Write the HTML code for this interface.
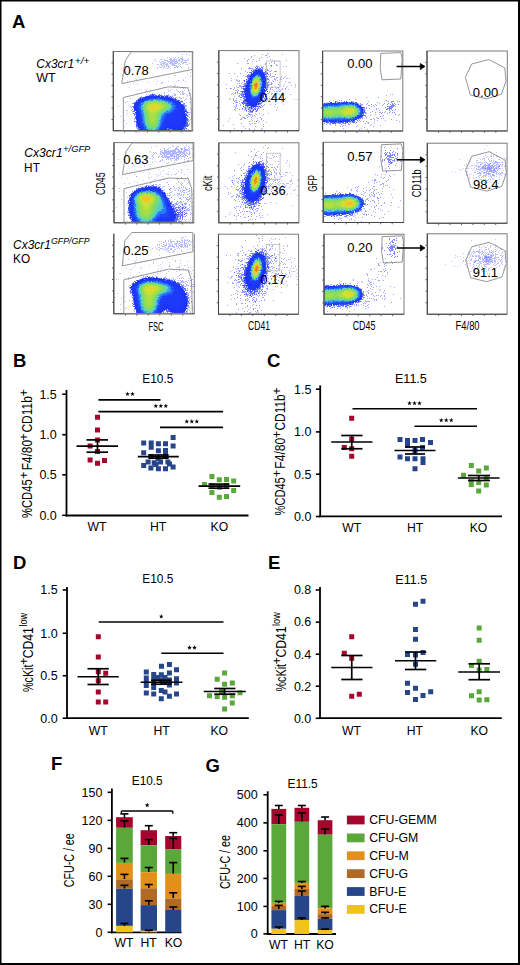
<!DOCTYPE html>
<html><head><meta charset="utf-8"><style>
html,body{margin:0;padding:0;background:#fff;}
body{width:520px;height:965px;overflow:hidden;position:relative;}
svg{position:absolute;left:0;top:0;font-family:"Liberation Sans",sans-serif;}
text{stroke:none;}
text[font-weight="bold"]{stroke:none;}
</style></head><body>
<svg width="520" height="965" viewBox="0 0 520 965">
<text x="11.90" y="27.90" font-size="18.5" font-weight="bold">A</text>
<text x="13.00" y="367.20" font-size="18.5" font-weight="bold">B</text>
<text x="267.10" y="367.20" font-size="18.5" font-weight="bold">C</text>
<text x="13.00" y="568.50" font-size="18.5" font-weight="bold">D</text>
<text x="268.00" y="568.50" font-size="18.5" font-weight="bold">E</text>
<text x="50.90" y="770.00" font-size="18.5" font-weight="bold">F</text>
<text x="205.40" y="772.30" font-size="18.5" font-weight="bold">G</text>
<line x1="66.50" y1="389.90" x2="66.50" y2="516.40" stroke="#000" stroke-width="1.8"/>
<line x1="65.60" y1="515.50" x2="248.50" y2="515.50" stroke="#000" stroke-width="1.8"/>
<line x1="62.20" y1="394.20" x2="66.50" y2="394.20" stroke="#000" stroke-width="1.6"/>
<text x="56.80" y="398.50" font-size="12.5" text-anchor="end">1.5</text>
<line x1="62.20" y1="434.70" x2="66.50" y2="434.70" stroke="#000" stroke-width="1.6"/>
<text x="56.80" y="439.00" font-size="12.5" text-anchor="end">1.0</text>
<line x1="62.20" y1="474.80" x2="66.50" y2="474.80" stroke="#000" stroke-width="1.6"/>
<text x="56.80" y="479.10" font-size="12.5" text-anchor="end">0.5</text>
<line x1="62.20" y1="515.30" x2="66.50" y2="515.30" stroke="#000" stroke-width="1.6"/>
<text x="56.80" y="519.60" font-size="12.5" text-anchor="end">0.0</text>
<text x="157.80" y="382.70" font-size="12" text-anchor="middle" textLength="31.00" lengthAdjust="spacingAndGlyphs">E10.5</text>
<text x="97.00" y="531.00" font-size="12.2" text-anchor="middle">WT</text>
<text x="158.00" y="531.00" font-size="12.2" text-anchor="middle">HT</text>
<text x="219.40" y="531.00" font-size="12.2" text-anchor="middle">KO</text>
<g transform="translate(32.40,1000.0) rotate(-90)"><text x="482.00" y="0" font-size="15.2" textLength="38.70" lengthAdjust="spacingAndGlyphs">%CD45</text><text x="524.80" y="-4.7" font-size="12" text-anchor="middle">+</text><text x="529.70" y="0" font-size="15.2" textLength="30.40" lengthAdjust="spacingAndGlyphs">F4/80</text><text x="562.90" y="-4.7" font-size="12" text-anchor="middle">+</text><text x="567.40" y="0" font-size="15.2" textLength="36.50" lengthAdjust="spacingAndGlyphs">CD11b</text><text x="607.20" y="-4.7" font-size="12" text-anchor="middle">+</text></g>
<line x1="98.40" y1="399.90" x2="160.50" y2="399.90" stroke="#000" stroke-width="1.6"/>
<path d="M127.50 391.60L128.09 393.24L129.83 393.29L128.45 394.36L128.94 396.03L127.50 395.05L126.06 396.03L126.55 394.36L125.17 393.29L126.91 393.24ZM132.50 391.60L133.09 393.24L134.83 393.29L133.45 394.36L133.94 396.03L132.50 395.05L131.06 396.03L131.55 394.36L130.17 393.29L131.91 393.24Z" fill="#000"/>
<line x1="98.40" y1="411.60" x2="223.10" y2="411.60" stroke="#000" stroke-width="1.6"/>
<path d="M155.80 403.60L156.39 405.24L158.13 405.29L156.75 406.36L157.24 408.03L155.80 407.05L154.36 408.03L154.85 406.36L153.47 405.29L155.21 405.24ZM160.80 403.60L161.39 405.24L163.13 405.29L161.75 406.36L162.24 408.03L160.80 407.05L159.36 408.03L159.85 406.36L158.47 405.29L160.21 405.24ZM165.80 403.60L166.39 405.24L168.13 405.29L166.75 406.36L167.24 408.03L165.80 407.05L164.36 408.03L164.85 406.36L163.47 405.29L165.21 405.24Z" fill="#000"/>
<line x1="160.00" y1="427.40" x2="223.10" y2="427.40" stroke="#000" stroke-width="1.6"/>
<path d="M186.80 419.10L187.39 420.74L189.13 420.79L187.75 421.86L188.24 423.53L186.80 422.55L185.36 423.53L185.85 421.86L184.47 420.79L186.21 420.74ZM191.80 419.10L192.39 420.74L194.13 420.79L192.75 421.86L193.24 423.53L191.80 422.55L190.36 423.53L190.85 421.86L189.47 420.79L191.21 420.74ZM196.80 419.10L197.39 420.74L199.13 420.79L197.75 421.86L198.24 423.53L196.80 422.55L195.36 423.53L195.85 421.86L194.47 420.79L196.21 420.74Z" fill="#000"/>
<path d="M95.0 414.8h5.0v5.0h-5.0zM95.0 427.4h5.0v5.0h-5.0zM95.0 437.4h5.0v5.0h-5.0zM87.6 443.4h5.0v5.0h-5.0zM95.0 449.0h5.0v5.0h-5.0zM87.6 457.4h5.0v5.0h-5.0zM95.0 460.7h5.0v5.0h-5.0zM102.0 457.9h5.0v5.0h-5.0z" fill="#a5062d"/>
<path d="M170.6 435.0h5.0v5.0h-5.0zM141.2 440.6h5.0v5.0h-5.0zM148.7 440.6h5.0v5.0h-5.0zM148.7 444.8h5.0v5.0h-5.0zM155.9 441.2h5.0v5.0h-5.0zM163.0 441.2h5.0v5.0h-5.0zM170.6 443.4h5.0v5.0h-5.0zM141.2 450.3h5.0v5.0h-5.0zM155.9 448.2h5.0v5.0h-5.0zM163.0 448.1h5.0v5.0h-5.0zM163.0 452.9h5.0v5.0h-5.0zM148.4 454.1h5.0v5.0h-5.0zM155.7 456.2h5.0v5.0h-5.0zM145.6 459.4h5.0v5.0h-5.0zM151.7 460.2h5.0v5.0h-5.0zM158.1 459.4h5.0v5.0h-5.0zM165.4 459.4h5.0v5.0h-5.0zM141.2 463.0h5.0v5.0h-5.0zM148.4 465.5h5.0v5.0h-5.0zM155.9 466.3h5.0v5.0h-5.0zM163.0 466.3h5.0v5.0h-5.0zM170.6 464.6h5.0v5.0h-5.0zM167.0 461.4h5.0v5.0h-5.0zM153.5 462.0h5.0v5.0h-5.0z" fill="#27468a"/>
<path d="M209.4 474.0h5.0v5.0h-5.0zM216.8 477.2h5.0v5.0h-5.0zM224.0 476.9h5.0v5.0h-5.0zM231.2 478.5h5.0v5.0h-5.0zM202.0 482.0h5.0v5.0h-5.0zM209.4 483.0h5.0v5.0h-5.0zM216.8 484.7h5.0v5.0h-5.0zM224.0 483.0h5.0v5.0h-5.0zM231.2 488.0h5.0v5.0h-5.0zM209.4 490.1h5.0v5.0h-5.0zM216.8 494.7h5.0v5.0h-5.0zM224.0 494.1h5.0v5.0h-5.0z" fill="#5aa83a"/>
<line x1="76.50" y1="446.10" x2="118.00" y2="446.10" stroke="#000" stroke-width="1.7"/>
<line x1="86.50" y1="439.90" x2="108.00" y2="439.90" stroke="#000" stroke-width="1.7"/>
<line x1="86.50" y1="452.20" x2="108.00" y2="452.20" stroke="#000" stroke-width="1.7"/>
<line x1="97.50" y1="439.90" x2="97.50" y2="452.20" stroke="#000" stroke-width="1.7"/>
<line x1="137.80" y1="456.60" x2="178.80" y2="456.60" stroke="#000" stroke-width="1.7"/>
<line x1="148.50" y1="455.00" x2="168.70" y2="455.00" stroke="#000" stroke-width="1.7"/>
<line x1="148.50" y1="458.20" x2="168.70" y2="458.20" stroke="#000" stroke-width="1.7"/>
<line x1="158.40" y1="455.00" x2="158.40" y2="458.20" stroke="#000" stroke-width="1.7"/>
<line x1="198.50" y1="486.20" x2="240.20" y2="486.20" stroke="#000" stroke-width="1.7"/>
<line x1="208.50" y1="484.10" x2="229.40" y2="484.10" stroke="#000" stroke-width="1.7"/>
<line x1="208.50" y1="488.20" x2="229.40" y2="488.20" stroke="#000" stroke-width="1.7"/>
<line x1="219.30" y1="484.10" x2="219.30" y2="488.20" stroke="#000" stroke-width="1.7"/>
<line x1="320.20" y1="385.40" x2="320.20" y2="517.30" stroke="#000" stroke-width="1.8"/>
<line x1="319.30" y1="516.40" x2="502.00" y2="516.40" stroke="#000" stroke-width="1.8"/>
<line x1="315.90" y1="389.20" x2="320.20" y2="389.20" stroke="#000" stroke-width="1.6"/>
<text x="311.40" y="393.50" font-size="12.5" text-anchor="end">1.5</text>
<line x1="315.90" y1="431.90" x2="320.20" y2="431.90" stroke="#000" stroke-width="1.6"/>
<text x="311.40" y="436.20" font-size="12.5" text-anchor="end">1.0</text>
<line x1="315.90" y1="474.20" x2="320.20" y2="474.20" stroke="#000" stroke-width="1.6"/>
<text x="311.40" y="478.50" font-size="12.5" text-anchor="end">0.5</text>
<line x1="315.90" y1="516.50" x2="320.20" y2="516.50" stroke="#000" stroke-width="1.6"/>
<text x="311.40" y="520.80" font-size="12.5" text-anchor="end">0.0</text>
<text x="410.90" y="382.50" font-size="12" text-anchor="middle" textLength="31.80" lengthAdjust="spacingAndGlyphs">E11.5</text>
<text x="351.70" y="532.00" font-size="12.2" text-anchor="middle">WT</text>
<text x="415.20" y="532.00" font-size="12.2" text-anchor="middle">HT</text>
<text x="478.50" y="532.00" font-size="12.2" text-anchor="middle">KO</text>
<g transform="translate(285.40,1000.0) rotate(-90)"><text x="484.50" y="0" font-size="15.2" textLength="38.30" lengthAdjust="spacingAndGlyphs">%CD45</text><text x="526.60" y="-4.7" font-size="12" text-anchor="middle">+</text><text x="531.30" y="0" font-size="15.2" textLength="31.00" lengthAdjust="spacingAndGlyphs">F4/80</text><text x="565.50" y="-4.7" font-size="12" text-anchor="middle">+</text><text x="569.50" y="0" font-size="15.2" textLength="36.10" lengthAdjust="spacingAndGlyphs">CD11b</text><text x="609.10" y="-4.7" font-size="12" text-anchor="middle">+</text></g>
<line x1="352.50" y1="408.75" x2="477.00" y2="408.75" stroke="#000" stroke-width="1.6"/>
<path d="M409.50 400.80L410.09 402.44L411.83 402.49L410.45 403.56L410.94 405.23L409.50 404.25L408.06 405.23L408.55 403.56L407.17 402.49L408.91 402.44ZM414.50 400.80L415.09 402.44L416.83 402.49L415.45 403.56L415.94 405.23L414.50 404.25L413.06 405.23L413.55 403.56L412.17 402.49L413.91 402.44ZM419.50 400.80L420.09 402.44L421.83 402.49L420.45 403.56L420.94 405.23L419.50 404.25L418.06 405.23L418.55 403.56L417.17 402.49L418.91 402.44Z" fill="#000"/>
<line x1="414.50" y1="426.25" x2="477.00" y2="426.25" stroke="#000" stroke-width="1.6"/>
<path d="M441.25 417.80L441.84 419.44L443.58 419.49L442.20 420.56L442.69 422.23L441.25 421.25L439.81 422.23L440.30 420.56L438.92 419.49L440.66 419.44ZM446.25 417.80L446.84 419.44L448.58 419.49L447.20 420.56L447.69 422.23L446.25 421.25L444.81 422.23L445.30 420.56L443.92 419.49L445.66 419.44ZM451.25 417.80L451.84 419.44L453.58 419.49L452.20 420.56L452.69 422.23L451.25 421.25L449.81 422.23L450.30 420.56L448.92 419.49L450.66 419.44Z" fill="#000"/>
<path d="M349.2 415.8h5.0v5.0h-5.0zM349.2 436.8h5.0v5.0h-5.0zM341.8 445.0h5.0v5.0h-5.0zM349.2 446.2h5.0v5.0h-5.0zM349.2 453.8h5.0v5.0h-5.0z" fill="#a5062d"/>
<path d="M397.5 437.0h5.0v5.0h-5.0zM405.0 438.0h5.0v5.0h-5.0zM405.0 442.5h5.0v5.0h-5.0zM412.5 438.0h5.0v5.0h-5.0zM420.0 437.0h5.0v5.0h-5.0zM428.0 440.0h5.0v5.0h-5.0zM420.0 445.0h5.0v5.0h-5.0zM412.5 448.0h5.0v5.0h-5.0zM397.5 454.5h5.0v5.0h-5.0zM405.0 456.2h5.0v5.0h-5.0zM412.5 456.2h5.0v5.0h-5.0zM420.5 456.2h5.0v5.0h-5.0zM420.5 460.0h5.0v5.0h-5.0zM412.5 466.2h5.0v5.0h-5.0z" fill="#27468a"/>
<path d="M468.8 463.1h5.0v5.0h-5.0zM483.8 465.5h5.0v5.0h-5.0zM476.2 468.5h5.0v5.0h-5.0zM461.0 472.7h5.0v5.0h-5.0zM468.8 479.0h5.0v5.0h-5.0zM476.2 480.0h5.0v5.0h-5.0zM483.8 475.6h5.0v5.0h-5.0zM483.8 482.5h5.0v5.0h-5.0zM468.8 482.0h5.0v5.0h-5.0zM476.2 488.5h5.0v5.0h-5.0z" fill="#5aa83a"/>
<line x1="331.25" y1="442.00" x2="372.50" y2="442.00" stroke="#000" stroke-width="1.7"/>
<line x1="341.25" y1="435.50" x2="362.50" y2="435.50" stroke="#000" stroke-width="1.7"/>
<line x1="341.25" y1="448.75" x2="362.50" y2="448.75" stroke="#000" stroke-width="1.7"/>
<line x1="351.75" y1="435.50" x2="351.75" y2="448.75" stroke="#000" stroke-width="1.7"/>
<line x1="394.50" y1="450.50" x2="435.50" y2="450.50" stroke="#000" stroke-width="1.7"/>
<line x1="405.00" y1="447.00" x2="425.00" y2="447.00" stroke="#000" stroke-width="1.7"/>
<line x1="405.00" y1="454.00" x2="425.00" y2="454.00" stroke="#000" stroke-width="1.7"/>
<line x1="415.00" y1="447.00" x2="415.00" y2="454.00" stroke="#000" stroke-width="1.7"/>
<line x1="458.00" y1="478.00" x2="499.50" y2="478.00" stroke="#000" stroke-width="1.7"/>
<line x1="468.00" y1="475.50" x2="490.00" y2="475.50" stroke="#000" stroke-width="1.7"/>
<line x1="468.00" y1="480.50" x2="490.00" y2="480.50" stroke="#000" stroke-width="1.7"/>
<line x1="478.75" y1="475.50" x2="478.75" y2="480.50" stroke="#000" stroke-width="1.7"/>
<line x1="67.00" y1="587.00" x2="67.00" y2="719.10" stroke="#000" stroke-width="1.8"/>
<line x1="66.10" y1="718.20" x2="248.80" y2="718.20" stroke="#000" stroke-width="1.8"/>
<line x1="62.70" y1="590.00" x2="67.00" y2="590.00" stroke="#000" stroke-width="1.6"/>
<text x="57.60" y="594.30" font-size="12.5" text-anchor="end">1.5</text>
<line x1="62.70" y1="633.25" x2="67.00" y2="633.25" stroke="#000" stroke-width="1.6"/>
<text x="57.60" y="637.55" font-size="12.5" text-anchor="end">1.0</text>
<line x1="62.70" y1="675.75" x2="67.00" y2="675.75" stroke="#000" stroke-width="1.6"/>
<text x="57.60" y="680.05" font-size="12.5" text-anchor="end">0.5</text>
<line x1="62.70" y1="718.20" x2="67.00" y2="718.20" stroke="#000" stroke-width="1.6"/>
<text x="57.60" y="722.50" font-size="12.5" text-anchor="end">0.0</text>
<text x="157.80" y="583.00" font-size="12" text-anchor="middle" textLength="31.00" lengthAdjust="spacingAndGlyphs">E10.5</text>
<text x="98.20" y="734.60" font-size="12.2" text-anchor="middle">WT</text>
<text x="161.60" y="734.60" font-size="12.2" text-anchor="middle">HT</text>
<text x="219.30" y="734.60" font-size="12.2" text-anchor="middle">KO</text>
<g transform="translate(33.10,1000.0) rotate(-90)"><text x="307.90" y="0" font-size="15.2" textLength="27.60" lengthAdjust="spacingAndGlyphs">%cKit</text><text x="338.70" y="-4.7" font-size="12" text-anchor="middle">+</text><text x="341.80" y="0" font-size="15.2" textLength="31.10" lengthAdjust="spacingAndGlyphs">CD41</text><text x="373.50" y="-6.0" font-size="11.2" textLength="13.60" lengthAdjust="spacingAndGlyphs">low</text></g>
<line x1="98.75" y1="622.00" x2="223.50" y2="622.00" stroke="#000" stroke-width="1.6"/>
<path d="M161.25 614.05L161.84 615.69L163.58 615.74L162.20 616.81L162.69 618.48L161.25 617.50L159.81 618.48L160.30 616.81L158.92 615.74L160.66 615.69Z" fill="#000"/>
<line x1="161.25" y1="653.30" x2="223.50" y2="653.30" stroke="#000" stroke-width="1.6"/>
<path d="M189.50 645.20L190.09 646.84L191.83 646.89L190.45 647.96L190.94 649.63L189.50 648.65L188.06 649.63L188.55 647.96L187.17 646.89L188.91 646.84ZM194.50 645.20L195.09 646.84L196.83 646.89L195.45 647.96L195.94 649.63L194.50 648.65L193.06 649.63L193.55 647.96L192.17 646.89L193.91 646.84Z" fill="#000"/>
<path d="M95.8 634.2h5.0v5.0h-5.0zM95.8 654.5h5.0v5.0h-5.0zM95.8 669.2h5.0v5.0h-5.0zM103.2 670.8h5.0v5.0h-5.0zM95.8 678.2h5.0v5.0h-5.0zM95.8 689.5h5.0v5.0h-5.0zM95.8 699.5h5.0v5.0h-5.0zM103.2 699.5h5.0v5.0h-5.0z" fill="#a5062d"/>
<path d="M159.0 663.8h5.0v5.0h-5.0zM166.9 661.9h5.0v5.0h-5.0zM174.0 667.2h5.0v5.0h-5.0zM143.8 669.4h5.0v5.0h-5.0zM151.2 671.9h5.0v5.0h-5.0zM158.8 672.2h5.0v5.0h-5.0zM166.9 670.6h5.0v5.0h-5.0zM143.8 675.6h5.0v5.0h-5.0zM143.8 680.0h5.0v5.0h-5.0zM143.8 683.1h5.0v5.0h-5.0zM151.2 676.2h5.0v5.0h-5.0zM151.2 680.6h5.0v5.0h-5.0zM151.2 685.0h5.0v5.0h-5.0zM155.0 675.0h5.0v5.0h-5.0zM158.8 677.5h5.0v5.0h-5.0zM162.5 675.0h5.0v5.0h-5.0zM162.5 680.0h5.0v5.0h-5.0zM166.9 677.5h5.0v5.0h-5.0zM166.9 682.5h5.0v5.0h-5.0zM174.0 676.2h5.0v5.0h-5.0zM174.0 680.6h5.0v5.0h-5.0zM143.8 690.6h5.0v5.0h-5.0zM151.2 691.5h5.0v5.0h-5.0zM158.8 688.1h5.0v5.0h-5.0zM162.5 689.4h5.0v5.0h-5.0zM166.9 693.8h5.0v5.0h-5.0zM174.0 691.5h5.0v5.0h-5.0zM158.8 696.2h5.0v5.0h-5.0z" fill="#27468a"/>
<path d="M222.1 670.6h5.0v5.0h-5.0zM214.7 676.7h5.0v5.0h-5.0zM222.1 681.8h5.0v5.0h-5.0zM229.8 680.6h5.0v5.0h-5.0zM219.0 689.0h5.0v5.0h-5.0zM207.0 693.2h5.0v5.0h-5.0zM214.7 694.1h5.0v5.0h-5.0zM222.1 694.7h5.0v5.0h-5.0zM229.8 693.2h5.0v5.0h-5.0zM237.5 690.3h5.0v5.0h-5.0zM229.8 700.6h5.0v5.0h-5.0zM222.1 706.4h5.0v5.0h-5.0z" fill="#5aa83a"/>
<line x1="77.50" y1="676.75" x2="118.75" y2="676.75" stroke="#000" stroke-width="1.7"/>
<line x1="87.50" y1="668.75" x2="108.75" y2="668.75" stroke="#000" stroke-width="1.7"/>
<line x1="87.50" y1="684.50" x2="108.75" y2="684.50" stroke="#000" stroke-width="1.7"/>
<line x1="98.25" y1="668.75" x2="98.25" y2="684.50" stroke="#000" stroke-width="1.7"/>
<line x1="140.60" y1="682.25" x2="182.50" y2="682.25" stroke="#000" stroke-width="1.7"/>
<line x1="151.00" y1="680.30" x2="171.50" y2="680.30" stroke="#000" stroke-width="1.7"/>
<line x1="151.00" y1="684.20" x2="171.50" y2="684.20" stroke="#000" stroke-width="1.7"/>
<line x1="161.25" y1="680.30" x2="161.25" y2="684.20" stroke="#000" stroke-width="1.7"/>
<line x1="203.80" y1="691.50" x2="245.80" y2="691.50" stroke="#000" stroke-width="1.7"/>
<line x1="214.20" y1="688.50" x2="235.40" y2="688.50" stroke="#000" stroke-width="1.7"/>
<line x1="214.20" y1="694.20" x2="235.40" y2="694.20" stroke="#000" stroke-width="1.7"/>
<line x1="224.60" y1="688.50" x2="224.60" y2="694.20" stroke="#000" stroke-width="1.7"/>
<line x1="320.00" y1="587.00" x2="320.00" y2="719.10" stroke="#000" stroke-width="1.8"/>
<line x1="319.10" y1="718.20" x2="501.80" y2="718.20" stroke="#000" stroke-width="1.8"/>
<line x1="315.70" y1="590.00" x2="320.00" y2="590.00" stroke="#000" stroke-width="1.6"/>
<text x="311.30" y="594.30" font-size="12.5" text-anchor="end">0.8</text>
<line x1="315.70" y1="622.10" x2="320.00" y2="622.10" stroke="#000" stroke-width="1.6"/>
<text x="311.30" y="626.40" font-size="12.5" text-anchor="end">0.6</text>
<line x1="315.70" y1="654.20" x2="320.00" y2="654.20" stroke="#000" stroke-width="1.6"/>
<text x="311.30" y="658.50" font-size="12.5" text-anchor="end">0.4</text>
<line x1="315.70" y1="686.20" x2="320.00" y2="686.20" stroke="#000" stroke-width="1.6"/>
<text x="311.30" y="690.50" font-size="12.5" text-anchor="end">0.2</text>
<line x1="315.70" y1="718.30" x2="320.00" y2="718.30" stroke="#000" stroke-width="1.6"/>
<text x="311.30" y="722.60" font-size="12.5" text-anchor="end">0.0</text>
<text x="411.20" y="583.50" font-size="12" text-anchor="middle" textLength="31.80" lengthAdjust="spacingAndGlyphs">E11.5</text>
<text x="351.40" y="734.80" font-size="12.2" text-anchor="middle">WT</text>
<text x="414.90" y="734.80" font-size="12.2" text-anchor="middle">HT</text>
<text x="479.20" y="734.80" font-size="12.2" text-anchor="middle">KO</text>
<g transform="translate(285.70,1000.0) rotate(-90)"><text x="308.50" y="0" font-size="15.2" textLength="27.60" lengthAdjust="spacingAndGlyphs">%cKit</text><text x="339.30" y="-4.7" font-size="12" text-anchor="middle">+</text><text x="342.40" y="0" font-size="15.2" textLength="31.10" lengthAdjust="spacingAndGlyphs">CD41</text><text x="374.10" y="-6.0" font-size="11.2" textLength="13.60" lengthAdjust="spacingAndGlyphs">low</text></g>
<path d="M349.2 634.2h5.0v5.0h-5.0zM341.8 650.8h5.0v5.0h-5.0zM349.2 655.8h5.0v5.0h-5.0zM349.2 693.8h5.0v5.0h-5.0zM356.8 691.8h5.0v5.0h-5.0z" fill="#a5062d"/>
<path d="M413.0 601.8h5.0v5.0h-5.0zM420.5 598.8h5.0v5.0h-5.0zM413.0 627.0h5.0v5.0h-5.0zM413.0 636.8h5.0v5.0h-5.0zM405.0 652.0h5.0v5.0h-5.0zM413.0 652.5h5.0v5.0h-5.0zM420.5 650.0h5.0v5.0h-5.0zM413.0 661.8h5.0v5.0h-5.0zM405.0 680.8h5.0v5.0h-5.0zM413.0 685.8h5.0v5.0h-5.0zM405.0 690.0h5.0v5.0h-5.0zM428.2 689.2h5.0v5.0h-5.0zM420.5 693.0h5.0v5.0h-5.0zM413.0 697.0h5.0v5.0h-5.0z" fill="#27468a"/>
<path d="M476.7 625.5h5.0v5.0h-5.0zM476.7 637.8h5.0v5.0h-5.0zM476.7 658.7h5.0v5.0h-5.0zM469.0 662.9h5.0v5.0h-5.0zM476.7 667.5h5.0v5.0h-5.0zM484.4 667.0h5.0v5.0h-5.0zM476.7 689.3h5.0v5.0h-5.0zM469.0 693.2h5.0v5.0h-5.0zM476.7 697.5h5.0v5.0h-5.0zM484.4 697.2h5.0v5.0h-5.0z" fill="#5aa83a"/>
<line x1="331.25" y1="667.50" x2="372.50" y2="667.50" stroke="#000" stroke-width="1.7"/>
<line x1="341.25" y1="655.50" x2="362.50" y2="655.50" stroke="#000" stroke-width="1.7"/>
<line x1="341.25" y1="679.50" x2="362.50" y2="679.50" stroke="#000" stroke-width="1.7"/>
<line x1="351.75" y1="655.50" x2="351.75" y2="679.50" stroke="#000" stroke-width="1.7"/>
<line x1="395.00" y1="660.75" x2="436.25" y2="660.75" stroke="#000" stroke-width="1.7"/>
<line x1="405.00" y1="652.00" x2="426.25" y2="652.00" stroke="#000" stroke-width="1.7"/>
<line x1="405.00" y1="669.50" x2="426.25" y2="669.50" stroke="#000" stroke-width="1.7"/>
<line x1="415.50" y1="652.00" x2="415.50" y2="669.50" stroke="#000" stroke-width="1.7"/>
<line x1="458.20" y1="672.00" x2="500.00" y2="672.00" stroke="#000" stroke-width="1.7"/>
<line x1="468.50" y1="663.80" x2="490.00" y2="663.80" stroke="#000" stroke-width="1.7"/>
<line x1="468.50" y1="679.70" x2="490.00" y2="679.70" stroke="#000" stroke-width="1.7"/>
<line x1="479.20" y1="663.80" x2="479.20" y2="679.70" stroke="#000" stroke-width="1.7"/>
<line x1="111.90" y1="788.50" x2="111.90" y2="933.20" stroke="#000" stroke-width="1.8"/>
<line x1="111.00" y1="932.30" x2="181.50" y2="932.30" stroke="#000" stroke-width="1.8"/>
<line x1="107.60" y1="792.30" x2="111.90" y2="792.30" stroke="#000" stroke-width="1.6"/>
<text x="102.40" y="796.60" font-size="12.5" text-anchor="end">150</text>
<line x1="107.60" y1="820.40" x2="111.90" y2="820.40" stroke="#000" stroke-width="1.6"/>
<text x="102.40" y="824.70" font-size="12.5" text-anchor="end">120</text>
<line x1="107.60" y1="848.40" x2="111.90" y2="848.40" stroke="#000" stroke-width="1.6"/>
<text x="102.40" y="852.70" font-size="12.5" text-anchor="end">90</text>
<line x1="107.60" y1="876.30" x2="111.90" y2="876.30" stroke="#000" stroke-width="1.6"/>
<text x="102.40" y="880.60" font-size="12.5" text-anchor="end">60</text>
<line x1="107.60" y1="904.30" x2="111.90" y2="904.30" stroke="#000" stroke-width="1.6"/>
<text x="102.40" y="908.60" font-size="12.5" text-anchor="end">30</text>
<line x1="107.60" y1="932.30" x2="111.90" y2="932.30" stroke="#000" stroke-width="1.6"/>
<text x="102.40" y="936.60" font-size="12.5" text-anchor="end">0</text>
<text x="147.20" y="785.40" font-size="12" text-anchor="middle" textLength="30.90" lengthAdjust="spacingAndGlyphs">E10.5</text>
<text x="124.00" y="947.20" font-size="12.2" text-anchor="middle">WT</text>
<text x="148.50" y="947.20" font-size="12.2" text-anchor="middle">HT</text>
<text x="173.50" y="947.20" font-size="12.2" text-anchor="middle">KO</text>
<g transform="translate(74.00,1000.0) rotate(-90)"><text x="112.80" y="0" font-size="15.2" textLength="53.90" lengthAdjust="spacingAndGlyphs">CFU-C / ee</text></g>
<rect x="116.10" y="817.20" width="16.70" height="10.60" fill="#a5062d"/>
<rect x="116.10" y="827.80" width="16.70" height="35.10" fill="#5aa83a"/>
<rect x="116.10" y="862.90" width="16.70" height="16.40" fill="#e2901a"/>
<rect x="116.10" y="879.30" width="16.70" height="9.50" fill="#b06a26"/>
<rect x="116.10" y="888.80" width="16.70" height="37.10" fill="#27468a"/>
<rect x="116.10" y="925.90" width="16.70" height="6.40" fill="#f0c21c"/>
<line x1="120.45" y1="813.90" x2="128.45" y2="813.90" stroke="#000" stroke-width="1.6"/>
<line x1="124.45" y1="813.90" x2="124.45" y2="818.00" stroke="#000" stroke-width="1.6"/>
<line x1="120.45" y1="820.90" x2="128.45" y2="820.90" stroke="#000" stroke-width="1.6"/>
<line x1="124.45" y1="820.90" x2="124.45" y2="827.50" stroke="#000" stroke-width="1.6"/>
<line x1="120.45" y1="858.40" x2="128.45" y2="858.40" stroke="#000" stroke-width="1.6"/>
<line x1="124.45" y1="858.40" x2="124.45" y2="862.50" stroke="#000" stroke-width="1.6"/>
<line x1="120.45" y1="874.40" x2="128.45" y2="874.40" stroke="#000" stroke-width="1.6"/>
<line x1="124.45" y1="874.40" x2="124.45" y2="879.00" stroke="#000" stroke-width="1.6"/>
<line x1="120.45" y1="885.30" x2="128.45" y2="885.30" stroke="#000" stroke-width="1.6"/>
<line x1="124.45" y1="885.30" x2="124.45" y2="888.50" stroke="#000" stroke-width="1.6"/>
<line x1="120.45" y1="923.40" x2="128.45" y2="923.40" stroke="#000" stroke-width="1.6"/>
<line x1="124.45" y1="923.40" x2="124.45" y2="926.00" stroke="#000" stroke-width="1.6"/>
<rect x="140.60" y="830.20" width="16.40" height="15.20" fill="#a5062d"/>
<rect x="140.60" y="845.40" width="16.40" height="26.80" fill="#5aa83a"/>
<rect x="140.60" y="872.20" width="16.40" height="16.10" fill="#e2901a"/>
<rect x="140.60" y="888.30" width="16.40" height="16.80" fill="#b06a26"/>
<rect x="140.60" y="905.10" width="16.40" height="25.70" fill="#27468a"/>
<rect x="140.60" y="930.80" width="16.40" height="1.50" fill="#f0c21c"/>
<line x1="144.80" y1="825.70" x2="152.80" y2="825.70" stroke="#000" stroke-width="1.6"/>
<line x1="148.80" y1="825.70" x2="148.80" y2="830.50" stroke="#000" stroke-width="1.6"/>
<line x1="144.80" y1="839.60" x2="152.80" y2="839.60" stroke="#000" stroke-width="1.6"/>
<line x1="148.80" y1="839.60" x2="148.80" y2="845.00" stroke="#000" stroke-width="1.6"/>
<line x1="144.80" y1="867.50" x2="152.80" y2="867.50" stroke="#000" stroke-width="1.6"/>
<line x1="148.80" y1="867.50" x2="148.80" y2="872.00" stroke="#000" stroke-width="1.6"/>
<line x1="144.80" y1="884.50" x2="152.80" y2="884.50" stroke="#000" stroke-width="1.6"/>
<line x1="148.80" y1="884.50" x2="148.80" y2="888.00" stroke="#000" stroke-width="1.6"/>
<line x1="144.80" y1="900.80" x2="152.80" y2="900.80" stroke="#000" stroke-width="1.6"/>
<line x1="148.80" y1="900.80" x2="148.80" y2="905.00" stroke="#000" stroke-width="1.6"/>
<line x1="144.80" y1="930.30" x2="152.80" y2="930.30" stroke="#000" stroke-width="1.6"/>
<line x1="148.80" y1="930.30" x2="148.80" y2="931.50" stroke="#000" stroke-width="1.6"/>
<rect x="165.20" y="836.00" width="16.10" height="13.50" fill="#a5062d"/>
<rect x="165.20" y="849.50" width="16.10" height="24.40" fill="#5aa83a"/>
<rect x="165.20" y="873.90" width="16.10" height="24.50" fill="#e2901a"/>
<rect x="165.20" y="898.40" width="16.10" height="11.60" fill="#b06a26"/>
<rect x="165.20" y="910.00" width="16.10" height="22.30" fill="#27468a"/>
<line x1="169.25" y1="832.70" x2="177.25" y2="832.70" stroke="#000" stroke-width="1.6"/>
<line x1="173.25" y1="832.70" x2="173.25" y2="836.50" stroke="#000" stroke-width="1.6"/>
<line x1="169.25" y1="838.40" x2="177.25" y2="838.40" stroke="#000" stroke-width="1.6"/>
<line x1="173.25" y1="838.40" x2="173.25" y2="849.00" stroke="#000" stroke-width="1.6"/>
<line x1="169.25" y1="862.60" x2="177.25" y2="862.60" stroke="#000" stroke-width="1.6"/>
<line x1="173.25" y1="862.60" x2="173.25" y2="873.50" stroke="#000" stroke-width="1.6"/>
<line x1="169.25" y1="892.80" x2="177.25" y2="892.80" stroke="#000" stroke-width="1.6"/>
<line x1="173.25" y1="892.80" x2="173.25" y2="898.00" stroke="#000" stroke-width="1.6"/>
<line x1="169.25" y1="907.00" x2="177.25" y2="907.00" stroke="#000" stroke-width="1.6"/>
<line x1="173.25" y1="907.00" x2="173.25" y2="910.00" stroke="#000" stroke-width="1.6"/>
<line x1="121.30" y1="811.00" x2="172.80" y2="811.00" stroke="#000" stroke-width="1.3"/>
<line x1="121.30" y1="811.00" x2="121.30" y2="813.80" stroke="#000" stroke-width="1.3"/>
<line x1="172.80" y1="811.00" x2="172.80" y2="813.80" stroke="#000" stroke-width="1.3"/>
<path d="M147.20 802.70L147.79 804.34L149.53 804.39L148.15 805.46L148.64 807.13L147.20 806.15L145.76 807.13L146.25 805.46L144.87 804.39L146.61 804.34Z" fill="#000"/>
<line x1="267.70" y1="791.30" x2="267.70" y2="934.90" stroke="#000" stroke-width="1.8"/>
<line x1="266.80" y1="934.00" x2="336.00" y2="934.00" stroke="#000" stroke-width="1.8"/>
<line x1="263.40" y1="794.80" x2="267.70" y2="794.80" stroke="#000" stroke-width="1.6"/>
<text x="257.60" y="799.10" font-size="12.5" text-anchor="end">500</text>
<line x1="263.40" y1="822.90" x2="267.70" y2="822.90" stroke="#000" stroke-width="1.6"/>
<text x="257.60" y="827.20" font-size="12.5" text-anchor="end">400</text>
<line x1="263.40" y1="850.80" x2="267.70" y2="850.80" stroke="#000" stroke-width="1.6"/>
<text x="257.60" y="855.10" font-size="12.5" text-anchor="end">300</text>
<line x1="263.40" y1="878.40" x2="267.70" y2="878.40" stroke="#000" stroke-width="1.6"/>
<text x="257.60" y="882.70" font-size="12.5" text-anchor="end">200</text>
<line x1="263.40" y1="906.40" x2="267.70" y2="906.40" stroke="#000" stroke-width="1.6"/>
<text x="257.60" y="910.70" font-size="12.5" text-anchor="end">100</text>
<line x1="263.40" y1="933.90" x2="267.70" y2="933.90" stroke="#000" stroke-width="1.6"/>
<text x="257.60" y="938.20" font-size="12.5" text-anchor="end">0</text>
<text x="302.60" y="787.80" font-size="12" text-anchor="middle" textLength="30.20" lengthAdjust="spacingAndGlyphs">E11.5</text>
<text x="278.60" y="949.00" font-size="12.2" text-anchor="middle">WT</text>
<text x="302.00" y="949.00" font-size="12.2" text-anchor="middle">HT</text>
<text x="325.00" y="949.00" font-size="12.2" text-anchor="middle">KO</text>
<g transform="translate(229.70,1000.0) rotate(-90)"><text x="110.90" y="0" font-size="15.2" textLength="54.00" lengthAdjust="spacingAndGlyphs">CFU-C / ee</text></g>
<rect x="271.40" y="808.90" width="14.80" height="15.30" fill="#a5062d"/>
<rect x="271.40" y="824.20" width="14.80" height="78.60" fill="#5aa83a"/>
<rect x="271.40" y="902.80" width="14.80" height="2.60" fill="#e2901a"/>
<rect x="271.40" y="905.40" width="14.80" height="4.70" fill="#b06a26"/>
<rect x="271.40" y="910.10" width="14.80" height="18.70" fill="#27468a"/>
<rect x="271.40" y="928.80" width="14.80" height="5.20" fill="#f0c21c"/>
<line x1="274.80" y1="805.50" x2="282.80" y2="805.50" stroke="#000" stroke-width="1.6"/>
<line x1="278.80" y1="805.50" x2="278.80" y2="809.00" stroke="#000" stroke-width="1.6"/>
<line x1="274.80" y1="815.00" x2="282.80" y2="815.00" stroke="#000" stroke-width="1.6"/>
<line x1="278.80" y1="815.00" x2="278.80" y2="824.00" stroke="#000" stroke-width="1.6"/>
<line x1="274.80" y1="901.40" x2="282.80" y2="901.40" stroke="#000" stroke-width="1.6"/>
<line x1="278.80" y1="901.40" x2="278.80" y2="903.00" stroke="#000" stroke-width="1.6"/>
<line x1="274.80" y1="905.40" x2="282.80" y2="905.40" stroke="#000" stroke-width="1.6"/>
<line x1="278.80" y1="905.40" x2="278.80" y2="909.00" stroke="#000" stroke-width="1.6"/>
<line x1="274.80" y1="927.00" x2="282.80" y2="927.00" stroke="#000" stroke-width="1.6"/>
<line x1="278.80" y1="927.00" x2="278.80" y2="929.00" stroke="#000" stroke-width="1.6"/>
<rect x="294.50" y="807.80" width="14.70" height="14.00" fill="#a5062d"/>
<rect x="294.50" y="821.80" width="14.70" height="61.10" fill="#5aa83a"/>
<rect x="294.50" y="882.90" width="14.70" height="6.10" fill="#e2901a"/>
<rect x="294.50" y="889.00" width="14.70" height="6.90" fill="#b06a26"/>
<rect x="294.50" y="895.90" width="14.70" height="24.10" fill="#27468a"/>
<rect x="294.50" y="920.00" width="14.70" height="14.00" fill="#f0c21c"/>
<line x1="297.85" y1="805.50" x2="305.85" y2="805.50" stroke="#000" stroke-width="1.6"/>
<line x1="301.85" y1="805.50" x2="301.85" y2="808.00" stroke="#000" stroke-width="1.6"/>
<line x1="297.85" y1="813.00" x2="305.85" y2="813.00" stroke="#000" stroke-width="1.6"/>
<line x1="301.85" y1="813.00" x2="301.85" y2="821.50" stroke="#000" stroke-width="1.6"/>
<line x1="297.85" y1="881.50" x2="305.85" y2="881.50" stroke="#000" stroke-width="1.6"/>
<line x1="301.85" y1="881.50" x2="301.85" y2="883.00" stroke="#000" stroke-width="1.6"/>
<line x1="297.85" y1="886.40" x2="305.85" y2="886.40" stroke="#000" stroke-width="1.6"/>
<line x1="301.85" y1="886.40" x2="301.85" y2="889.00" stroke="#000" stroke-width="1.6"/>
<line x1="297.85" y1="891.00" x2="305.85" y2="891.00" stroke="#000" stroke-width="1.6"/>
<line x1="301.85" y1="891.00" x2="301.85" y2="896.00" stroke="#000" stroke-width="1.6"/>
<line x1="297.85" y1="917.90" x2="305.85" y2="917.90" stroke="#000" stroke-width="1.6"/>
<line x1="301.85" y1="917.90" x2="301.85" y2="920.00" stroke="#000" stroke-width="1.6"/>
<rect x="317.70" y="820.20" width="14.70" height="14.50" fill="#a5062d"/>
<rect x="317.70" y="834.70" width="14.70" height="73.70" fill="#5aa83a"/>
<rect x="317.70" y="908.40" width="14.70" height="5.70" fill="#e2901a"/>
<rect x="317.70" y="914.10" width="14.70" height="4.60" fill="#b06a26"/>
<rect x="317.70" y="918.70" width="14.70" height="11.30" fill="#27468a"/>
<rect x="317.70" y="930.00" width="14.70" height="4.00" fill="#f0c21c"/>
<line x1="321.05" y1="817.00" x2="329.05" y2="817.00" stroke="#000" stroke-width="1.6"/>
<line x1="325.05" y1="817.00" x2="325.05" y2="820.50" stroke="#000" stroke-width="1.6"/>
<line x1="321.05" y1="829.00" x2="329.05" y2="829.00" stroke="#000" stroke-width="1.6"/>
<line x1="325.05" y1="829.00" x2="325.05" y2="834.50" stroke="#000" stroke-width="1.6"/>
<line x1="321.05" y1="906.30" x2="329.05" y2="906.30" stroke="#000" stroke-width="1.6"/>
<line x1="325.05" y1="906.30" x2="325.05" y2="908.50" stroke="#000" stroke-width="1.6"/>
<line x1="321.05" y1="912.30" x2="329.05" y2="912.30" stroke="#000" stroke-width="1.6"/>
<line x1="325.05" y1="912.30" x2="325.05" y2="914.00" stroke="#000" stroke-width="1.6"/>
<line x1="321.05" y1="917.90" x2="329.05" y2="917.90" stroke="#000" stroke-width="1.6"/>
<line x1="325.05" y1="917.90" x2="325.05" y2="918.70" stroke="#000" stroke-width="1.6"/>
<line x1="321.05" y1="929.10" x2="329.05" y2="929.10" stroke="#000" stroke-width="1.6"/>
<line x1="325.05" y1="929.10" x2="325.05" y2="930.00" stroke="#000" stroke-width="1.6"/>
<rect x="346.90" y="815.60" width="17.70" height="8.80" fill="#a5062d"/>
<text x="369.20" y="824.00" font-size="12.3">CFU-GEMM</text>
<rect x="346.90" y="833.48" width="17.70" height="8.80" fill="#5aa83a"/>
<text x="369.20" y="841.88" font-size="12.3">CFU-GM</text>
<rect x="346.90" y="851.36" width="17.70" height="8.80" fill="#e2901a"/>
<text x="369.20" y="859.76" font-size="12.3">CFU-M</text>
<rect x="346.90" y="869.24" width="17.70" height="8.80" fill="#b06a26"/>
<text x="369.20" y="877.64" font-size="12.3">CFU-G</text>
<rect x="346.90" y="887.12" width="17.70" height="8.80" fill="#27468a"/>
<text x="369.20" y="895.52" font-size="12.3">BFU-E</text>
<rect x="346.90" y="905.00" width="17.70" height="8.80" fill="#f0c21c"/>
<text x="369.20" y="913.40" font-size="12.3">CFU-E</text>
<text x="36.30" y="67.50" font-size="12.8" font-style="italic" textLength="37.80" lengthAdjust="spacingAndGlyphs">Cx3cr1</text>
<text x="74.80" y="64.00" font-size="9.3" font-style="italic" textLength="14.70" lengthAdjust="spacingAndGlyphs">+/+</text>
<text x="36.20" y="81.60" font-size="12.3" textLength="19.40" lengthAdjust="spacingAndGlyphs">WT</text>
<text x="24.20" y="156.60" font-size="12.8" font-style="italic" textLength="38.50" lengthAdjust="spacingAndGlyphs">Cx3cr1</text>
<text x="63.10" y="152.30" font-size="9.3" font-style="italic" textLength="27.20" lengthAdjust="spacingAndGlyphs">+/GFP</text>
<text x="24.10" y="171.50" font-size="12.3" textLength="15.80" lengthAdjust="spacingAndGlyphs">HT</text>
<text x="13.10" y="248.80" font-size="12.8" font-style="italic" textLength="37.70" lengthAdjust="spacingAndGlyphs">Cx3cr1</text>
<text x="51.00" y="243.80" font-size="9.3" font-style="italic" textLength="38.60" lengthAdjust="spacingAndGlyphs">GFP/GFP</text>
<text x="13.00" y="263.20" font-size="12.3" textLength="17.10" lengthAdjust="spacingAndGlyphs">KO</text>
<text transform="translate(105.10,183.65) rotate(-90)" font-size="12.5" text-anchor="middle" textLength="22.7" lengthAdjust="spacingAndGlyphs">CD45</text>
<text transform="translate(211.90,183.35) rotate(-90)" font-size="12.5" text-anchor="middle" textLength="15.5" lengthAdjust="spacingAndGlyphs">cKit</text>
<text transform="translate(316.70,183.35) rotate(-90)" font-size="12.5" text-anchor="middle" textLength="16.7" lengthAdjust="spacingAndGlyphs">GFP</text>
<text transform="translate(420.70,183.35) rotate(-90)" font-size="12.5" text-anchor="middle" textLength="27.9" lengthAdjust="spacingAndGlyphs">CD11b</text>
<text x="155.95" y="330.50" font-size="12" text-anchor="middle" textLength="15.10" lengthAdjust="spacingAndGlyphs">FSC</text>
<text x="259.05" y="329.60" font-size="12" text-anchor="middle" textLength="21.90" lengthAdjust="spacingAndGlyphs">CD41</text>
<text x="364.05" y="329.80" font-size="12" text-anchor="middle" textLength="22.70" lengthAdjust="spacingAndGlyphs">CD45</text>
<text x="467.60" y="329.80" font-size="12" text-anchor="middle" textLength="24.00" lengthAdjust="spacingAndGlyphs">F4/80</text>
<defs><filter id="spk" x="-0.1" y="-0.1" width="1.2" height="1.2" color-interpolation-filters="sRGB">
<feGaussianBlur in="SourceAlpha" stdDeviation="0.6" result="b"/>
<feTurbulence type="fractalNoise" baseFrequency="0.9" numOctaves="2" seed="5" result="n"/>
<feColorMatrix in="n" type="matrix" values="0 0 0 0 0 0 0 0 0 0 0 0 0 0 0 1 0 0 0 0" result="na"/>
<feComposite in="na" in2="b" operator="arithmetic" k1="0" k2="1" k3="1.0" k4="-1.0" result="s"/>
<feComponentTransfer in="s" result="m"><feFuncA type="linear" slope="6" intercept="0"/></feComponentTransfer>
<feFlood flood-color="#2a3cf8" flood-opacity="0.8"/>
<feComposite in2="m" operator="in"/>
</filter>
<filter id="disp" x="-0.05" y="-0.05" width="1.1" height="1.1" color-interpolation-filters="sRGB">
<feTurbulence type="fractalNoise" baseFrequency="0.7" numOctaves="1" seed="11" result="t"/>
<feDisplacementMap in="SourceGraphic" in2="t" scale="4" xChannelSelector="R" yChannelSelector="G"/>
</filter></defs>
<clipPath id="c1"><rect x="113.30" y="51.50" width="79.40" height="79.20"/></clipPath>
<g clip-path="url(#c1)">
<path d="M178 52.5h1m3 2h1m3 0h1m2 1h1m-9 1h1m-13 1h1m3 0h1m1 0h1m2 0h1m3 0h1m-13 1h1m0 0h1m2 0h1m5 0h1m0 0h1m0 0h1m5 0h1m-34 1h1m4 0h1m0 0h1m2 0h1m4 0h1m0 0h1m0 0h1m1 0h1m0 0h1m0 0h1m0 0h1m1 0h1m0 0h1m1 0h1m0 0h1m0 0h1m3 0h1m-24 1h1m0 0h1m0 0h1m0 0h1m2 0h1m0 0h1m0 0h1m0 0h1m0 0h1m1 0h1m1 0h1m0 0h1m0 0h1m1 0h1m1 0h1m0 0h1m0 0h1m1 0h1m-33 1h1m2 0h1m2 0h1m4 0h1m0 0h1m0 0h1m0 0h1m0 0h1m0 0h1m0 0h1m0 0h1m0 0h1m0 0h1m0 0h1m1 0h1m1 0h1m0 0h1m2 0h1m-25 1h1m1 0h1m0 0h1m0 0h1m2 0h1m1 0h1m0 0h1m0 0h1m1 0h1m0 0h1m0 0h1m0 0h1m3 0h1m1 0h1m0 0h1m0 0h1m0 0h1m-35 1h1m7 0h1m1 0h1m0 0h1m0 0h1m1 0h1m0 0h1m1 0h1m0 0h1m0 0h1m0 0h1m0 0h1m0 0h1m0 0h1m0 0h1m1 0h1m0 0h1m2 0h1m0 0h1m5 0h1m-33 1h1m0 0h1m1 0h1m0 0h1m1 0h1m1 0h1m0 0h1m0 0h1m3 0h1m0 0h1m0 0h1m0 0h1m3 0h1m1 0h1m5 0h1m0 0h1m4 0h1m-32 1h1m2 0h1m1 0h1m0 0h1m0 0h1m3 0h1m0 0h1m0 0h1m0 0h1m0 0h1m-18 1h1m2 0h1m1 0h1m1 0h1m1 0h1m1 0h1m5 0h1m0 0h1m0 0h1m1 0h1m-24 1h1m2 0h1m2 0h1m0 0h1m3 0h1m0 0h1m4 0h1m0 0h1m1 0h1m3 0h1m6 0h1m-32 1h1m7 0h1m1 0h1m2 0h1m17 0h1" stroke="#2838ff" stroke-opacity="0.32" stroke-width="1"/>
<path d="M157 81.5h1m3 1h1m0 0h1m-30 1h1m27 0h1m-25 1h1m18 0h1m16 2h1m-45 1h1m45 0h1m6 0h1m-44 2h1m-3 1h1m8 0h1m3 0h1m-6 1h1m36 0h1m-19 1h1m-28 1h1m23 0h1m-8 1h1m10 0h1m20 0h1m-29 1h1m0 0h1m7 0h1m-27 1h1m7 0h1m5 0h1m3 0h1m11 0h1m-27 1h1m6 0h1m12 0h1m3 0h1m13 0h1m-54 1h1m7 0h1m1 0h1m18 0h1m9 0h1m-32 1h1m21 0h1m-9 1h1m14 0h1m-41 1h1m46 0h1m6 0h1m-57 1h1m13 0h1m12 0h1m0 0h1m4 0h1m3 0h1m2 0h1m7 0h1m9 0h1m2 0h1m-35 1h1m20 0h1m4 0h1m-38 1h1m1 0h1m10 0h1m3 0h1m0 0h1m6 0h1m2 0h1m2 0h1m8 0h1m-54 1h1m14 0h1m8 0h1m2 0h1m22 0h1m4 0h1m-66 1h1m11 0h1m54 0h1m-56 1h1m7 0h1m9 0h1m16 0h1m8 0h1m0 0h1m7 0h1m-41 1h1m12 0h1m1 0h1m0 0h1m4 0h1m6 0h1m4 0h1m-39 1h1m1 0h1m13 0h1m8 0h1m16 0h1m11 0h1m-67 1h1m0 0h1m3 0h1m15 0h1m3 0h1m0 0h1m1 0h1m4 0h1m8 0h1m7 0h1m3 0h1m-49 1h1m12 0h1m5 0h1m0 0h1m22 0h1m9 0h1m-63 1h1m18 0h1m3 0h1m3 0h1m6 0h1m3 0h1m1 0h1m2 0h1m5 0h1m17 0h1m-64 1h1m29 0h1m1 0h1m4 0h1m2 0h1m2 0h1m4 0h1m-26 1h1m1 0h1m16 0h1m12 0h1m3 0h1m-61 1h1m32 0h1m2 0h1m14 0h1m-64 1h1m5 0h1m16 0h1m19 0h1m8 0h1m-28 1h1m3 0h1m4 0h1m6 0h1m9 0h1m2 0h1m-11 1h1m6 0h1m-17 1h1m3 0h1m2 0h1m3 0h1m7 0h1m-45 1h1m28 0h1m11 0h1m5 0h1m0 0h1m2 0h1m11 0h1m-65 1h1m11 0h1m0 0h1m7 0h1m11 0h1m5 0h1m2 0h1m9 0h1m-29 1h1m0 0h1m3 0h1m2 0h1m0 0h1m12 0h1m2 0h1m-47 1h1m44 0h1m8 0h1m-43 1h1m20 0h1m24 0h1m3 0h1m-43 1h1m5 0h1m-29 1h1m27 0h1m-6 1h1m4 0h1m31 0h1m-41 1h1m12 0h1m12 0h1m2 0h1m1 0h1m-36 1h1m25 0h1m4 1h1" stroke="#2838ff" stroke-opacity="0.3" stroke-width="1"/>
<path d="M190 72.5h1m-17 3h1m15 1h1m-6 1h1m-8 3h1m4 0h1m1 1h1m-12 3h1m0 1h1m-2 1h1m-12 1h1m17 0h1m6 0h1m-6 1h1m1 0h1m4 1h1m-21 1h1m6 0h1m6 0h1m-17 1h1m9 0h1m1 0h1m2 0h1m-5 1h1m2 0h1m-19 1h1m9 0h1m7 0h1m0 0h1m0 0h1m5 0h1m-23 1h1m5 0h1m0 0h1m4 0h1m1 0h1m0 0h1m-12 1h1m1 0h1m0 0h1m11 0h1m1 0h1m-21 1h1m5 1h1m0 0h1m2 0h1m12 0h1m-28 1h1m8 0h1m2 0h1m2 0h1m0 0h1m4 0h1m3 0h1m-6 1h1m4 0h1m-25 1h1m8 0h1m3 0h1m1 0h1m2 0h1m-12 1h1m1 0h1m1 0h1m0 0h1m0 0h1m0 0h1m-4 1h1m0 0h1m10 0h1m0 0h1m-22 1h1m2 0h1m1 0h1m8 0h1m0 0h1m-16 1h1m1 0h1m2 0h1m6 0h1m2 0h1m-16 1h1m8 0h1m4 0h1m0 0h1m1 0h1m-19 1h1m0 0h1m3 0h1m0 0h1m6 0h1m4 0h1m-8 1h1m4 0h1m-17 1h1m1 0h1m5 0h1m1 0h1m0 0h1m-17 1h1m14 0h1m3 0h1m7 0h1m0 0h1m-16 1h1m1 0h1m0 0h1m1 0h1m0 0h1m2 0h1m-21 1h1m4 0h1m15 0h1m0 0h1m-8 1h1m1 0h1m0 0h1m3 0h1m0 0h1m0 0h1m-13 1h1m2 0h1m5 0h1m0 0h1m-14 1h1m4 0h1m0 0h1m3 0h1m3 0h1m0 0h1m-18 1h1m3 0h1m1 0h1m0 0h1m11 0h1m-13 1h1m0 0h1m3 0h1m-13 1h1m0 0h1m2 0h1m4 0h1m2 0h1m4 0h1m-23 1h1m13 0h1m5 0h1m-16 1h1m5 0h1m1 0h1m1 0h1m7 0h1m-25 1h1m4 0h1m6 0h1m3 0h1m0 0h1m5 0h1m-27 1h1m8 0h1m1 0h1m3 0h1m1 0h1m3 0h1m-9 1h1m4 0h1m3 0h1m5 0h1m-30 1h1m7 0h1m12 0h1m-11 1h1m1 0h1m4 0h1m8 0h1m2 0h1m-20 1h1m1 0h1m-4 1h1m8 0h1m-10 2h1m8 0h1m-7 1h1m10 0h1m1 0h1m-16 1h1m5 0h1" stroke="#2838ff" stroke-opacity="0.35" stroke-width="1"/>
<path d="M167 57.5h1m-14 3h1m7 1h1m-1 4h1m-2 2h1m15 0h1m-47 2h1m-3 2h1m-4 1h1m14 1h1m45 1h1m-66 1h1m52 0h1m14 0h1m-64 1h1m30 1h1m9 0h1m-34 1h1m0 1h1m18 0h1m27 0h1m-57 1h1m50 0h1m-37 1h1m6 0h1m3 0h1m14 0h1m7 0h1m-50 1h1m19 0h1m-18 2h1m39 1h1m6 1h1m-32 3h1m21 0h1m3 0h1m3 0h1m-62 1h1m25 0h1m27 1h1m-18 2h1m-7 1h1m8 0h1m31 2h1m-8 1h1m-25 10h1" stroke="#2838ff" stroke-opacity="0.25" stroke-width="1"/>
<g filter="url(#spk)"><path d="M188.3 130.6L152.3 131.3L142.3 131.1L135.5 130.5L133.0 123.5L132.0 114.5L130.5 108.5L130.4 105.5L131.0 103.5L133.5 100.5L138.3 97.2L145.3 94.2L151.3 92.7L157.3 92.7L167.3 94.0L173.3 95.7L181.3 99.1L185.3 101.5L187.3 103.5L189.0 106.5L189.9 109.5L191.2 116.5L191.3 121.5L190.8 125.5L189.9 128.5L189.1 130.5Z" fill-opacity="0.2" fill-rule="evenodd"/><path d="M187.3 130.6L152.3 131.3L142.3 131.1L136.3 130.5L133.8 123.5L132.7 114.5L131.0 107.5L131.1 105.5L131.8 103.5L134.3 100.5L139.3 97.3L147.3 94.1L152.3 93.2L157.3 93.3L168.3 94.8L173.3 96.3L180.3 99.2L184.1 101.5L186.3 103.5L188.1 106.5L189.3 110.5L190.5 117.5L190.4 122.5L189.0 128.5L188.1 130.5Z" fill-opacity="0.2" fill-rule="evenodd"/><path d="M186.3 130.6L152.3 131.3L143.3 131.1L137.1 130.5L135.8 127.5L134.6 123.5L133.3 113.5L131.9 108.5L131.8 105.5L132.5 103.5L135.2 100.5L139.3 97.8L146.3 94.9L151.3 93.9L157.3 93.9L167.3 95.2L173.3 96.8L179.3 99.4L183.3 101.8L186.0 104.5L187.5 107.5L188.5 111.5L189.6 117.5L189.6 122.5L188.3 127.7L186.9 130.5Z" fill-opacity="0.2" fill-rule="evenodd"/><path d="M185.3 130.5L168.3 130.6L152.3 131.3L144.3 131.1L138.0 130.5L135.6 124.5L134.3 114.5L132.7 108.5L132.6 105.5L133.3 103.5L136.1 100.5L140.3 97.9L147.3 95.2L152.3 94.4L159.3 94.7L168.3 96.0L174.3 97.8L179.3 100.1L182.9 102.5L185.5 105.5L186.7 108.5L188.1 114.5L188.7 119.5L188.4 123.5L187.3 127.5Z" fill-opacity="0.2" fill-rule="evenodd"/><path d="M183.3 130.5L171.5 130.5L169.3 129.9L166.9 130.5L161.3 131.0L152.3 131.2L138.9 130.5L137.1 126.5L136.2 123.5L135.1 114.5L133.5 108.5L133.4 105.5L134.1 103.5L137.0 100.5L141.3 98.0L147.3 95.8L152.3 94.9L158.3 95.1L167.3 96.3L173.3 98.0L178.3 100.3L181.7 102.5L184.3 105.5L185.5 108.5L187.3 116.5L187.6 120.5L187.1 124.5L185.4 128.5Z" fill-opacity="0.2" fill-rule="evenodd"/></g>
<g filter="url(#disp)">
<path d="M180.3 130.5L175.5 130.5L169.3 128.4L167.3 128.7L165.1 130.5L160.3 131.0L148.3 131.1L139.8 130.5L137.9 126.5L137.0 123.5L135.9 114.5L134.1 107.5L134.2 105.5L135.0 103.5L138.0 100.5L142.3 98.1L148.3 96.1L153.3 95.4L160.3 95.8L168.3 97.1L174.3 99.0L178.3 101.0L181.5 103.5L183.6 106.5L186.3 118.5L186.2 122.5L184.9 126.5L182.4 129.5Z" fill="#1626f5" fill-rule="evenodd"/>
<path d="M180.3 130.5L175.5 130.5L169.3 128.4L167.3 128.7L165.1 130.5L162.3 130.7L150.3 131.0L139.8 130.5L137.9 126.5L137.0 123.5L135.9 114.5L134.3 108.5L134.2 105.5L135.0 103.5L138.0 100.5L142.3 98.1L147.3 96.3L152.3 95.5L159.3 95.7L168.3 97.1L173.3 98.6L178.3 101.0L181.5 103.5L183.6 106.5L186.3 118.5L186.2 122.5L184.9 126.5L182.4 129.5Z" fill="#1b35f8" fill-rule="evenodd"/>
<path d="M162.3 130.5L152.3 130.9L141.9 130.5L139.9 126.5L139.0 123.5L137.9 114.5L136.0 107.5L136.4 104.5L138.9 101.5L143.3 98.9L148.3 97.3L152.3 96.6L157.3 96.7L166.3 97.9L171.3 99.2L176.2 101.5L179.6 104.5L180.9 107.5L181.3 113.5L182.5 119.5L182.3 121.9L181.3 124.2L179.3 125.9L177.3 126.4L175.3 126.1L170.3 124.3L168.3 124.2L166.3 125.4L162.7 130.5Z" fill="#1d38f9" fill-rule="evenodd"/>
<path d="M160.3 130.5L152.3 130.8L143.9 130.5L142.2 127.5L140.7 123.5L139.4 113.5L137.7 107.5L138.2 104.5L139.7 102.5L141.3 101.2L145.3 99.2L149.3 98.0L153.3 97.6L158.3 97.7L165.3 98.7L170.3 100.0L174.3 101.9L177.2 104.5L178.1 106.5L178.2 108.5L175.2 116.5L174.3 117.7L173.3 118.1L169.3 118.1L167.3 119.0L165.3 121.8L161.4 129.5L160.8 130.5Z" fill="#1e3bfa" fill-rule="evenodd"/>
<path d="M158.3 130.5L145.8 130.5L143.4 126.5L142.1 122.5L141.3 114.5L139.4 108.5L139.2 106.5L140.5 103.5L142.8 101.5L145.3 100.2L149.3 98.9L153.3 98.4L158.3 98.6L163.3 99.3L168.3 100.4L171.3 101.6L174.1 103.5L175.6 105.5L175.9 106.5L175.7 108.5L174.3 110.7L171.3 112.9L166.3 115.0L164.8 116.5L161.3 126.5L158.9 130.5Z" fill="#2463fa" fill-rule="evenodd"/>
<path d="M156.3 130.5L148.0 130.5L145.0 126.5L143.4 121.5L142.8 114.5L140.9 108.5L140.9 105.5L142.1 103.5L144.3 101.8L147.3 100.4L150.3 99.6L157.3 99.3L166.3 100.8L169.3 101.9L172.0 103.5L172.9 104.5L173.7 106.5L173.3 108.3L172.3 109.6L170.3 111.0L165.3 113.2L163.3 114.9L162.5 116.5L161.1 122.5L159.7 126.5L157.8 129.5L156.9 130.5Z" fill="#389dea" fill-rule="evenodd"/>
<path d="M152.3 130.5L150.3 130.0L148.3 128.5L146.7 126.5L145.4 123.5L144.7 120.5L144.1 113.5L142.1 107.5L142.3 105.5L142.8 104.5L144.9 102.5L147.3 101.3L150.3 100.4L154.3 99.9L158.3 100.1L163.3 101.0L167.3 102.2L169.7 103.5L171.4 105.5L171.3 107.6L169.4 109.5L164.3 112.1L162.3 113.5L161.0 115.5L159.6 122.5L158.1 126.5L155.3 129.6Z" fill="#60d8b7" fill-rule="evenodd"/>
<path d="M154.3 128.0L152.3 128.5L150.3 127.8L148.8 126.5L147.3 124.2L146.2 120.5L145.6 113.5L143.5 107.5L143.8 105.5L145.3 103.5L147.3 102.2L150.3 101.2L153.3 100.7L157.3 100.8L161.3 101.4L167.3 103.5L169.2 105.5L169.4 106.5L169.0 107.5L167.3 109.0L162.3 111.8L160.4 113.5L159.3 115.5L158.4 121.5L157.4 124.5L156.1 126.5Z" fill="#77da71" fill-rule="evenodd"/>
<path d="M153.3 125.9L151.3 125.8L150.3 125.2L148.5 122.5L147.8 119.5L147.2 113.5L144.9 107.5L145.2 105.5L146.3 104.1L148.3 102.8L153.3 101.5L159.3 101.8L164.7 103.5L166.2 104.5L166.9 105.5L167.0 106.5L165.3 108.5L160.6 111.5L158.5 113.5L157.6 115.5L156.3 122.7L155.3 124.5Z" fill="#92dc57" fill-rule="evenodd"/>
<path d="M152.3 122.6L151.3 122.1L150.3 120.4L149.7 114.5L146.4 107.5L146.7 105.5L147.5 104.5L149.3 103.3L151.8 102.5L154.3 102.2L159.3 102.7L163.7 104.5L164.5 105.5L164.6 106.5L164.0 107.5L158.5 111.5L156.4 113.5L155.4 115.5L154.3 121.1L153.3 122.3Z" fill="#addf43" fill-rule="evenodd"/>
<path d="M153.3 112.6L151.3 112.1L149.3 110.2L148.3 108.5L148.0 106.5L149.5 104.5L152.3 103.4L156.3 103.2L160.3 104.2L162.0 105.5L162.1 106.5L160.5 108.5L155.3 111.8Z" fill="#c9e138" fill-rule="evenodd"/>
<path d="M155.3 109.8L153.3 110.1L151.3 109.4L150.0 107.5L150.0 106.5L150.6 105.5L152.5 104.5L155.3 104.2L157.3 104.5L159.1 105.5L159.5 106.5L159.0 107.5Z" fill="#dfd830" fill-rule="evenodd"/>
</g>
</g>
<rect x="113.30" y="51.50" width="79.40" height="79.20" fill="none" stroke="#7a7a7a" stroke-width="1"/><path d="M113.30 51.50V130.70H192.70" fill="none" stroke="#444" stroke-width="1.1"/><path d="M111.5 62.8h1.8M111.5 74.1h1.8M111.5 85.4h1.8M111.5 96.8h1.8M111.5 108.1h1.8M111.5 119.4h1.8M124.6 130.7v1.8M136.0 130.7v1.8M147.3 130.7v1.8M158.7 130.7v1.8M170.0 130.7v1.8M181.4 130.7v1.8" stroke="#555" stroke-width="0.9" fill="none"/>
<path d="M131.3 51.8L125.3 60.5L121.8 83.5L192.3 69.5L192.3 51.8Z" fill="none" stroke="#8a8a8a" stroke-width="0.9"/>
<path d="M123.3 97.5L167.9 86.9L187.7 87.7L191.0 97.6L191.9 131.1L123.3 131.1Z" fill="none" stroke="#8a8a8a" stroke-width="0.9"/>
<text x="123.40" y="75.30" font-size="13.6" textLength="25.4" lengthAdjust="spacingAndGlyphs" style="stroke:none">0.78</text>
<clipPath id="c2"><rect x="114.00" y="142.60" width="79.80" height="80.20"/></clipPath>
<g clip-path="url(#c2)">
<path d="M162 142.5h1m9 3h1m13 0h1m-31 1h1m16 0h1m3 0h1m0 0h1m9 0h1m-19 1h1m5 0h1m7 0h1m0 0h1m3 0h1m-26 1h1m3 0h1m6 0h1m0 0h1m0 0h1m2 0h1m0 0h1m0 0h1m1 0h1m3 0h1m2 0h1m0 0h1m-33 1h1m3 0h1m2 0h1m6 0h1m0 0h1m0 0h1m0 0h1m0 0h1m2 0h1m0 0h1m1 0h1m0 0h1m0 0h1m0 0h1m1 0h1m3 0h1m-32 1h1m1 0h1m0 0h1m0 0h1m1 0h1m1 0h1m0 0h1m0 0h1m0 0h1m0 0h1m0 0h1m2 0h1m0 0h1m1 0h1m2 0h1m0 0h1m0 0h1m0 0h1m0 0h1m-39 1h1m9 0h1m0 0h1m2 0h1m0 0h1m0 0h1m0 0h1m0 0h1m0 0h1m0 0h1m0 0h1m0 0h1m0 0h1m0 0h1m0 0h1m1 0h1m0 0h1m0 0h1m0 0h1m0 0h1m1 0h1m0 0h1m0 0h1m3 0h1m-37 1h1m1 0h1m5 0h1m0 0h1m0 0h1m0 0h1m0 0h1m0 0h1m0 0h1m0 0h1m0 0h1m0 0h1m1 0h1m0 0h1m0 0h1m0 0h1m0 0h1m0 0h1m0 0h1m0 0h1m0 0h1m0 0h1m0 0h1m0 0h1m0 0h1m1 0h1m2 0h1m3 0h1m-40 1h1m1 0h1m3 0h1m1 0h1m0 0h1m0 0h1m0 0h1m0 0h1m0 0h1m0 0h1m0 0h1m0 0h1m0 0h1m0 0h1m0 0h1m0 0h1m0 0h1m0 0h1m2 0h1m0 0h1m1 0h1m0 0h1m0 0h1m1 0h1m0 0h1m1 0h1m0 0h1m2 0h1m-41 1h1m6 0h1m0 0h1m1 0h1m0 0h1m1 0h1m0 0h1m0 0h1m1 0h1m0 0h1m0 0h1m0 0h1m0 0h1m1 0h1m0 0h1m0 0h1m0 0h1m1 0h1m0 0h1m1 0h1m0 0h1m2 0h1m0 0h1m-38 1h1m9 0h1m1 0h1m0 0h1m0 0h1m3 0h1m0 0h1m0 0h1m1 0h1m1 0h1m0 0h1m0 0h1m1 0h1m2 0h1m1 0h1m0 0h1m5 0h1m0 0h1m-42 1h1m6 0h1m1 0h1m0 0h1m1 0h1m0 0h1m0 0h1m0 0h1m0 0h1m0 0h1m0 0h1m0 0h1m0 0h1m0 0h1m0 0h1m0 0h1m0 0h1m1 0h1m0 0h1m0 0h1m0 0h1m0 0h1m0 0h1m0 0h1m2 0h1m-35 1h1m4 0h1m4 0h1m1 0h1m0 0h1m0 0h1m0 0h1m0 0h1m4 0h1m1 0h1m0 0h1m0 0h1m5 0h1m5 0h1m-24 1h1m0 0h1m1 0h1m0 0h1m0 0h1m0 0h1m0 0h1m1 0h1m0 0h1m0 0h1m2 0h1m4 0h1m1 0h1m-27 1h1m3 0h1m1 0h1m1 0h1m4 0h1m0 0h1m1 0h1m5 0h1m-25 1h1m1 0h1m8 0h1m2 0h1m1 0h1m10 0h1m0 0h1m-34 1h1m4 0h1m23 0h1m-33 1h1m15 0h1" stroke="#2838ff" stroke-opacity="0.36" stroke-width="1"/>
<path d="M144 166.5h1m18 4h1m-38 2h1m29 2h1m-21 2h1m25 0h1m-15 1h1m27 1h1m-23 1h1m5 1h1m23 0h1m-7 1h1m-28 1h1m14 0h1m0 0h1m-44 1h1m4 0h1m20 0h1m36 0h1m-46 1h1m16 0h1m-23 1h1m20 0h1m-44 1h1m30 0h1m3 0h1m8 0h1m3 0h1m0 0h1m4 0h1m-39 1h1m10 0h1m13 0h1m2 0h1m2 0h1m16 0h1m5 0h1m-67 1h1m31 0h1m5 0h1m3 0h1m8 0h1m0 0h1m4 0h1m12 0h1m-38 1h1m16 0h1m-36 1h1m11 0h1m4 0h1m2 0h1m6 0h1m2 0h1m18 0h1m-65 1h1m23 0h1m17 0h1m10 0h1m9 0h1m-57 1h1m28 0h1m7 0h1m7 0h1m11 0h1m2 0h1m-54 1h1m13 0h1m0 0h1m16 0h1m1 0h1m10 0h1m5 0h1m-51 1h1m10 0h1m35 0h1m6 0h1m-58 1h1m2 0h1m26 0h1m6 0h1m4 0h1m6 0h1m9 0h1m-60 1h1m19 0h1m9 0h1m16 0h1m-52 1h1m38 0h1m4 0h1m11 0h1m-47 1h1m2 0h1m4 0h1m7 0h1m-40 1h1m6 0h1m12 0h1m9 0h1m4 0h1m13 0h1m5 0h1m-23 1h1m7 0h1m-3 1h1m15 0h1m10 0h1m0 0h1m-14 1h1m16 0h1m-33 1h1m9 0h1m12 0h1m9 0h1m-50 1h1m5 0h1m7 0h1m8 0h1m15 0h1m0 0h1m-52 1h1m7 0h1m6 0h1m24 0h1m5 0h1m-44 1h1m1 0h1m5 0h1m45 0h1m-68 1h1m18 0h1m8 0h1m3 0h1m18 0h1m7 0h1m2 0h1m-27 1h1m30 0h1m-47 1h1m4 0h1m24 0h1m0 0h1m1 0h1m0 0h1m1 0h1m6 0h1m-53 1h1m27 0h1m2 0h1m1 0h1m1 0h1m0 0h1m20 0h1m-42 1h1m6 0h1m7 0h1m4 0h1m1 0h1m-40 1h1m21 0h1m2 0h1m3 0h1m8 0h1m4 0h1m2 0h1m-50 1h1m11 0h1m6 0h1m6 0h1m7 0h1m2 0h1m29 0h1m-48 1h1m9 0h1m11 0h1m12 0h1m4 0h1m-41 1h1m18 0h1m-17 1h1m10 0h1m13 0h1m1 0h1m1 0h1m7 0h1m-35 1h1m7 0h1m1 0h1m1 0h1m6 0h1m6 0h1m-24 1h1m7 0h1m8 0h1m-28 1h1m13 0h1m11 0h1m5 0h1m-8 1h1m-13 1h1m12 0h1m-30 1h1m11 0h1" stroke="#2838ff" stroke-opacity="0.3" stroke-width="1"/>
<path d="M187 169.5h1m-10 2h1m2 1h1m-6 1h1m-9 1h1m2 0h1m-14 1h1m22 2h1m5 0h1m-11 1h1m0 0h1m6 0h1m-9 1h1m0 3h1m2 0h1m6 0h1m-9 1h1m1 0h1m-15 1h1m12 0h1m-1 1h1m-22 1h1m12 0h1m9 0h1m-6 1h1m2 0h1m1 0h1m-14 1h1m3 0h1m4 0h1m5 0h1m0 0h1m2 0h1m-21 1h1m8 0h1m3 0h1m3 0h1m0 0h1m-25 1h1m6 0h1m4 0h1m2 0h1m1 0h1m2 0h1m0 0h1m0 0h1m3 0h1m-10 1h1m1 0h1m5 0h1m0 0h1m3 0h1m-24 1h1m10 0h1m2 0h1m-29 1h1m8 0h1m3 0h1m7 0h1m1 0h1m9 0h1m-33 1h1m16 0h1m3 0h1m0 0h1m3 0h1m3 0h1m4 0h1m-24 1h1m0 0h1m6 0h1m3 0h1m1 0h1m5 1h1m-23 1h1m3 0h1m8 0h1m4 0h1m1 0h1m2 0h1m-22 1h1m9 0h1m0 0h1m5 0h1m2 0h1m0 0h1m2 0h1m-26 1h1m5 0h1m6 0h1m4 0h1m0 0h1m0 0h1m0 0h1m-2 1h1m-34 1h1m15 0h1m0 0h1m4 0h1m2 0h1m2 0h1m3 0h1m2 0h1m-33 1h1m17 0h1m1 0h1m0 0h1m1 0h1m10 0h1m-33 1h1m5 0h1m1 0h1m5 0h1m0 0h1m0 0h1m1 0h1m1 0h1m1 0h1m1 0h1m0 0h1m0 0h1m-19 1h1m7 0h1m0 0h1m4 0h1m1 0h1m0 0h1m3 0h1m-22 1h1m5 0h1m0 0h1m3 0h1m2 0h1m6 0h1m-20 1h1m1 0h1m7 0h1m3 0h1m0 0h1m5 0h1m1 0h1m-29 1h1m13 0h1m1 0h1m3 0h1m0 0h1m2 0h1m-17 1h1m8 0h1m2 0h1m1 0h1m0 0h1m-22 1h1m6 0h1m4 0h1m6 0h1m0 0h1m1 0h1m1 0h1m-20 1h1m2 0h1m1 0h1m2 0h1m0 0h1m4 0h1m0 0h1m0 0h1m0 0h1m-20 1h1m0 0h1m2 0h1m1 0h1m3 0h1m2 0h1m-10 1h1m5 0h1m0 0h1m0 0h1m3 0h1m3 0h1m-23 1h1m1 0h1m5 0h1m1 0h1m-9 1h1m4 0h1m1 0h1m3 0h1m2 0h1m5 0h1m-15 1h1m2 0h1m-1 1h1m3 0h1m1 0h1m-12 1h1m3 0h1m11 0h1m-24 1h1m12 0h1m-7 1h1m3 0h1m1 0h1m7 0h1m1 0h1m-25 1h1m3 0h1m3 0h1m4 0h1m5 0h1m-18 1h1m6 0h1m4 0h1m0 0h1m-20 1h1m17 0h1m6 0h1" stroke="#2838ff" stroke-opacity="0.38" stroke-width="1"/>
<path d="M151 147.5h1m8 5h1m8 2h1m-32 1h1m31 0h1m14 0h1m-23 1h1m-2 1h1m-13 1h1m-33 1h1m33 0h1m6 2h1m4 1h1m9 0h1m-9 1h1m0 0h1m-35 1h1m16 0h1m-18 1h1m10 0h1m17 0h1m22 0h1m-52 1h1m43 0h1m-18 1h1m-33 1h1m19 0h1m19 0h1m3 0h1m-40 1h1m23 0h1m17 0h1m4 0h1m-41 1h1m6 0h1m32 0h1m-14 1h1m-26 1h1m16 0h1m29 0h1m-72 1h1m29 0h1m16 0h1m-33 1h1m25 0h1m6 0h1m6 0h1m0 0h1m8 0h1m-49 2h1m20 0h1m-37 1h1m29 0h1m-25 1h1m21 0h1m5 0h1m7 0h1m3 0h1m-25 2h1m-10 1h1m34 0h1m-33 1h1m38 1h1m-17 1h1m-13 1h1m3 1h1m-27 1h1m28 1h1m-11 2h1m-13 5h1m6 15h1" stroke="#2838ff" stroke-opacity="0.25" stroke-width="1"/>
<g filter="url(#spk)"><path d="M184.0 222.6L172.0 223.1L146.0 223.4L135.0 223.2L128.9 222.6L126.8 216.6L126.1 211.6L126.4 200.6L127.6 195.6L129.4 192.6L132.0 190.0L136.0 187.1L140.0 185.2L152.0 182.4L154.0 182.4L157.0 183.3L160.0 185.2L163.5 188.6L171.0 198.8L173.0 201.0L174.0 201.6L176.0 202.1L180.0 201.6L183.0 202.1L185.0 203.2L187.0 205.6L188.0 207.6L188.7 210.6L188.6 215.6L187.0 219.7L185.0 222.2Z" fill-opacity="0.2" fill-rule="evenodd"/><path d="M182.0 222.6L146.0 223.4L136.0 223.2L129.6 222.6L127.4 216.6L126.6 210.6L127.1 199.6L127.8 196.6L128.7 194.6L130.1 192.6L133.0 189.8L136.0 187.8L140.0 185.9L152.0 183.3L155.0 183.5L158.0 184.7L161.0 186.8L164.0 189.9L171.0 199.9L173.0 202.2L174.0 203.0L176.0 203.6L180.0 203.2L182.0 203.4L184.0 204.4L186.0 206.5L187.5 210.6L187.3 215.6L185.4 219.6Z" fill-opacity="0.2" fill-rule="evenodd"/><path d="M179.0 222.6L146.0 223.3L136.0 223.1L130.4 222.6L128.1 216.6L127.3 210.6L127.7 199.6L128.4 196.6L129.3 194.6L131.0 192.4L134.0 189.7L137.0 187.9L141.0 186.3L152.0 184.2L155.0 184.4L158.0 185.5L161.0 187.6L164.0 190.7L166.3 193.6L171.0 201.1L174.0 204.5L176.0 205.4L180.0 205.2L182.0 205.5L183.8 206.6L185.0 208.1L186.0 210.6L186.2 212.6L185.3 216.6L183.2 219.6L179.6 222.6Z" fill-opacity="0.2" fill-rule="evenodd"/><path d="M177.0 222.6L146.0 223.3L137.0 223.1L131.2 222.6L128.9 216.6L128.0 210.6L128.3 199.6L129.0 196.6L130.0 194.6L131.5 192.6L134.0 190.4L138.0 188.1L141.0 186.9L145.0 186.0L153.0 185.1L156.0 185.5L159.0 186.9L162.0 189.3L164.9 192.6L171.0 202.5L174.0 206.2L177.0 207.8L181.0 208.0L182.0 208.4L183.2 209.6L184.1 212.6L183.4 215.6L182.0 217.6Z" fill-opacity="0.2" fill-rule="evenodd"/><path d="M175.0 222.6L146.0 223.3L132.1 222.6L129.6 216.6L128.7 210.6L129.0 199.6L129.6 196.6L130.6 194.6L132.2 192.6L135.0 190.4L139.0 188.3L142.0 187.3L153.0 186.0L156.0 186.4L159.0 187.8L162.0 190.2L164.2 192.6L173.0 206.9L175.0 209.3L178.6 212.6L179.1 213.6L178.8 215.6L176.5 220.6L175.4 222.6Z" fill-opacity="0.2" fill-rule="evenodd"/></g>
<g filter="url(#disp)">
<path d="M173.0 222.6L162.0 222.5L146.0 223.2L133.0 222.6L130.7 217.6L129.5 211.6L129.6 199.6L130.2 196.6L131.3 194.6L133.0 192.6L136.0 190.4L139.0 188.9L143.0 187.8L149.0 187.0L154.0 186.9L157.0 187.6L160.0 189.3L163.0 192.0L165.7 195.6L174.8 212.6L175.5 214.6L175.5 217.6L174.6 220.6L173.4 222.6Z" fill="#1626f5" fill-rule="evenodd"/>
<path d="M173.0 222.6L162.0 222.5L146.0 223.1L133.0 222.6L130.7 217.6L129.5 211.6L129.6 199.6L130.2 196.6L131.3 194.6L133.0 192.6L136.0 190.4L139.0 188.9L143.0 187.8L149.0 187.0L154.0 186.9L157.0 187.6L160.0 189.3L163.0 192.0L165.7 195.6L174.8 212.6L175.5 214.6L175.5 217.6L174.6 220.6L173.4 222.6Z" fill="#1c36f9" fill-rule="evenodd"/>
<path d="M157.0 222.6L139.0 222.8L135.3 222.6L134.6 221.6L132.6 217.6L131.5 213.6L131.1 199.6L131.4 197.6L132.2 195.6L133.7 193.6L136.0 191.8L139.0 190.2L143.0 189.1L148.0 188.6L154.0 188.8L157.0 189.5L159.0 190.5L161.6 192.6L164.0 195.5L166.3 199.6L170.7 209.6L171.8 213.6L171.7 217.6L170.7 219.6L169.1 220.6L167.0 220.6L163.0 219.8L161.0 219.9Z" fill="#1d39f9" fill-rule="evenodd"/>
<path d="M154.0 222.6L137.6 222.6L134.8 218.6L133.6 215.6L132.8 211.6L132.5 198.6L133.0 196.6L134.3 194.6L138.0 191.8L141.0 190.6L145.0 189.9L150.0 189.8L155.0 190.4L158.0 191.6L160.0 192.9L162.0 194.9L163.8 197.6L166.9 204.6L168.6 209.6L169.1 212.6L168.7 215.6L168.0 216.7L167.0 217.2L162.0 217.0L160.0 217.5L158.0 219.0L154.5 222.6Z" fill="#2049fa" fill-rule="evenodd"/>
<path d="M151.0 222.6L140.4 222.6L137.4 219.6L135.3 215.6L134.3 210.6L133.6 199.6L133.9 197.6L134.9 195.6L136.0 194.3L138.0 192.8L141.0 191.5L145.0 190.8L150.0 190.8L155.0 191.7L158.0 193.0L160.0 194.6L162.0 197.2L165.4 205.6L166.3 209.6L165.9 212.6L164.7 213.6L161.0 214.2L159.0 215.1L153.0 221.6L151.6 222.6Z" fill="#277cfa" fill-rule="evenodd"/>
<path d="M149.0 221.9L147.0 222.4L145.0 222.4L143.0 221.9L141.0 220.8L138.0 217.6L136.1 212.6L135.6 204.6L134.8 199.6L135.0 197.6L136.1 195.6L138.0 193.9L140.0 192.8L143.0 191.9L147.0 191.5L151.0 191.8L154.2 192.6L157.0 193.8L159.2 195.6L160.6 197.6L161.8 200.6L162.7 204.6L163.0 207.6L162.0 209.6L158.0 212.3L153.0 219.1L151.0 220.8Z" fill="#53cccf" fill-rule="evenodd"/>
<path d="M149.0 219.8L147.0 220.4L145.0 220.4L142.0 219.2L139.4 216.6L137.7 212.6L137.2 205.6L135.9 199.6L136.2 197.6L137.0 196.0L138.4 194.6L140.1 193.6L143.0 192.6L148.0 192.3L154.0 193.6L156.0 194.6L158.0 196.3L159.6 199.6L159.7 201.6L159.3 203.6L154.6 213.6L152.0 217.5Z" fill="#70d987" fill-rule="evenodd"/>
<path d="M148.0 217.9L146.0 218.3L144.0 217.9L142.0 216.7L140.4 214.6L139.3 211.6L138.8 205.6L137.1 199.6L137.3 197.6L138.6 195.6L141.0 194.1L144.0 193.2L149.0 193.2L153.0 194.2L156.0 196.2L157.4 198.6L157.4 200.6L154.7 205.6L152.4 213.6L150.1 216.6Z" fill="#8bdc5d" fill-rule="evenodd"/>
<path d="M146.0 215.7L143.3 214.6L141.8 212.6L141.2 210.6L140.6 205.6L138.4 200.6L138.2 198.6L139.0 196.6L141.0 195.0L144.0 193.9L147.0 193.7L151.0 194.5L153.4 195.6L155.3 197.6L155.5 199.6L154.7 201.6L152.1 205.6L151.1 210.6L150.0 213.2L148.0 215.1Z" fill="#a8de45" fill-rule="evenodd"/>
<path d="M147.0 210.7L146.0 211.1L145.0 210.6L143.7 206.6L140.3 201.6L139.5 199.6L139.7 197.6L140.3 196.6L142.0 195.4L145.0 194.5L148.0 194.6L151.0 195.4L152.8 196.6L153.8 198.6L153.0 201.1L148.6 206.6Z" fill="#c6e139" fill-rule="evenodd"/>
<path d="M147.0 203.6L146.0 203.7L144.0 203.2L141.3 200.6L140.8 198.6L141.1 197.6L142.0 196.5L144.0 195.6L147.0 195.3L150.0 196.1L151.7 197.6L152.1 198.6L151.4 200.6L149.0 202.8Z" fill="#ded930" fill-rule="evenodd"/>
<path d="M147.0 201.6L145.0 201.5L143.3 200.6L142.6 199.6L142.4 198.6L142.8 197.6L144.4 196.6L146.0 196.3L148.1 196.6L149.7 197.6L150.1 198.6L149.9 199.6L149.0 200.7Z" fill="#f0c42b" fill-rule="evenodd"/>
</g>
</g>
<rect x="114.00" y="142.60" width="79.80" height="80.20" fill="none" stroke="#7a7a7a" stroke-width="1"/><path d="M114.00 142.60V222.80H193.80" fill="none" stroke="#444" stroke-width="1.1"/><path d="M112.2 154.1h1.8M112.2 165.5h1.8M112.2 177.0h1.8M112.2 188.4h1.8M112.2 199.9h1.8M112.2 211.3h1.8M125.4 222.8v1.8M136.8 222.8v1.8M148.2 222.8v1.8M159.6 222.8v1.8M171.0 222.8v1.8M182.4 222.8v1.8" stroke="#555" stroke-width="0.9" fill="none"/>
<path d="M132.0 142.9L126.0 151.6L122.5 174.6L193.0 160.6L193.0 142.9Z" fill="none" stroke="#8a8a8a" stroke-width="0.9"/>
<path d="M124.0 188.6L168.6 178.0L188.4 178.8L191.7 188.7L192.6 222.2L124.0 222.2Z" fill="none" stroke="#8a8a8a" stroke-width="0.9"/>
<text x="123.20" y="164.30" font-size="13.6" textLength="25.4" lengthAdjust="spacingAndGlyphs" style="stroke:none">0.63</text>
<clipPath id="c3"><rect x="113.80" y="233.80" width="80.50" height="80.00"/></clipPath>
<g clip-path="url(#c3)">
<path d="M185 236.5h1m-4 1h1m0 0h1m-3 1h1m-12 1h1m10 0h1m2 0h1m2 0h1m4 0h1m-28 1h1m2 0h1m1 0h1m6 0h1m3 0h1m0 0h1m1 0h1m0 0h1m0 0h1m0 0h1m1 0h1m2 0h1m-34 1h1m1 0h1m3 0h1m2 0h1m1 0h1m0 0h1m0 0h1m0 0h1m0 0h1m1 0h1m0 0h1m0 0h1m0 0h1m2 0h1m1 0h1m3 0h1m0 0h1m0 0h1m-28 1h1m0 0h1m5 0h1m0 0h1m5 0h1m2 0h1m0 0h1m0 0h1m1 0h1m1 0h1m4 0h1m0 0h1m-32 1h1m4 0h1m1 0h1m2 0h1m2 0h1m0 0h1m0 0h1m0 0h1m1 0h1m4 0h1m0 0h1m0 0h1m1 0h1m-32 1h1m1 0h1m3 0h1m2 0h1m2 0h1m0 0h1m1 0h1m2 0h1m0 0h1m1 0h1m1 0h1m0 0h1m0 0h1m1 0h1m0 0h1m1 0h1m1 0h1m0 0h1m-34 1h1m1 0h1m1 0h1m2 0h1m0 0h1m0 0h1m2 0h1m0 0h1m1 0h1m3 0h1m2 0h1m0 0h1m0 0h1m0 0h1m1 0h1m0 0h1m1 0h1m1 0h1m3 0h1m-46 1h1m13 0h1m0 0h1m0 0h1m3 0h1m0 0h1m0 0h1m0 0h1m0 0h1m0 0h1m0 0h1m1 0h1m0 0h1m0 0h1m1 0h1m0 0h1m0 0h1m1 0h1m0 0h1m0 0h1m0 0h1m-40 1h1m6 0h1m2 0h1m0 0h1m5 0h1m2 0h1m4 0h1m0 0h1m3 0h1m2 0h1m1 0h1m1 0h1m1 0h1m5 0h1m-42 1h1m3 0h1m3 0h1m0 0h1m0 0h1m2 0h1m1 0h1m0 0h1m1 0h1m0 0h1m5 0h1m1 0h1m10 0h1m-41 1h1m6 0h1m1 0h1m3 0h1m0 0h1m1 0h1m0 0h1m2 0h1m0 0h1m2 0h1m0 0h1m11 0h1m-29 1h1m5 0h1m2 0h1m4 0h1m-7 1h1m0 0h1m4 0h1m0 0h1m2 0h1m3 0h1m-13 1h1m2 0h1" stroke="#2838ff" stroke-opacity="0.32" stroke-width="1"/>
<path d="M136 257.5h1m-9 2h1m5 1h1m6 1h1m20 1h1m-10 1h1m-32 1h1m35 1h1m10 1h1m9 0h1m-40 1h1m37 0h1m9 0h1m-48 1h1m19 0h1m-4 1h1m13 0h1m19 1h1m-36 1h1m2 0h1m15 0h1m13 0h1m-52 1h1m-20 1h1m36 0h1m-28 2h1m24 0h1m23 0h1m-47 1h1m11 0h1m1 0h1m4 0h1m24 0h1m-54 1h1m3 0h1m36 0h1m-2 1h1m7 0h1m-57 1h1m1 0h1m9 0h1m13 0h1m5 0h1m24 0h1m1 0h1m-35 1h1m-7 1h1m10 0h1m16 0h1m7 0h1m3 0h1m6 0h1m0 0h1m-39 1h1m17 0h1m8 0h1m9 0h1m-32 1h1m9 0h1m11 0h1m11 0h1m-40 1h1m3 0h1m1 0h1m15 0h1m10 0h1m12 0h1m-63 1h1m33 0h1m22 0h1m2 0h1m-63 1h1m9 0h1m9 0h1m7 0h1m8 0h1m2 0h1m-40 1h1m7 0h1m5 0h1m20 0h1m4 0h1m12 0h1m-43 1h1m5 0h1m1 0h1m1 0h1m11 0h1m4 0h1m16 0h1m-53 1h1m4 0h1m11 0h1m3 0h1m15 0h1m0 0h1m-40 1h1m28 0h1m15 0h1m-48 1h1m17 0h1m13 0h1m15 0h1m-25 1h1m2 0h1m6 0h1m1 0h1m5 0h1m4 0h1m6 0h1m10 0h1m-78 1h1m24 0h1m9 0h1m8 0h1m1 0h1m3 0h1m2 0h1m3 0h1m-40 1h1m2 0h1m8 0h1m1 0h1m0 0h1m35 0h1m-54 1h1m8 0h1m5 0h1m1 0h1m4 0h1m3 0h1m1 0h1m-13 1h1m4 0h1m4 0h1m0 0h1m6 0h1m1 0h1m11 0h1m-67 1h1m8 0h1m12 0h1m0 0h1m1 0h1m16 0h1m3 0h1m0 0h1m2 0h1m2 0h1m-48 1h1m37 0h1m16 0h1m8 0h1m1 0h1m3 0h1m-26 1h1m-38 1h1m18 0h1m1 0h1m1 0h1m3 0h1m28 0h1m8 0h1m-70 1h1m26 0h1m0 0h1m12 0h1m9 0h1m7 0h1m6 0h1m-41 1h1m1 0h1m18 0h1m3 0h1m0 0h1m-35 1h1m10 0h1m13 0h1m2 0h1m1 0h1m9 0h1m-64 1h1m36 0h1m12 0h1m7 0h1m8 0h1m-32 1h1m19 0h1m3 0h1m-45 1h1m18 0h1m3 0h1m19 0h1m-54 1h1m11 0h1m10 0h1m24 0h1m4 0h1m-55 1h1m24 0h1m40 0h1m-72 1h1m16 0h1m37 0h1m2 0h1m-22 1h1m-12 1h1m43 0h1m-21 1h1m-40 1h1m37 0h1" stroke="#2838ff" stroke-opacity="0.3" stroke-width="1"/>
<path d="M181 250.5h1m-7 10h1m4 0h1m-6 1h1m-7 1h1m14 3h1m2 0h1m-19 1h1m13 2h1m-5 2h1m-12 1h1m19 0h1m2 2h1m-12 1h1m0 0h1m-17 2h1m27 0h1m-12 1h1m-4 1h1m1 0h1m1 0h1m5 0h1m1 1h1m0 0h1m-22 1h1m6 0h1m1 0h1m1 0h1m5 0h1m1 0h1m-22 1h1m11 0h1m3 0h1m0 0h1m4 0h1m-25 1h1m4 0h1m8 0h1m1 0h1m0 0h1m2 0h1m-23 1h1m6 0h1m7 0h1m8 0h1m-16 1h1m1 0h1m0 0h1m5 0h1m2 0h1m6 0h1m-26 1h1m9 0h1m7 0h1m1 0h1m-10 1h1m5 0h1m4 0h1m0 0h1m0 0h1m0 0h1m-29 1h1m8 0h1m1 0h1m0 0h1m0 0h1m0 0h1m-5 1h1m3 0h1m5 0h1m1 0h1m-20 1h1m1 0h1m3 0h1m0 0h1m1 0h1m3 0h1m5 0h1m-27 1h1m8 0h1m1 0h1m3 0h1m0 0h1m0 0h1m4 0h1m1 0h1m0 0h1m0 0h1m2 0h1m-21 1h1m9 0h1m2 0h1m8 0h1m-18 1h1m8 0h1m2 0h1m1 0h1m3 0h1m-29 1h1m5 0h1m4 0h1m-7 1h1m0 0h1m1 0h1m2 0h1m7 0h1m1 0h1m1 0h1m-36 1h1m17 0h1m0 0h1m1 0h1m3 0h1m0 0h1m1 0h1m0 0h1m0 0h1m0 0h1m0 0h1m-16 1h1m7 0h1m11 0h1m-29 1h1m13 0h1m2 0h1m9 0h1m-20 1h1m1 0h1m0 0h1m3 0h1m0 0h1m5 0h1m-21 1h1m7 0h1m0 0h1m4 0h1m1 0h1m2 0h1m1 0h1m0 0h1m0 0h1m1 0h1m-10 1h1m4 0h1m1 0h1m-14 1h1m5 0h1m4 0h1m0 0h1m1 0h1m2 0h1m-20 1h1m3 0h1m0 0h1m1 0h1m6 0h1m0 0h1m3 0h1m-14 1h1m2 0h1m-10 1h1m0 0h1m0 0h1m2 0h1m2 0h1m4 0h1m-16 1h1m2 0h1m4 0h1m5 0h1m7 0h1m-24 1h1m0 0h1m3 0h1m0 0h1m4 0h1m0 0h1m1 0h1m-5 1h1m9 0h1m3 0h1m-22 1h1m2 0h1m5 0h1m2 0h1m7 0h1m-19 1h1m0 0h1m2 0h1m13 0h1m-6 1h1m1 0h1m-7 1h1m3 0h1m-18 1h1m11 0h1m4 0h1m2 0h1m-16 1h1m3 0h1m10 0h1" stroke="#2838ff" stroke-opacity="0.35" stroke-width="1"/>
<path d="M175 239.5h1m8 3h1m-50 5h1m57 3h1m-75 3h1m16 0h1m3 0h1m4 1h1m30 0h1m-18 1h1m1 2h1m4 1h1m-31 1h1m35 0h1m-28 1h1m-11 1h1m17 0h1m34 0h1m-66 1h1m11 0h1m17 0h1m26 1h1m-21 1h1m-40 1h1m13 0h1m13 0h1m19 0h1m11 0h1m-49 2h1m42 0h1m2 0h1m10 0h1m-65 1h1m3 1h1m0 0h1m57 1h1m-60 2h1m-12 1h1m46 0h1m-26 1h1m11 0h1m19 3h1m-13 1h1m7 0h1m-29 2h1m30 1h1m-1 2h1m-35 1h1m0 0h1m16 0h1" stroke="#2838ff" stroke-opacity="0.25" stroke-width="1"/>
<g filter="url(#spk)"><path d="M188.8 313.8L181.8 314.3L165.8 314.0L148.8 314.6L138.8 314.4L133.5 313.8L131.4 307.8L130.0 296.8L127.7 289.8L127.6 287.8L128.2 285.8L130.7 282.8L135.8 279.3L142.8 276.1L147.8 275.0L151.8 275.0L168.8 276.9L173.8 278.2L178.8 280.2L182.8 282.3L185.9 284.8L188.2 287.8L190.2 292.8L191.5 298.8L191.6 303.8L190.7 309.8L189.6 312.8Z" fill-opacity="0.2" fill-rule="evenodd"/><path d="M187.8 313.8L178.8 314.2L164.8 313.9L148.8 314.6L139.8 314.4L134.2 313.8L132.1 307.8L130.6 296.8L128.4 289.8L128.3 287.8L129.0 285.8L131.5 282.8L136.8 279.3L142.8 276.7L147.8 275.6L151.8 275.6L168.8 277.5L172.8 278.5L178.8 280.9L182.8 283.2L185.7 285.8L187.8 288.8L189.7 293.8L190.8 299.8L190.8 304.8L189.5 310.8Z" fill-opacity="0.2" fill-rule="evenodd"/><path d="M186.8 313.8L177.8 314.2L165.8 313.8L148.8 314.6L140.8 314.4L135.0 313.8L132.5 306.8L131.3 296.8L129.1 289.8L129.0 287.8L129.7 285.8L132.3 282.8L137.8 279.3L142.8 277.2L147.8 276.1L152.8 276.2L168.8 278.2L172.8 279.2L177.8 281.2L182.3 283.8L185.5 286.8L187.3 289.8L189.1 294.8L190.1 299.8L190.0 304.8L189.0 309.8Z" fill-opacity="0.2" fill-rule="evenodd"/><path d="M184.8 313.9L169.7 313.8L167.8 312.9L165.8 312.4L164.8 312.6L162.9 313.8L155.8 314.4L143.8 314.5L135.8 313.8L133.2 306.8L132.0 296.8L129.8 289.8L129.8 287.8L130.5 285.8L133.2 282.8L138.8 279.4L143.8 277.5L148.8 276.6L153.8 276.9L167.8 278.6L172.8 279.9L177.8 282.0L182.2 284.8L185.0 287.8L187.1 291.8L188.7 296.8L189.3 301.8L188.9 306.8L187.0 311.8L185.7 313.8Z" fill-opacity="0.2" fill-rule="evenodd"/><path d="M183.8 313.8L172.2 313.8L167.8 311.4L165.8 310.9L163.8 311.5L161.6 313.8L158.8 314.1L146.8 314.5L136.5 313.8L134.2 307.8L133.4 303.8L132.7 296.8L130.6 289.8L130.5 287.8L131.3 285.8L133.8 283.0L137.8 280.5L142.8 278.3L147.8 277.3L152.8 277.3L167.8 279.2L171.8 280.2L176.8 282.3L180.8 284.8L183.8 287.8L186.0 291.8L187.9 297.8L188.4 302.8L187.9 306.8L186.3 310.8Z" fill-opacity="0.2" fill-rule="evenodd"/></g>
<g filter="url(#disp)">
<path d="M180.8 313.8L175.6 313.8L167.8 309.8L165.8 309.2L163.8 309.9L160.6 313.8L148.8 314.4L137.4 313.8L134.7 306.8L133.5 296.8L131.3 289.8L131.3 287.8L132.1 285.8L134.8 283.0L138.8 280.5L143.8 278.6L148.8 277.8L153.8 277.9L167.8 279.9L172.8 281.3L176.8 283.1L180.6 285.8L183.1 288.8L185.8 294.4L187.2 299.8L187.1 304.8L186.0 308.8L183.8 312.1L181.8 313.5Z" fill="#1626f5" fill-rule="evenodd"/>
<path d="M180.8 313.8L175.6 313.8L167.8 309.8L165.8 309.2L163.8 309.9L160.6 313.8L148.8 314.3L137.4 313.8L134.7 306.8L133.5 296.8L131.3 289.8L131.3 287.8L132.1 285.8L134.8 283.0L138.8 280.5L143.8 278.6L148.8 277.8L153.8 277.9L167.8 279.9L172.8 281.3L176.8 283.1L180.6 285.8L183.1 288.8L185.8 294.4L187.2 299.8L187.1 304.8L186.0 308.8L183.8 312.1L181.8 313.5Z" fill="#1b35f8" fill-rule="evenodd"/>
<path d="M157.8 313.9L148.8 314.2L139.3 313.8L137.8 310.8L136.4 306.8L135.2 296.8L133.0 288.8L134.0 285.8L137.2 282.8L141.8 280.5L145.8 279.3L150.8 278.9L155.8 279.3L166.8 281.0L171.8 282.5L176.0 284.8L178.3 286.8L179.8 288.8L183.4 296.8L184.3 300.8L183.8 305.7L181.8 308.8L178.8 310.2L175.8 310.0L172.8 308.6L166.8 304.6L164.8 304.4L162.8 306.2L158.5 313.8Z" fill="#1d38f9" fill-rule="evenodd"/>
<path d="M155.8 313.9L148.8 314.1L141.2 313.8L139.4 310.8L137.7 305.8L136.7 296.8L134.6 288.8L135.1 286.8L136.6 284.8L140.8 282.0L144.8 280.5L149.8 279.9L154.8 280.1L163.8 281.6L168.8 282.8L171.8 284.1L174.4 285.8L176.7 288.8L177.9 294.8L179.8 300.8L179.5 302.8L178.9 303.8L177.8 304.5L175.8 304.6L172.8 302.9L168.1 298.8L165.8 298.3L163.8 298.8L162.3 300.8L157.9 311.8L156.6 313.8Z" fill="#1e3bfa" fill-rule="evenodd"/>
<path d="M153.8 313.9L143.1 313.8L141.0 310.8L139.4 306.8L138.6 302.8L138.0 295.8L136.2 289.8L136.3 287.8L137.3 285.8L138.8 284.4L141.8 282.6L144.8 281.5L148.8 280.8L152.8 280.8L164.7 282.8L168.0 283.8L170.8 285.2L172.7 286.8L173.9 288.8L173.9 290.8L173.6 291.8L171.8 293.8L169.8 294.6L163.8 295.8L161.9 296.8L161.0 297.8L157.3 309.8L154.8 313.7Z" fill="#2463fa" fill-rule="evenodd"/>
<path d="M151.8 313.8L145.6 313.8L143.4 311.8L141.8 309.3L140.3 304.8L139.4 295.8L137.6 289.8L138.1 286.8L139.9 284.8L142.8 283.1L145.8 282.1L149.8 281.5L154.8 281.8L160.5 282.8L165.8 284.3L168.8 285.7L170.8 287.8L171.0 289.8L170.5 290.8L168.8 292.2L161.9 294.8L159.8 296.4L158.6 298.8L157.6 304.8L156.2 308.8L153.8 312.6L152.4 313.8Z" fill="#389dea" fill-rule="evenodd"/>
<path d="M149.8 313.0L147.8 312.9L145.8 311.9L143.8 309.8L142.2 306.8L141.3 302.8L140.7 295.8L138.9 289.8L139.5 286.8L141.5 284.8L143.8 283.6L146.8 282.7L149.8 282.3L153.8 282.4L157.8 283.1L162.8 284.4L166.1 285.8L168.1 287.8L168.3 288.8L168.0 289.8L165.8 291.5L160.8 293.8L158.4 295.8L157.3 297.8L156.2 304.8L154.8 308.6L152.8 311.4Z" fill="#60d8b7" fill-rule="evenodd"/>
<path d="M149.8 311.0L147.8 310.9L146.0 309.8L144.8 308.5L143.4 305.8L142.7 302.8L142.1 295.8L140.2 289.8L140.8 287.1L141.9 285.8L143.8 284.5L146.8 283.5L149.8 283.0L156.8 283.7L163.3 285.8L164.7 286.8L165.4 287.8L165.5 288.8L163.7 290.8L158.8 293.7L156.7 295.8L155.8 297.8L155.0 303.8L154.0 306.8L151.9 309.8Z" fill="#77da71" fill-rule="evenodd"/>
<path d="M150.8 308.1L149.8 308.6L147.8 308.5L146.7 307.8L145.2 305.8L144.2 302.8L143.6 295.8L141.7 290.8L141.5 288.8L142.4 286.8L145.3 284.8L148.8 283.9L152.8 283.8L156.8 284.5L160.5 285.8L162.0 286.8L162.8 287.8L162.8 288.8L162.2 289.8L156.8 293.8L155.0 295.8L154.2 297.8L153.1 304.8L152.1 306.8Z" fill="#92dc57" fill-rule="evenodd"/>
<path d="M149.8 305.4L148.8 305.6L147.8 305.2L146.7 303.8L146.1 301.8L145.5 295.8L142.9 289.8L143.3 287.8L145.4 285.8L148.8 284.7L153.8 284.7L157.7 285.8L159.4 286.8L160.3 287.8L160.3 288.8L159.8 289.8L154.9 293.8L153.0 295.8L152.2 297.8L151.5 302.8L150.8 304.5Z" fill="#addf43" fill-rule="evenodd"/>
<path d="M150.8 295.0L148.8 295.4L145.8 292.7L144.5 289.8L144.9 287.8L146.8 286.3L149.8 285.5L153.8 285.7L156.8 286.8L157.8 287.8L158.0 288.8L157.5 289.8Z" fill="#c9e138" fill-rule="evenodd"/>
<path d="M151.8 292.2L149.8 292.6L147.6 291.8L146.3 289.8L146.4 288.8L147.0 287.8L148.8 286.8L150.8 286.5L153.2 286.8L155.1 287.8L155.5 288.8L155.1 289.8Z" fill="#dfd830" fill-rule="evenodd"/>
</g>
</g>
<rect x="113.80" y="233.80" width="80.50" height="80.00" fill="none" stroke="#7a7a7a" stroke-dasharray="0 80.50 240.50" stroke-width="1"/><path d="M113.80 233.80V313.80H194.30" fill="none" stroke="#444" stroke-width="1.1"/><path d="M112.0 245.2h1.8M112.0 256.7h1.8M112.0 268.1h1.8M112.0 279.5h1.8M112.0 290.9h1.8M112.0 302.4h1.8M125.3 313.8v1.8M136.8 313.8v1.8M148.3 313.8v1.8M159.8 313.8v1.8M171.3 313.8v1.8M182.8 313.8v1.8" stroke="#555" stroke-width="0.9" fill="none"/>
<path d="M131.8 232.5L124.8 240.8L122.3 265.8L192.8 251.8L192.8 232.5Z" fill="none" stroke="#8a8a8a" stroke-width="0.9"/>
<path d="M123.8 279.8L168.4 269.2L188.2 270.0L191.5 279.9L192.4 313.4L123.8 313.4Z" fill="none" stroke="#8a8a8a" stroke-width="0.9"/>
<text x="123.20" y="255.30" font-size="13.6" textLength="25.4" lengthAdjust="spacingAndGlyphs" style="stroke:none">0.25</text>
<clipPath id="c4"><rect x="218.80" y="50.60" width="80.20" height="80.10"/></clipPath>
<g clip-path="url(#c4)">
<path d="M262 54.5h1m-9 1h1m10 0h1m-15 1h1m17 0h1m-9 1h1m5 0h1m-24 1h1m14 0h1m-12 1h1m4 0h1m16 0h1m-24 1h1m11 0h1m-13 1h1m4 0h1m-6 2h1m8 2h1m14 0h1m-16 1h1m0 0h1m5 0h1m7 0h1m-23 1h1m9 0h1m-12 1h1m1 0h1m4 1h1m5 0h1m-9 1h1m6 1h1m14 0h1m-29 1h1m1 0h1m3 0h1m6 0h1m2 0h1m-35 1h1m10 0h1m10 0h1m15 0h1m-15 1h1m8 0h1m1 0h1m0 0h1m2 0h1m6 0h1m-33 1h1m13 0h1m8 0h1m-2 1h1m19 0h1m-37 1h1m0 0h1m0 0h1m0 0h1m0 0h1m13 1h1m-22 1h1m6 0h1m4 0h1m7 0h1m7 0h1m0 0h1m-45 1h1m5 0h1m1 0h1m3 0h1m3 0h1m2 0h1m5 0h1m4 0h1m0 0h1m-24 1h1m4 0h1m2 0h1m7 0h1m7 0h1m-18 1h1m4 0h1m3 0h1m7 0h1m-19 1h1m0 0h1m4 0h1m1 0h1m0 0h1m0 0h1m10 0h1m-18 1h1m1 0h1m2 0h1m2 0h1m0 0h1m4 0h1m5 0h1m-21 1h1m3 0h1m0 0h1m-16 1h1m7 0h1m5 0h1m1 0h1m0 0h1m5 0h1m3 0h1m-29 1h1m20 0h1m2 0h1m9 0h1m-43 1h1m11 0h1m6 0h1m10 0h1m1 0h1m2 0h1m4 0h1m-34 1h1m5 0h1m4 0h1m3 0h1m4 0h1m9 0h1m2 0h1m-18 1h1m1 0h1m0 0h1m0 0h1m0 0h1m3 0h1m-21 1h1m4 0h1m2 0h1m0 0h1m2 0h1m0 0h1m0 0h1m3 0h1m6 0h1m1 0h1m-35 1h1m11 0h1m0 0h1m0 0h1m0 0h1m3 0h1m4 0h1m-25 1h1m15 0h1m5 0h1m1 0h1m0 0h1m-16 1h1m7 0h1m0 0h1m7 0h1m1 0h1m-26 1h1m6 0h1m1 0h1m7 0h1m2 0h1m1 0h1m-24 1h1m0 0h1m2 0h1m4 0h1m0 0h1m4 0h1m2 0h1m3 0h1m-21 1h1m6 0h1m3 0h1m4 0h1m24 0h1m-53 1h1m6 0h1m10 0h1m0 0h1m5 0h1m1 0h1m1 0h1m3 0h1m4 0h1m-38 1h1m9 0h1m5 0h1m0 0h1m2 0h1m2 0h1m0 0h1m0 0h1m10 0h1m0 0h1m2 0h1m-38 1h1m1 0h1m28 0h1m0 0h1m-32 1h1m4 0h1m6 0h1m19 0h1m-30 1h1m3 0h1m0 0h1m2 0h1m3 0h1m1 0h1m10 0h1m-30 1h1m20 0h1m2 0h1m0 0h1m2 0h1m-19 1h1m4 0h1m7 0h1m-21 1h1m3 0h1m6 0h1m3 0h1m11 0h1m-30 1h1m8 0h1m11 0h1m-11 1h1m3 0h1m1 0h1m-15 1h1m4 0h1m6 0h1m4 0h1m0 0h1m-14 1h1m2 0h1m2 0h1m5 0h1m8 0h1m-20 1h1m7 1h1m-4 1h1m1 0h1m7 1h1m-21 1h1m8 0h1m0 0h1m1 0h1m-12 1h1m6 0h1m0 1h1m-7 1h1m4 0h1m-19 1h1m14 0h1m0 0h1m15 0h1m-22 1h1m0 0h1m10 1h1m4 0h1m-30 1h1m21 0h1m5 0h1m9 1h1m-26 1h1m7 0h1m2 0h1m-20 1h1m-11 1h1m19 1h1m19 0h1m-30 2h1m10 0h1m3 0h1" stroke="#2838ff" stroke-opacity="0.45" stroke-width="1"/>
<path d="M266 55.5h1m-16 2h1m-15 6h1m10 0h1m16 0h1m8 0h1m-10 1h1m-25 4h1m7 0h1m1 0h1m0 0h1m7 0h1m1 0h1m4 1h1m-12 1h1m4 0h1m5 0h1m-23 1h1m13 0h1m0 0h1m0 0h1m3 0h1m-13 1h1m1 0h1m9 0h1m1 0h1m-34 1h1m22 0h1m0 0h1m8 0h1m-20 1h1m-2 1h1m1 0h1m4 0h1m5 0h1m-15 1h1m0 0h1m4 0h1m2 0h1m1 0h1m16 0h1m-27 1h1m0 0h1m4 0h1m8 0h1m0 0h1m-17 1h1m2 0h1m4 0h1m1 0h1m-10 1h1m2 0h1m4 0h1m-14 1h1m3 0h1m1 0h1m4 0h1m2 0h1m3 0h1m-10 1h1m2 0h1m1 0h1m0 0h1m2 0h1m1 0h1m0 0h1m-19 1h1m5 0h1m0 0h1m0 0h1m0 0h1m0 0h1m1 0h1m2 0h1m4 0h1m-24 1h1m3 0h1m2 0h1m13 0h1m-15 1h1m3 0h1m3 0h1m3 0h1m3 0h1m2 0h1m-25 1h1m5 0h1m1 0h1m2 0h1m0 0h1m0 0h1m3 0h1m-20 1h1m6 0h1m1 0h1m2 0h1m5 0h1m1 0h1m2 0h1m-27 1h1m4 0h1m6 0h1m1 0h1m1 0h1m0 0h1m2 0h1m-18 1h1m0 0h1m3 0h1m0 0h1m0 0h1m1 0h1m1 0h1m3 0h1m0 0h1m-10 1h1m14 0h1m-29 1h1m9 0h1m0 0h1m0 0h1m9 0h1m0 0h1m-21 1h1m12 0h1m1 0h1m1 0h1m5 0h1m-28 1h1m8 0h1m0 0h1m3 0h1m1 0h1m0 0h1m0 0h1m1 0h1m1 0h1m-21 1h1m9 0h1m1 0h1m0 0h1m0 0h1m5 0h1m-20 1h1m0 0h1m7 0h1m0 0h1m1 0h1m0 0h1m1 0h1m4 0h1m0 0h1m-17 1h1m4 0h1m7 0h1m1 0h1m2 0h1m-16 1h1m0 0h1m1 0h1m0 0h1m0 0h1m2 0h1m2 0h1m0 0h1m2 0h1m-23 1h1m4 0h1m3 0h1m0 0h1m0 0h1m1 0h1m-9 1h1m12 0h1m-11 1h1m1 0h1m0 0h1m4 0h1m3 0h1m-14 1h1m2 0h1m-9 1h1m0 0h1m7 0h1m0 0h1m3 0h1m-22 1h1m7 0h1m8 0h1m3 0h1m-12 1h1m1 0h1m2 0h1m7 0h1m-24 1h1m6 0h1m2 0h1m5 0h1m0 0h1m0 0h1m9 0h1m-17 1h1m1 0h1m3 0h1m1 0h1m-21 1h1m15 0h1m1 0h1m-20 1h1m8 0h1m-3 1h1m-9 1h1m4 0h1m5 0h1m7 0h1m3 0h1m-23 1h1m20 0h1m0 0h1m-12 5h1m5 0h1m1 0h1m-12 2h1m0 0h1m-4 1h1m15 0h1m3 1h1m-1 10h1" stroke="#2838ff" stroke-opacity="0.5" stroke-width="1"/>
<path d="M262 70.5h1m-3 1h1m-1 1h1m0 0h1m4 0h1m-5 1h1m0 0h1m1 0h1m0 0h1m-8 1h1m1 0h1m0 0h1m2 0h1m-3 1h1m6 0h1m-11 1h1m3 0h1m1 0h1m0 0h1m-9 1h1m1 0h1m0 0h1m0 0h1m-6 1h1m1 0h1m0 0h1m0 0h1m0 0h1m2 0h1m-4 1h1m0 0h1m1 0h1m0 0h1m0 0h1m-10 1h1m1 0h1m2 0h1m0 0h1m-7 1h1m0 0h1m1 0h1m1 0h1m1 0h1m6 0h1m-13 1h1m1 0h1m1 0h1m0 0h1m-9 1h1m5 0h1m2 0h1m-11 1h1m0 0h1m1 0h1m4 0h1m-6 1h1m4 0h1m0 1h1m-5 1h1m2 0h1" stroke="#2838ff" stroke-opacity="0.5" stroke-width="1"/>
<path d="M267 53.5h1m0 1h1m13 0h1m-11 6h1m1 0h1m11 0h1m-31 1h1m18 0h1m2 0h1m-8 1h1m2 0h1m-6 1h1m6 1h1m-7 1h1m0 0h1m4 0h1m0 0h1m-12 1h1m16 0h1m2 0h1m-27 4h1m5 0h1m1 0h1m2 0h1m-3 1h1m0 0h1m3 0h1m0 0h1m0 0h1m-11 2h1m3 0h1m-1 1h1m4 0h1m-10 1h1m2 1h1m2 0h1m0 0h1m7 0h1m-18 1h1m6 0h1m4 0h1m0 0h1m3 0h1m2 0h1m-22 1h1m2 0h1m0 0h1m8 0h1m6 0h1m5 0h1m-31 1h1m8 0h1m11 0h1m-12 1h1m5 0h1m1 0h1m-10 1h1m-1 1h1m2 0h1m7 0h1m-22 1h1m7 0h1m4 0h1m-4 1h1m2 0h1m6 0h1m-11 1h1m10 0h1m-24 1h1m14 1h1m6 0h1m-17 1h1m3 0h1m9 0h1m8 0h1m-6 2h1m-7 1h1m-21 1h1m6 0h1m6 1h1m3 0h1m-12 5h1m7 0h1m15 0h1m-11 6h1m0 6h1" stroke="#2838ff" stroke-opacity="0.4" stroke-width="1"/>
<path d="M263 77.5h1m-11 1h1m20 0h1m5 0h1m5 0h1m0 0h1m-7 1h1m-16 1h1m5 0h1m-7 1h1m18 0h1m2 1h1m0 0h1m0 0h1m-20 1h1m0 0h1m-15 1h1m8 0h1m10 0h1m5 0h1m10 0h1m-5 1h1m3 0h1m-33 1h1m11 0h1m7 0h1m3 0h1m-23 1h1m11 0h1m0 0h1m7 0h1m8 0h1m-18 1h1m3 0h1m2 0h1m-16 1h1m1 0h1m6 0h1m1 0h1m0 0h1m2 0h1m2 0h1m-11 1h1m-3 1h1m0 0h1m1 0h1m0 0h1m-31 1h1m18 0h1m12 0h1m-23 1h1m10 0h1m5 0h1m3 0h1m-28 1h1m10 0h1m5 0h1m3 0h1m3 0h1m1 0h1m8 0h1m-9 1h1m-21 1h1m0 0h1m10 0h1m-3 1h1m0 0h1m0 0h1m5 0h1m-27 1h1m14 1h1m13 0h1m10 0h1m2 0h1m-17 1h1m-12 1h1m-1 3h1m12 0h1m-10 2h1m2 1h1" stroke="#2838ff" stroke-opacity="0.35" stroke-width="1"/>
<path d="M247 86.5h1m-1 6h1m5 0h1m-3 1h1m2 1h1m-7 1h1m-1 1h1m3 0h1m-7 1h1m0 1h1m12 1h1m-12 1h1m2 1h1m3 0h1m-15 2h1m5 0h1m4 0h1m-8 1h1m5 0h1m0 0h1m-5 1h1m1 0h1m1 0h1m-3 1h1m7 0h1m-11 1h1m3 0h1m4 0h1m-8 2h1m3 0h1m1 0h1m-6 1h1m4 0h1m-12 1h1m2 0h1m1 0h1m-2 1h1m4 1h1m12 0h1m-20 1h1m0 0h1m5 0h1m6 0h1m-14 1h1m11 0h1m-11 1h1m2 0h1m-5 1h1m8 0h1m-10 2h1m11 1h1m-15 1h1m4 0h1m1 0h1m2 0h1m-2 1h1m-5 1h1m0 0h1m-6 1h1m12 0h1m-9 2h1m6 2h1m-14 1h1m4 0h1m4 1h1" stroke="#2838ff" stroke-opacity="0.4" stroke-width="1"/>
<path d="M237 76.5h1m-7 2h1m4 1h1m11 0h1m-13 1h1m9 0h1m2 0h1m0 0h1m-13 1h1m10 0h1m-8 1h1m3 0h1m4 0h1m-15 1h1m1 0h1m1 0h1m8 0h1m1 0h1m-27 1h1m17 0h1m10 0h1m-17 1h1m0 0h1m4 0h1m4 0h1m-15 1h1m3 0h1m0 0h1m1 0h1m-10 1h1m2 0h1m5 0h1m6 0h1m1 0h1m5 0h1m-33 1h1m3 0h1m0 0h1m2 0h1m6 0h1m5 0h1m2 0h1m3 0h1m-22 1h1m11 0h1m0 0h1m-12 1h1m0 0h1m9 0h1m1 0h1m4 0h1m-17 1h1m2 0h1m0 0h1m1 0h1m7 0h1m0 0h1m-16 1h1m5 0h1m1 0h1m0 0h1m1 0h1m0 0h1m-18 1h1m1 0h1m2 0h1m10 0h1m2 0h1m0 0h1m0 0h1m-23 1h1m1 0h1m9 0h1m5 0h1m8 0h1m-20 1h1m1 0h1m0 0h1m6 0h1m9 0h1m-26 1h1m8 0h1m3 0h1m-8 1h1m0 0h1m7 0h1m3 0h1m-21 1h1m9 0h1m0 0h1m2 0h1m-15 1h1m10 0h1m4 0h1m-14 1h1m7 0h1m1 0h1m0 0h1m-12 1h1m6 0h1m9 0h1m-19 1h1m6 0h1m5 0h1m7 0h1m-18 1h1m10 0h1m-11 1h1m4 0h1m7 1h1m-19 3h1m10 0h1" stroke="#2838ff" stroke-opacity="0.4" stroke-width="1"/>
<g filter="url(#spk)"><path d="M252.8 116.8L248.8 116.5L245.8 115.0L243.3 112.6L241.3 109.6L240.1 106.6L239.0 101.6L238.8 96.6L239.4 90.6L241.2 83.6L243.2 78.6L245.2 74.6L248.8 69.6L251.8 66.5L255.8 63.8L258.8 62.9L261.8 63.0L264.8 64.3L266.8 66.1L268.6 68.6L270.2 72.6L271.0 76.6L271.3 80.6L270.5 89.6L269.4 94.6L267.5 100.6L263.6 108.6L261.4 111.6L258.8 114.1L255.8 115.9Z" fill-opacity="0.2" fill-rule="evenodd"/><path d="M253.8 114.9L250.8 115.1L247.8 114.3L244.8 112.1L242.8 109.5L241.1 105.6L240.1 101.6L239.8 96.6L240.2 91.6L241.3 86.6L243.3 80.6L245.2 76.6L248.4 71.6L251.8 67.9L254.8 65.7L257.8 64.5L260.8 64.4L262.8 64.9L265.3 66.6L267.0 68.6L268.6 71.6L269.6 74.6L270.2 78.6L270.0 86.6L268.1 95.6L266.4 100.6L264.1 105.6L261.8 109.1L259.5 111.6L256.8 113.6Z" fill-opacity="0.2" fill-rule="evenodd"/><path d="M254.8 112.7L251.8 113.3L248.8 112.7L245.8 110.8L244.0 108.6L242.5 105.6L241.4 101.6L240.9 97.6L241.1 92.6L242.1 87.6L243.6 82.6L245.3 78.6L248.3 73.6L250.8 70.5L253.8 67.8L256.8 66.1L259.8 65.7L261.8 66.2L263.8 67.3L265.8 69.3L267.2 71.6L268.3 74.6L269.1 78.6L269.1 85.6L267.4 94.6L264.3 102.6L262.0 106.6L259.8 109.3L257.8 111.1Z" fill-opacity="0.2" fill-rule="evenodd"/><path d="M254.8 110.8L251.8 111.3L249.8 111.0L247.8 110.0L245.3 107.6L243.7 104.6L242.5 100.6L242.1 96.6L242.3 92.6L243.2 87.6L244.4 83.6L246.5 78.6L248.9 74.6L251.8 71.0L254.8 68.4L257.8 67.2L259.8 67.1L261.8 67.8L263.8 69.3L266.6 73.6L268.0 79.6L267.9 86.6L266.3 94.6L262.9 102.6L261.0 105.6L258.8 108.2Z" fill-opacity="0.2" fill-rule="evenodd"/><path d="M254.8 108.6L251.8 109.1L249.8 108.7L247.8 107.5L246.1 105.6L244.0 100.6L243.5 96.6L243.5 92.6L245.2 84.6L247.3 79.6L249.5 75.6L253.8 70.5L255.8 69.1L258.8 68.4L260.8 68.9L262.8 70.3L265.5 74.6L266.9 80.6L266.8 86.6L265.4 93.6L262.5 100.6L258.8 105.9L256.8 107.6Z" fill-opacity="0.2" fill-rule="evenodd"/></g>
<g filter="url(#disp)">
<path d="M253.8 106.6L251.8 106.7L249.8 106.1L248.0 104.6L246.6 102.6L245.1 97.6L245.1 90.6L247.2 82.6L249.5 77.6L251.3 74.6L254.8 70.9L256.8 69.9L258.8 69.6L260.8 70.3L262.3 71.6L264.5 75.6L265.6 80.6L265.4 87.6L263.7 94.6L260.9 100.6L257.8 104.4L255.8 105.8Z" fill="#1626f5" fill-rule="evenodd"/>
<path d="M253.8 106.6L251.8 106.7L249.8 106.1L248.0 104.6L246.6 102.6L245.1 97.6L245.1 90.6L247.2 82.6L250.7 75.6L252.8 72.8L254.8 70.9L256.8 69.9L258.8 69.6L260.8 70.3L262.3 71.6L264.5 75.6L265.6 80.6L265.4 87.6L263.7 94.6L260.9 100.6L257.8 104.4L255.8 105.8Z" fill="#1b34f8" fill-rule="evenodd"/>
<path d="M255.8 101.8L253.8 102.5L251.8 102.2L250.8 101.6L249.0 99.6L248.2 97.6L247.6 94.6L247.6 89.6L249.0 82.6L251.7 76.6L254.8 72.9L256.8 71.8L258.8 71.7L259.8 72.1L261.4 73.6L262.9 76.6L263.7 80.6L263.6 86.6L262.5 91.6L260.4 96.6L258.4 99.6Z" fill="#1c38f9" fill-rule="evenodd"/>
<path d="M254.8 99.6L252.8 99.5L251.8 99.0L250.0 96.6L249.0 92.6L249.1 87.6L250.1 82.6L252.3 77.6L254.8 74.4L256.8 73.3L257.8 73.2L259.8 73.9L261.7 76.6L262.6 80.6L262.6 85.6L261.5 90.6L259.9 94.6L257.8 97.6Z" fill="#1e3efa" fill-rule="evenodd"/>
<path d="M254.8 97.8L252.8 97.5L251.8 96.6L250.8 94.9L250.0 91.6L250.1 86.6L251.3 81.6L253.2 77.6L255.8 75.0L257.8 74.5L259.8 75.5L261.4 78.6L261.9 82.6L261.6 86.6L260.6 90.6L258.8 94.5L256.8 96.8Z" fill="#277cfa" fill-rule="evenodd"/>
<path d="M255.8 96.1L253.8 96.3L252.8 95.8L251.8 94.5L250.8 91.6L250.7 87.6L251.6 82.6L253.4 78.6L255.8 76.1L257.8 75.6L259.4 76.6L260.5 78.6L261.2 81.6L261.2 84.6L260.5 88.6L259.5 91.6L257.8 94.4Z" fill="#5cd7c2" fill-rule="evenodd"/>
<path d="M255.8 94.9L253.8 95.0L252.4 93.6L251.4 90.6L251.3 86.6L252.2 82.6L253.8 79.2L255.8 77.1L257.8 76.7L259.0 77.6L260.1 79.6L260.6 82.6L260.5 85.6L259.9 88.6L258.8 91.4L257.3 93.6Z" fill="#7bda6c" fill-rule="evenodd"/>
<path d="M255.8 93.7L254.8 94.0L253.8 93.7L252.8 92.6L252.1 90.6L251.8 87.6L252.5 83.6L253.7 80.6L254.8 79.0L256.8 77.7L257.8 77.8L259.3 79.6L259.9 81.6L260.1 84.6L258.8 90.0L257.8 91.9Z" fill="#9edd4c" fill-rule="evenodd"/>
<path d="M255.8 92.7L254.8 92.8L253.3 91.6L252.6 89.6L252.5 86.6L253.8 81.6L254.8 80.0L256.8 78.8L257.8 79.0L258.8 80.2L259.5 82.6L259.5 84.6L258.3 89.6L256.8 91.9Z" fill="#c1e03b" fill-rule="evenodd"/>
<path d="M254.8 91.7L253.8 90.9L253.3 89.6L253.1 85.6L253.8 83.0L254.8 81.1L255.8 80.2L256.8 79.8L257.8 80.3L258.6 81.6L259.0 83.6L258.8 86.1L258.1 88.6L257.0 90.6L255.8 91.6Z" fill="#dfd82f" fill-rule="evenodd"/>
<path d="M255.8 90.4L254.8 90.3L253.8 88.8L253.7 85.6L254.8 82.4L255.8 81.3L256.8 81.0L257.8 81.8L258.1 82.6L258.3 85.6L257.4 88.6Z" fill="#f5bd29" fill-rule="evenodd"/>
<path d="M255.8 88.9L254.8 88.6L254.5 85.6L254.8 84.2L255.8 82.7L256.8 82.5L257.4 83.6L257.5 85.6L256.8 88.0Z" fill="#f17a20" fill-rule="evenodd"/>
</g>
</g>
<rect x="218.80" y="50.60" width="80.20" height="80.10" fill="none" stroke="#7a7a7a" stroke-width="1"/><path d="M218.80 50.60V130.70H299.00" fill="none" stroke="#444" stroke-width="1.1"/><path d="M217.0 62.0h1.8M217.0 73.5h1.8M217.0 84.9h1.8M217.0 96.4h1.8M217.0 107.8h1.8M217.0 119.3h1.8M230.3 130.7v1.8M241.7 130.7v1.8M253.2 130.7v1.8M264.6 130.7v1.8M276.1 130.7v1.8M287.5 130.7v1.8" stroke="#555" stroke-width="0.9" fill="none"/>
<rect x="266.5" y="61.0" width="13.6" height="26.2" fill="none" stroke="#b0b0b0" stroke-width="0.7"/>
<text x="259.90" y="102.40" font-size="13.6" textLength="25.4" lengthAdjust="spacingAndGlyphs" style="stroke:none">0.44</text>
<clipPath id="c5"><rect x="218.80" y="142.80" width="80.10" height="80.00"/></clipPath>
<g clip-path="url(#c5)">
<path d="M265 145.5h1m2 2h1m-2 1h1m-10 3h1m-24 1h1m27 0h1m-16 3h1m7 0h1m-6 1h1m2 0h1m7 2h1m6 0h1m-17 1h1m12 1h1m-14 1h1m1 0h1m3 0h1m-11 1h1m9 0h1m3 0h1m-26 2h1m5 0h1m13 0h1m11 0h1m-10 1h1m-13 1h1m4 0h1m0 0h1m1 0h1m3 0h1m-10 1h1m1 0h1m1 0h1m0 0h1m5 0h1m0 0h1m-25 1h1m7 0h1m5 0h1m2 0h1m7 0h1m-23 1h1m-10 1h1m6 0h1m6 0h1m10 0h1m1 0h1m-11 1h1m0 0h1m2 0h1m7 0h1m-19 1h1m1 0h1m3 0h1m1 0h1m0 0h1m0 0h1m2 0h1m2 0h1m0 0h1m-19 1h1m6 0h1m1 0h1m4 0h1m7 0h1m-17 1h1m5 0h1m-16 1h1m8 0h1m3 0h1m2 0h1m1 0h1m-15 1h1m11 0h1m3 0h1m-23 1h1m11 0h1m0 0h1m1 0h1m0 0h1m0 0h1m0 0h1m2 0h1m5 0h1m0 0h1m-32 1h1m7 0h1m3 0h1m4 0h1m5 0h1m8 0h1m-27 1h1m1 0h1m3 0h1m0 0h1m3 0h1m4 0h1m-27 1h1m1 0h1m22 0h1m0 0h1m3 0h1m0 0h1m1 0h1m0 0h1m-22 1h1m2 0h1m13 0h1m-31 1h1m11 0h1m0 0h1m6 0h1m2 0h1m2 0h1m-21 1h1m6 0h1m2 0h1m3 0h1m3 0h1m0 0h1m0 0h1m0 0h1m-19 1h1m0 0h1m9 0h1m2 0h1m1 0h1m4 0h1m6 0h1m-30 1h1m4 0h1m8 0h1m2 0h1m21 0h1m-39 1h1m1 0h1m5 0h1m2 0h1m0 0h1m5 0h1m9 0h1m-30 1h1m6 0h1m0 0h1m0 0h1m1 0h1m0 0h1m5 0h1m0 0h1m-33 1h1m18 0h1m0 0h1m2 0h1m6 0h1m4 0h1m-27 1h1m5 0h1m2 0h1m2 0h1m2 0h1m0 0h1m2 0h1m3 0h1m1 0h1m0 0h1m-23 1h1m5 0h1m0 0h1m3 0h1m2 0h1m1 0h1m2 0h1m3 0h1m1 0h1m-25 1h1m4 0h1m5 0h1m2 0h1m15 0h1m-22 1h1m0 0h1m12 0h1m-35 1h1m12 0h1m6 0h1m4 0h1m4 0h1m4 0h1m1 0h1m-31 1h1m6 0h1m3 0h1m4 0h1m1 0h1m-11 1h1m2 0h1m6 0h1m-24 1h1m12 0h1m0 0h1m1 0h1m1 0h1m1 0h1m4 0h1m-22 1h1m4 0h1m2 0h1m5 0h1m7 0h1m-14 1h1m2 0h1m2 0h1m5 0h1m5 0h1m-12 1h1m7 0h1m-26 1h1m13 0h1m8 0h1m-20 1h1m12 0h1m0 0h1m-10 1h1m0 0h1m5 0h1m1 0h1m1 0h1m-11 1h1m3 0h1m0 0h1m1 0h1m11 0h1m-11 1h1m3 1h1m-23 1h1m1 0h1m1 0h1m4 1h1m0 0h1m0 0h1m5 0h1m-19 1h1m7 0h1m5 0h1m2 0h1m3 0h1m-7 1h1m1 0h1m2 0h1m-20 1h1m2 0h1m17 0h1m-12 1h1m0 0h1m-18 1h1m9 0h1m9 0h1m3 0h1m-17 1h1m20 0h1m-31 1h1m13 0h1m23 0h1m-30 1h1m20 0h1m-35 1h1m14 0h1m7 0h1m7 0h1m-13 1h1m-9 2h1" stroke="#2838ff" stroke-opacity="0.45" stroke-width="1"/>
<path d="M251 151.5h1m3 3h1m-1 1h1m17 2h1m-14 1h1m1 2h1m-10 3h1m7 1h1m-19 1h1m10 0h1m1 0h1m1 0h1m-11 1h1m7 0h1m1 0h1m7 0h1m-26 1h1m16 1h1m-6 1h1m2 0h1m-5 1h1m0 0h1m0 0h1m4 0h1m8 0h1m-18 1h1m1 0h1m16 0h1m-19 1h1m2 0h1m0 0h1m7 0h1m-18 1h1m0 1h1m18 0h1m-24 1h1m4 0h1m3 0h1m0 0h1m6 0h1m-11 1h1m8 0h1m1 0h1m-17 1h1m2 0h1m2 0h1m0 0h1m0 0h1m0 0h1m0 0h1m2 0h1m5 0h1m-28 1h1m9 0h1m4 0h1m2 0h1m3 0h1m-12 1h1m4 0h1m4 0h1m7 0h1m-28 1h1m7 0h1m1 0h1m1 0h1m0 0h1m2 0h1m0 0h1m0 0h1m4 0h1m-19 1h1m1 0h1m0 0h1m0 0h1m3 0h1m1 0h1m5 0h1m5 0h1m-31 1h1m8 0h1m2 0h1m3 0h1m1 0h1m0 0h1m1 0h1m0 0h1m2 0h1m0 0h1m3 0h1m-20 1h1m0 0h1m0 0h1m1 0h1m6 0h1m1 0h1m-21 1h1m2 0h1m1 0h1m1 0h1m1 0h1m0 0h1m6 0h1m1 0h1m1 0h1m-10 1h1m4 0h1m0 0h1m1 0h1m-25 1h1m4 0h1m6 0h1m0 0h1m1 0h1m0 0h1m0 0h1m3 0h1m3 0h1m-21 1h1m2 0h1m0 0h1m5 0h1m0 0h1m4 0h1m1 0h1m4 0h1m-27 1h1m1 0h1m2 0h1m9 0h1m0 0h1m0 0h1m1 0h1m3 0h1m-22 1h1m4 0h1m0 0h1m3 0h1m2 0h1m0 0h1m2 0h1m1 0h1m0 0h1m-20 1h1m1 0h1m2 0h1m0 0h1m2 0h1m0 0h1m2 0h1m0 0h1m4 0h1m-14 1h1m0 0h1m7 0h1m0 0h1m1 0h1m2 0h1m1 0h1m-38 1h1m12 0h1m0 0h1m0 0h1m2 0h1m2 0h1m0 0h1m4 0h1m0 0h1m1 0h1m-10 1h1m1 0h1m3 0h1m1 0h1m2 0h1m6 0h1m-26 1h1m5 0h1m0 0h1m2 0h1m0 0h1m-3 1h1m0 0h1m2 0h1m0 0h1m0 0h1m-27 1h1m7 0h1m2 0h1m0 0h1m1 0h1m1 0h1m2 0h1m0 0h1m3 0h1m0 0h1m2 0h1m-17 1h1m5 0h1m2 0h1m-10 1h1m2 0h1m2 0h1m2 0h1m0 0h1m-20 1h1m9 0h1m12 0h1m-13 1h1m2 0h1m5 0h1m2 0h1m0 0h1m1 0h1m-15 2h1m1 1h1m0 0h1m5 0h1m3 0h1m-9 1h1m1 0h1m5 1h1m-15 1h1m5 0h1m1 0h1m-20 1h1m10 0h1m-4 4h1m1 0h1m4 0h1m4 2h1m-4 1h1m-18 1h1m25 2h1m-11 2h1" stroke="#2838ff" stroke-opacity="0.5" stroke-width="1"/>
<path d="M261 164.5h1m1 0h1m1 0h1m-4 1h1m0 1h1m0 0h1m1 0h1m0 0h1m0 1h1m-8 1h1m0 0h1m0 1h1m1 0h1m3 0h1m-12 1h1m0 0h1m1 0h1m-6 1h1m5 0h1m0 0h1m0 0h1m0 0h1m1 0h1m0 0h1m-8 1h1m1 0h1m1 0h1m0 0h1m-9 1h1m4 0h1m-4 1h1m0 0h1m1 0h1m1 0h1m0 0h1m0 0h1m0 0h1m2 0h1m-12 1h1m0 0h1m4 0h1m0 0h1m-11 1h1m2 0h1m1 0h1m0 0h1m0 0h1m-7 1h1m0 0h1m3 0h1m0 0h1m2 0h1m-11 1h1m3 0h1m0 0h1m4 1h1m-9 1h1m2 2h1m1 1h1" stroke="#2838ff" stroke-opacity="0.5" stroke-width="1"/>
<path d="M263 147.5h1m18 1h1m-29 1h1m1 3h1m23 1h1m-20 1h1m10 1h1m8 0h1m-22 1h1m13 0h1m1 0h1m-10 1h1m-15 1h1m17 0h1m15 2h1m-21 1h1m7 0h1m2 0h1m-12 1h1m18 0h1m-15 2h1m5 0h1m10 0h1m-37 2h1m10 0h1m12 0h1m11 0h1m-26 1h1m6 0h1m0 0h1m1 0h1m2 0h1m-18 1h1m5 0h1m8 0h1m-3 1h1m2 0h1m-15 1h1m6 0h1m10 0h1m-26 1h1m6 0h1m11 0h1m-11 1h1m6 0h1m2 0h1m12 0h1m-19 1h1m1 0h1m3 0h1m0 0h1m2 0h1m-10 1h1m-18 1h1m15 0h1m4 0h1m10 0h1m-5 1h1m-8 1h1m-6 1h1m1 0h1m-14 1h1m0 0h1m5 0h1m11 0h1m0 0h1m-10 1h1m27 0h1m-25 1h1m16 0h1m-16 1h1m-5 2h1m-4 1h1m1 0h1m5 1h1m-9 1h1m-10 1h1m8 0h1m0 0h1m-6 1h1m1 2h1m-9 2h1m10 2h1m5 0h1m0 8h1" stroke="#2838ff" stroke-opacity="0.4" stroke-width="1"/>
<path d="M258 157.5h1m9 10h1m-6 3h1m12 0h1m-1 2h1m2 0h1m5 0h1m0 0h1m3 0h1m-37 2h1m6 0h1m9 0h1m4 0h1m3 0h1m2 0h1m-27 1h1m34 0h1m-28 1h1m8 0h1m7 0h1m-6 1h1m-19 1h1m9 0h1m5 0h1m15 0h1m6 1h1m-50 1h1m15 0h1m8 0h1m0 0h1m1 0h1m3 0h1m8 0h1m0 0h1m-13 1h1m11 0h1m-14 1h1m-9 1h1m1 0h1m4 0h1m2 0h1m1 0h1m0 0h1m2 0h1m0 0h1m0 0h1m3 0h1m-18 1h1m2 0h1m5 0h1m5 0h1m-35 1h1m13 0h1m11 0h1m3 0h1m-37 1h1m20 0h1m4 0h1m8 0h1m11 0h1m-9 1h1m-31 1h1m3 0h1m0 0h1m8 0h1m-9 1h1m5 0h1m10 0h1m12 0h1m-3 1h1m0 0h1m-41 2h1m9 0h1m7 0h1m10 0h1m-14 1h1m10 0h1m5 0h1m3 0h1m-19 1h1m13 0h1m-2 1h1m10 0h1m-53 7h1m20 1h1m25 2h1" stroke="#2838ff" stroke-opacity="0.35" stroke-width="1"/>
<path d="M252 164.5h1m8 10h1m0 9h1m-21 3h1m15 0h1m-2 1h1m-6 2h1m3 0h1m-5 1h1m3 0h1m-10 1h1m6 0h1m1 6h1m-3 1h1m0 0h1m-9 1h1m6 0h1m-8 1h1m2 0h1m1 0h1m4 0h1m-16 1h1m4 1h1m4 0h1m17 0h1m-24 1h1m1 0h1m3 0h1m6 0h1m-18 1h1m3 0h1m0 0h1m2 0h1m4 0h1m-6 2h1m2 0h1m0 0h1m5 0h1m-12 1h1m0 0h1m-1 1h1m1 0h1m3 0h1m0 0h1m-16 1h1m8 0h1m9 0h1m-10 1h1m2 1h1m-6 1h1m10 3h1m-27 1h1m11 0h1m2 0h1m-7 1h1m16 0h1m-11 2h1m2 0h1m-8 1h1m8 2h1m0 0h1" stroke="#2838ff" stroke-opacity="0.4" stroke-width="1"/>
<path d="M251 170.5h1m-9 3h1m2 0h1m-13 2h1m6 0h1m-10 1h1m13 0h1m-18 1h1m17 0h1m-15 1h1m10 0h1m-6 1h1m2 0h1m9 0h1m6 0h1m-29 1h1m0 0h1m9 0h1m11 0h1m-19 1h1m1 0h1m12 0h1m-20 1h1m7 0h1m1 0h1m4 0h1m0 0h1m1 0h1m-18 1h1m7 0h1m3 0h1m-13 1h1m15 0h1m-16 1h1m7 0h1m0 0h1m7 0h1m-27 1h1m5 0h1m13 0h1m3 0h1m0 0h1m13 0h1m-29 1h1m6 0h1m0 0h1m3 0h1m3 0h1m-9 1h1m5 0h1m-15 1h1m0 0h1m0 0h1m3 0h1m2 0h1m1 0h1m-11 1h1m0 0h1m1 0h1m1 0h1m1 0h1m1 0h1m1 0h1m-10 1h1m0 0h1m1 0h1m2 0h1m0 0h1m2 0h1m2 0h1m2 0h1m-13 1h1m0 0h1m1 0h1m-8 1h1m1 0h1m0 0h1m1 0h1m10 0h1m-28 1h1m7 0h1m4 0h1m3 0h1m-13 1h1m3 0h1m0 0h1m0 0h1m4 0h1m1 0h1m0 0h1m-12 1h1m1 0h1m3 0h1m1 0h1m-7 1h1m1 0h1m8 0h1m1 0h1m-10 1h1m1 0h1m-7 1h1m2 0h1m6 0h1m0 0h1m-8 3h1m1 1h1m-4 1h1m-2 3h1" stroke="#2838ff" stroke-opacity="0.4" stroke-width="1"/>
<g filter="url(#spk)"><path d="M254.8 211.0L250.8 211.7L247.8 211.1L244.8 209.4L242.4 206.8L240.2 202.8L239.0 198.8L238.4 193.8L238.5 188.8L239.5 182.8L241.3 176.8L244.1 170.8L247.2 165.8L250.8 161.8L253.8 159.5L256.8 158.1L260.8 157.7L263.8 158.8L265.8 160.2L267.8 162.8L269.3 165.8L270.7 172.8L270.5 181.8L268.3 191.8L266.1 197.8L264.2 201.8L262.3 204.8L259.8 207.7L257.8 209.4Z" fill-opacity="0.2" fill-rule="evenodd"/><path d="M251.8 209.9L248.8 209.6L245.8 208.1L243.4 205.8L241.6 202.8L240.2 198.8L239.5 194.8L239.5 189.8L240.1 184.8L241.3 179.8L243.2 174.8L245.1 170.8L248.5 165.8L251.8 162.4L254.8 160.3L257.8 159.2L260.8 159.2L262.8 159.9L265.3 161.8L266.9 163.8L268.4 166.8L269.5 170.8L269.9 174.8L269.3 183.8L268.2 188.8L266.3 194.8L264.5 198.8L262.2 202.8L259.8 205.7L256.8 208.2L254.8 209.3Z" fill-opacity="0.2" fill-rule="evenodd"/><path d="M252.8 208.0L249.8 208.0L246.8 206.7L244.6 204.8L242.8 202.0L241.5 198.8L240.7 194.8L240.5 190.8L241.0 185.8L242.1 180.8L243.4 176.8L245.2 172.8L248.3 167.8L250.9 164.8L253.8 162.3L256.8 160.8L259.8 160.6L261.8 161.1L264.2 162.8L265.9 164.8L267.4 167.8L268.3 170.8L268.8 174.8L268.4 182.8L266.2 191.8L262.6 199.8L260.6 202.8L257.8 205.6L254.8 207.4Z" fill-opacity="0.2" fill-rule="evenodd"/><path d="M252.8 206.0L249.8 205.9L247.8 205.1L245.8 203.5L243.9 200.8L242.7 197.8L241.9 193.8L242.1 185.8L243.2 180.8L244.6 176.8L246.4 172.8L248.9 168.8L251.8 165.4L254.8 163.0L256.8 162.1L259.8 162.0L261.8 162.8L263.8 164.5L266.4 168.8L267.7 174.8L267.4 182.8L265.4 190.8L263.4 195.8L261.7 198.8L257.8 203.5L254.8 205.4Z" fill-opacity="0.2" fill-rule="evenodd"/><path d="M252.8 203.9L250.8 203.9L248.1 202.8L246.0 200.8L244.8 198.8L243.7 195.8L243.2 192.8L243.3 185.8L245.4 177.8L247.2 173.8L249.5 169.8L251.8 166.8L254.8 164.2L256.8 163.3L258.8 163.2L260.8 163.9L262.8 165.5L265.3 169.8L266.5 175.8L266.2 182.8L264.2 190.8L261.4 196.8L259.2 199.8L257.2 201.8L254.8 203.3Z" fill-opacity="0.2" fill-rule="evenodd"/></g>
<g filter="url(#disp)">
<path d="M254.8 201.0L252.8 201.5L250.8 201.4L248.8 200.5L247.0 198.8L245.9 196.8L244.9 193.8L244.5 190.8L244.6 186.8L246.3 178.8L250.0 170.8L252.2 167.8L254.8 165.4L256.8 164.5L258.8 164.5L260.8 165.4L261.8 166.3L263.5 168.8L264.3 170.8L265.3 175.8L265.2 180.8L264.2 186.8L261.4 193.8L258.7 197.8L256.8 199.7Z" fill="#1626f5" fill-rule="evenodd"/>
<path d="M254.8 201.0L252.8 201.5L250.8 201.4L248.8 200.5L246.8 198.5L244.9 193.8L244.5 190.8L244.6 186.8L246.3 178.8L250.0 170.8L252.2 167.8L254.8 165.4L256.8 164.6L258.8 164.5L260.8 165.4L261.8 166.3L263.5 168.8L264.3 170.8L265.3 175.8L265.1 181.8L263.5 188.8L261.4 193.8L258.7 197.8L256.8 199.7Z" fill="#1b34f8" fill-rule="evenodd"/>
<path d="M254.8 196.9L251.8 197.2L249.8 196.0L248.9 194.8L247.4 190.8L247.1 184.8L248.5 177.8L251.1 171.8L252.8 169.3L254.8 167.4L257.8 166.4L259.2 166.8L260.5 167.8L262.3 170.8L263.4 175.8L263.3 180.8L262.3 185.8L260.4 190.8L257.8 194.6Z" fill="#1c38f9" fill-rule="evenodd"/>
<path d="M254.8 194.3L252.8 194.5L251.8 194.1L249.8 191.8L248.7 187.8L248.7 182.8L249.9 176.8L252.2 171.8L254.8 168.9L255.8 168.3L257.8 168.0L259.8 169.1L261.4 171.8L262.3 175.8L262.1 180.8L261.0 185.8L259.3 189.8L256.8 193.0Z" fill="#1e3efa" fill-rule="evenodd"/>
<path d="M255.8 192.1L253.8 192.7L252.8 192.5L251.0 190.8L249.6 186.8L249.5 182.8L250.4 177.8L252.5 172.8L254.8 170.2L256.8 169.3L257.8 169.3L259.8 170.8L260.8 172.8L261.4 175.8L261.4 179.8L260.4 184.8L259.2 187.8L257.8 190.1Z" fill="#277cfa" fill-rule="evenodd"/>
<path d="M254.8 191.1L252.8 190.9L251.1 188.8L250.3 185.8L250.3 181.8L251.1 177.8L252.8 173.8L254.8 171.3L256.8 170.4L258.8 171.2L259.9 172.8L260.7 175.8L260.8 179.8L260.0 183.8L258.8 186.9L256.8 189.8Z" fill="#5cd7c2" fill-rule="evenodd"/>
<path d="M254.8 189.9L253.8 189.9L252.8 189.4L251.7 187.8L250.9 184.8L251.0 180.8L252.0 176.8L253.5 173.8L254.8 172.3L256.8 171.5L258.0 171.8L259.5 173.8L260.2 176.8L260.2 179.8L259.4 183.8L258.1 186.8L256.8 188.6Z" fill="#7bda6c" fill-rule="evenodd"/>
<path d="M255.8 188.3L253.8 188.7L252.7 187.8L251.8 185.8L251.5 181.8L252.2 177.8L253.6 174.8L254.8 173.4L256.8 172.5L257.8 172.9L259.1 174.8L259.6 176.8L259.6 179.8L258.4 184.8L257.3 186.8Z" fill="#9edd4c" fill-rule="evenodd"/>
<path d="M255.8 187.3L254.8 187.6L253.8 187.5L252.8 186.4L252.2 184.8L252.0 181.8L252.5 178.8L253.8 175.7L254.8 174.4L255.8 173.7L256.8 173.6L257.8 174.1L258.8 175.8L259.1 179.8L257.8 184.7Z" fill="#c1e03b" fill-rule="evenodd"/>
<path d="M255.8 186.2L254.8 186.5L253.5 185.8L252.7 183.8L252.7 180.8L253.4 177.8L254.5 175.8L255.8 174.7L256.8 174.7L257.8 175.5L258.3 176.8L258.5 179.8L257.8 183.2L256.8 185.1Z" fill="#dfd82f" fill-rule="evenodd"/>
<path d="M255.8 185.0L254.8 185.3L253.8 184.6L253.2 181.8L253.8 178.5L254.8 176.6L255.8 175.9L256.8 175.9L257.5 176.8L258.0 178.8L257.6 181.8L256.8 183.8Z" fill="#f5bd29" fill-rule="evenodd"/>
<path d="M255.8 183.5L254.8 183.8L254.0 181.8L254.5 178.8L255.8 177.3L256.8 177.7L257.2 179.8L256.8 182.0Z" fill="#f17a20" fill-rule="evenodd"/>
</g>
</g>
<rect x="218.80" y="142.80" width="80.10" height="80.00" fill="none" stroke="#7a7a7a" stroke-width="1"/><path d="M218.80 142.80V222.80H298.90" fill="none" stroke="#444" stroke-width="1.1"/><path d="M217.0 154.2h1.8M217.0 165.7h1.8M217.0 177.1h1.8M217.0 188.5h1.8M217.0 199.9h1.8M217.0 211.4h1.8M230.2 222.8v1.8M241.7 222.8v1.8M253.1 222.8v1.8M264.6 222.8v1.8M276.0 222.8v1.8M287.5 222.8v1.8" stroke="#555" stroke-width="0.9" fill="none"/>
<rect x="266.5" y="153.2" width="13.6" height="26.2" fill="none" stroke="#b0b0b0" stroke-width="0.7"/>
<text x="260.30" y="194.60" font-size="13.6" textLength="25.4" lengthAdjust="spacingAndGlyphs" style="stroke:none">0.36</text>
<clipPath id="c6"><rect x="218.50" y="234.20" width="80.10" height="80.00"/></clipPath>
<g clip-path="url(#c6)">
<path d="M258 238.5h1m0 0h1m15 0h1m-31 2h1m16 0h1m16 4h1m-23 1h1m-17 1h1m20 0h1m-3 2h1m3 0h1m-9 1h1m13 0h1m-29 1h1m8 0h1m5 0h1m0 0h1m3 0h1m-23 1h1m9 0h1m11 0h1m-20 1h1m11 0h1m6 0h1m-13 1h1m0 0h1m-6 1h1m8 0h1m-30 1h1m10 0h1m7 0h1m9 0h1m2 0h1m4 0h1m5 0h1m2 0h1m-26 1h1m0 0h1m15 0h1m6 0h1m-9 1h1m0 0h1m1 0h1m1 0h1m-27 1h1m4 0h1m3 0h1m0 0h1m4 0h1m2 0h1m4 0h1m3 0h1m0 0h1m-36 1h1m22 0h1m2 0h1m0 0h1m-21 1h1m13 0h1m-17 1h1m0 0h1m12 0h1m3 0h1m-8 1h1m3 0h1m6 0h1m2 0h1m-28 1h1m10 0h1m4 0h1m7 0h1m1 0h1m2 0h1m5 0h1m-33 1h1m17 0h1m-7 1h1m3 0h1m5 0h1m15 0h1m-36 1h1m2 0h1m1 0h1m3 0h1m2 0h1m6 0h1m7 0h1m-31 1h1m1 0h1m9 0h1m1 0h1m0 0h1m7 0h1m8 0h1m-34 1h1m8 0h1m0 0h1m12 0h1m-28 1h1m7 0h1m4 0h1m8 0h1m0 0h1m1 0h1m-16 1h1m1 0h1m2 0h1m2 0h1m1 0h1m1 0h1m-29 1h1m8 0h1m15 0h1m0 0h1m12 0h1m-36 1h1m16 0h1m1 0h1m5 0h1m3 0h1m-19 1h1m7 0h1m2 0h1m1 0h1m2 0h1m16 0h1m-33 1h1m0 0h1m0 0h1m1 0h1m7 0h1m2 0h1m-20 1h1m1 0h1m2 0h1m8 0h1m4 0h1m-31 1h1m14 0h1m6 0h1m2 0h1m-16 1h1m4 0h1m5 0h1m3 0h1m9 0h1m-26 1h1m3 0h1m5 0h1m5 0h1m0 0h1m0 0h1m-14 1h1m2 0h1m0 0h1m5 0h1m-21 1h1m8 0h1m5 0h1m1 0h1m5 0h1m6 0h1m-18 1h1m6 0h1m1 0h1m-20 1h1m10 0h1m0 0h1m0 0h1m3 0h1m3 0h1m8 0h1m-37 1h1m11 0h1m7 0h1m5 0h1m6 0h1m-23 1h1m5 0h1m2 0h1m1 0h1m6 0h1m6 0h1m-30 1h1m2 0h1m5 0h1m5 0h1m0 0h1m9 0h1m-29 1h1m7 0h1m0 0h1m5 0h1m13 0h1m9 0h1m-35 1h1m8 0h1m9 0h1m-4 1h1m6 0h1m0 0h1m-17 1h1m1 0h1m1 0h1m5 0h1m0 0h1m4 0h1m-32 1h1m13 0h1m3 0h1m4 0h1m-18 1h1m0 0h1m1 0h1m1 0h1m3 0h1m0 0h1m11 0h1m-23 1h1m0 0h1m10 1h1m3 0h1m0 0h1m3 0h1m1 0h1m-33 1h1m3 0h1m6 0h1m0 0h1m4 0h1m11 0h1m-32 1h1m8 0h1m9 0h1m1 0h1m4 0h1m1 0h1m2 0h1m1 0h1m-14 1h1m-15 1h1m11 0h1m3 0h1m-20 1h1m12 0h1m4 0h1m-5 1h1m4 0h1m-9 1h1m1 0h1m4 0h1m8 0h1m11 0h1m-20 1h1m0 0h1m-1 1h1m-20 1h1m4 0h1m0 0h1m-16 2h1m19 0h1m-1 1h1m-3 1h1m4 0h1m8 0h1m-22 2h1m14 0h1m3 1h1m-14 1h1m2 0h1m9 0h1m-22 1h1m13 0h1m1 2h1" stroke="#2838ff" stroke-opacity="0.45" stroke-width="1"/>
<path d="M262 238.5h1m-10 8h1m-12 1h1m23 0h1m-12 1h1m6 0h1m-2 1h1m1 0h1m-16 1h1m15 0h1m-14 1h1m14 0h1m-10 1h1m-20 1h1m6 1h1m6 0h1m0 0h1m4 0h1m-17 1h1m6 0h1m0 0h1m2 0h1m2 0h1m1 0h1m13 0h1m-21 1h1m3 0h1m3 0h1m3 0h1m2 0h1m-9 1h1m-14 1h1m10 0h1m1 0h1m16 0h1m-25 1h1m5 0h1m4 0h1m-26 1h1m0 0h1m13 0h1m2 0h1m5 0h1m0 0h1m-11 1h1m2 0h1m0 0h1m14 0h1m-21 1h1m2 0h1m4 0h1m2 0h1m5 0h1m-21 1h1m0 0h1m1 0h1m3 0h1m-15 1h1m4 0h1m13 0h1m3 0h1m-26 1h1m7 0h1m0 0h1m7 0h1m0 0h1m0 0h1m1 0h1m-12 1h1m0 0h1m5 0h1m2 0h1m-28 1h1m8 0h1m7 0h1m1 0h1m0 0h1m2 0h1m0 0h1m3 0h1m1 0h1m3 0h1m0 0h1m-31 1h1m6 0h1m6 0h1m2 0h1m1 0h1m7 0h1m-23 1h1m5 0h1m0 0h1m0 0h1m1 0h1m4 0h1m1 0h1m-23 1h1m7 0h1m3 0h1m7 0h1m5 0h1m-14 1h1m0 0h1m2 0h1m1 0h1m0 0h1m1 0h1m0 0h1m2 0h1m3 0h1m-23 1h1m3 0h1m1 0h1m1 0h1m-9 1h1m2 0h1m4 0h1m4 0h1m1 0h1m0 0h1m1 0h1m-20 1h1m2 0h1m2 0h1m2 0h1m0 0h1m1 0h1m0 0h1m-23 1h1m1 0h1m11 0h1m3 0h1m5 0h1m-22 1h1m0 0h1m5 0h1m1 0h1m3 0h1m3 0h1m0 0h1m0 0h1m3 0h1m7 0h1m-33 1h1m6 0h1m12 0h1m0 0h1m0 0h1m-21 1h1m2 0h1m1 0h1m2 0h1m10 0h1m8 0h1m2 0h1m-34 1h1m2 0h1m2 0h1m1 0h1m1 0h1m4 0h1m0 0h1m1 0h1m5 0h1m0 0h1m-30 1h1m7 0h1m6 0h1m2 0h1m1 0h1m8 0h1m14 0h1m-37 1h1m5 0h1m0 0h1m0 0h1m0 0h1m1 0h1m-5 1h1m3 0h1m4 0h1m0 0h1m-15 1h1m6 0h1m1 0h1m2 0h1m-4 1h1m0 0h1m3 0h1m4 0h1m-29 1h1m9 0h1m4 0h1m1 0h1m0 0h1m3 0h1m0 0h1m-16 1h1m11 0h1m-12 2h1m1 0h1m1 0h1m1 0h1m0 0h1m-8 1h1m0 0h1m0 0h1m2 0h1m0 0h1m4 0h1m1 0h1m-17 1h1m4 0h1m2 0h1m-14 1h1m9 0h1m2 0h1m4 0h1m-12 1h1m8 0h1m-8 1h1m6 0h1m7 0h1m2 0h1m-21 1h1m2 1h1m-3 1h1m1 0h1m3 0h1m-12 2h1m15 0h1m-5 2h1m-8 3h1m-10 1h1m19 1h1m2 0h1" stroke="#2838ff" stroke-opacity="0.5" stroke-width="1"/>
<path d="M269 250.5h1m-7 2h1m-4 1h1m4 0h1m0 0h1m-6 1h1m3 0h1m0 0h1m-1 1h1m4 0h1m-12 1h1m5 0h1m3 0h1m-2 1h1m-8 1h1m4 0h1m0 0h1m6 0h1m-14 1h1m0 0h1m0 0h1m-4 1h1m0 0h1m1 0h1m0 0h1m1 0h1m-5 1h1m4 0h1m1 0h1m-11 1h1m1 0h1m1 0h1m1 0h1m3 0h1m-7 1h1m0 0h1m0 0h1m1 0h1m-11 1h1m1 0h1m0 0h1m3 0h1m1 0h1m-9 1h1m0 0h1m2 0h1m1 0h1m-8 1h1m0 0h1m2 0h1m0 0h1m4 0h1m-10 1h1m7 0h1m0 0h1m0 0h1m-14 1h1m6 0h1m-1 1h1m0 0h1m-6 2h1m0 0h1m4 3h1m-2 7h1" stroke="#2838ff" stroke-opacity="0.5" stroke-width="1"/>
<path d="M256 235.5h1m5 1h1m22 1h1m-15 1h1m1 1h1m5 0h1m-11 1h1m-11 1h1m11 1h1m7 1h1m-11 2h1m2 0h1m14 0h1m-17 1h1m0 0h1m10 0h1m-14 2h1m1 0h1m10 0h1m-26 1h1m10 0h1m5 0h1m-11 1h1m18 0h1m-5 2h1m-14 1h1m6 0h1m7 0h1m-15 1h1m5 0h1m3 0h1m-5 1h1m-7 1h1m7 0h1m-12 1h1m3 0h1m2 0h1m1 0h1m0 0h1m-7 1h1m5 0h1m5 0h1m12 0h1m-40 1h1m11 0h1m3 0h1m16 0h1m-18 1h1m2 0h1m11 0h1m-23 1h1m3 0h1m6 0h1m0 0h1m5 1h1m-21 1h1m8 0h1m11 1h1m-6 1h1m-19 1h1m6 0h1m4 0h1m1 1h1m9 0h1m-17 1h1m3 0h1m3 0h1m1 0h1m-21 2h1m20 0h1m-10 1h1m1 1h1m3 1h1m5 0h1m3 1h1m-25 1h1m8 0h1m16 1h1m1 0h1m-25 2h1m14 0h1m-11 1h1m4 0h1m-19 1h1m23 1h1m4 4h1m-7 2h1m-32 4h1m30 1h1" stroke="#2838ff" stroke-opacity="0.4" stroke-width="1"/>
<path d="M287 246.5h1m2 11h1m-7 1h1m-11 1h1m8 0h1m6 0h1m-15 1h1m4 1h1m-3 1h1m11 0h1m-23 1h1m10 0h1m3 0h1m-6 1h1m5 0h1m-37 2h1m10 0h1m30 0h1m3 0h1m-26 1h1m13 0h1m1 0h1m0 0h1m-20 1h1m7 0h1m13 0h1m2 0h1m-25 1h1m0 0h1m7 0h1m3 0h1m13 0h1m-26 1h1m9 0h1m7 0h1m-22 1h1m7 0h1m4 0h1m9 0h1m1 0h1m0 0h1m-14 1h1m7 0h1m-15 1h1m6 0h1m2 0h1m3 0h1m7 0h1m-23 1h1m0 0h1m0 0h1m0 0h1m2 0h1m9 0h1m-16 1h1m6 0h1m0 0h1m0 0h1m-24 1h1m0 0h1m11 0h1m1 0h1m6 0h1m0 0h1m10 0h1m-18 1h1m4 0h1m2 0h1m-13 1h1m-1 1h1m21 0h1m-32 1h1m7 0h1m-15 1h1m7 0h1m17 0h1m-11 1h1m-7 1h1m0 1h1m8 0h1m2 0h1m12 0h1m-22 2h1m-3 3h1" stroke="#2838ff" stroke-opacity="0.35" stroke-width="1"/>
<path d="M257 268.5h1m-2 1h1m5 7h1m-9 1h1m6 1h1m-9 1h1m-5 1h1m0 1h1m4 0h1m3 0h1m0 0h1m-9 1h1m3 0h1m-9 3h1m13 0h1m-13 1h1m-3 2h1m11 0h1m-6 1h1m0 0h1m-4 1h1m0 0h1m0 0h1m-4 1h1m4 0h1m1 0h1m0 0h1m4 0h1m-11 1h1m2 0h1m0 0h1m6 0h1m-14 1h1m-8 1h1m3 0h1m0 0h1m1 1h1m-3 1h1m6 0h1m-5 1h1m7 0h1m0 0h1m-19 2h1m0 0h1m17 0h1m-11 1h1m1 0h1m7 0h1m-16 1h1m5 0h1m3 0h1m-7 1h1m-1 2h1m-2 1h1m-11 3h1m10 0h1m1 0h1m-8 1h1m4 0h1m7 1h1m-7 1h1m-7 1h1m6 0h1m1 0h1m-11 1h1" stroke="#2838ff" stroke-opacity="0.4" stroke-width="1"/>
<path d="M237 253.5h1m-8 2h1m7 0h1m-1 4h1m5 0h1m-4 1h1m7 3h1m-8 1h1m4 0h1m2 1h1m1 0h1m-16 1h1m10 0h1m3 0h1m-12 1h1m3 0h1m0 0h1m3 0h1m5 0h1m-22 1h1m1 0h1m10 0h1m-3 1h1m-8 1h1m0 0h1m15 0h1m1 0h1m-23 1h1m2 0h1m4 0h1m3 0h1m-15 1h1m3 0h1m3 0h1m2 0h1m0 0h1m0 0h1m2 0h1m3 0h1m0 0h1m-19 1h1m0 0h1m0 0h1m0 0h1m0 0h1m5 0h1m-9 1h1m1 0h1m0 0h1m0 0h1m0 0h1m3 0h1m-13 1h1m1 0h1m1 0h1m0 0h1m-10 1h1m5 0h1m0 0h1m1 0h1m1 0h1m9 0h1m-26 1h1m2 0h1m7 0h1m0 0h1m3 0h1m1 0h1m2 0h1m5 0h1m-26 1h1m14 0h1m6 0h1m1 0h1m-20 1h1m2 0h1m0 0h1m2 0h1m-7 1h1m4 0h1m1 0h1m0 0h1m2 0h1m4 0h1m-15 1h1m0 0h1m0 0h1m6 0h1m2 0h1m0 0h1m-25 1h1m4 0h1m4 0h1m0 0h1m14 0h1m-22 1h1m3 0h1m11 0h1m1 0h1m0 0h1m2 0h1m4 0h1m-20 1h1m3 0h1m3 0h1m-3 1h1m0 0h1m1 0h1m-16 2h1m4 0h1m8 1h1m-1 2h1m-8 2h1m4 0h1m-12 1h1m10 2h1m-16 4h1m24 0h1" stroke="#2838ff" stroke-opacity="0.4" stroke-width="1"/>
<g filter="url(#spk)"><path d="M255.5 299.4L251.5 300.0L248.5 299.4L245.5 297.7L243.2 295.2L241.0 291.2L239.8 287.2L239.2 282.2L239.3 277.2L240.1 272.2L242.1 265.2L244.9 259.2L248.0 254.2L251.5 250.3L254.5 248.0L257.5 246.5L261.5 246.1L264.5 247.1L266.5 248.6L268.6 251.2L270.1 254.2L271.1 258.2L271.6 262.2L271.3 270.2L269.1 280.2L266.9 286.2L265.0 290.2L263.1 293.2L260.5 296.1L258.5 297.8Z" fill-opacity="0.2" fill-rule="evenodd"/><path d="M253.5 298.2L250.5 298.2L247.5 297.1L245.1 295.2L242.9 292.2L241.3 288.2L240.5 284.2L240.2 279.2L240.7 274.2L242.1 268.2L244.0 263.2L246.0 259.2L249.3 254.2L252.5 250.9L255.5 248.7L258.5 247.6L261.5 247.6L264.5 248.8L266.1 250.2L267.7 252.2L269.2 255.2L270.2 259.2L270.7 263.2L270.1 272.2L267.8 281.2L265.8 286.2L263.6 290.2L261.4 293.2L258.5 296.0L255.5 297.7Z" fill-opacity="0.2" fill-rule="evenodd"/><path d="M253.5 296.4L250.5 296.3L248.5 295.6L246.4 294.2L244.0 291.2L242.7 288.2L241.7 284.2L241.3 279.2L241.8 274.2L242.9 269.2L244.2 265.2L246.0 261.2L249.1 256.2L251.7 253.2L254.5 250.7L257.5 249.3L260.5 249.0L262.5 249.5L265.0 251.2L266.7 253.2L268.2 256.2L269.1 259.2L269.6 263.2L269.2 271.2L267.0 280.2L265.0 285.2L262.8 289.2L260.5 292.2L258.5 294.1L255.5 295.8Z" fill-opacity="0.2" fill-rule="evenodd"/><path d="M253.5 294.4L250.5 294.3L248.5 293.4L246.5 291.8L244.7 289.2L243.5 286.2L242.7 282.2L242.9 274.2L245.0 266.2L247.3 261.2L249.7 257.2L252.5 253.9L255.5 251.4L257.5 250.5L260.5 250.4L262.5 251.2L264.5 252.8L267.2 257.2L268.0 260.2L268.5 264.2L268.0 272.2L265.9 280.2L264.2 284.2L261.9 288.2L259.5 291.1L257.5 292.8Z" fill-opacity="0.2" fill-rule="evenodd"/><path d="M253.5 292.3L251.5 292.2L248.9 291.2L246.8 289.2L245.6 287.2L244.5 284.2L244.0 281.2L244.1 274.2L244.9 270.2L246.6 265.2L249.1 260.2L251.0 257.2L253.5 254.3L255.5 252.7L257.5 251.8L259.5 251.6L261.5 252.2L263.5 253.8L266.1 258.2L267.3 264.2L267.0 271.2L265.0 279.2L262.1 285.2L258.5 289.7L255.5 291.7Z" fill-opacity="0.2" fill-rule="evenodd"/></g>
<g filter="url(#disp)">
<path d="M255.5 289.4L253.5 289.9L251.5 289.8L249.5 288.8L247.9 287.2L246.7 285.2L245.7 282.2L245.3 279.2L245.4 275.2L247.1 267.2L250.8 259.2L253.0 256.2L255.5 253.9L257.5 253.0L259.5 252.9L261.5 253.7L262.5 254.6L263.7 256.2L265.1 259.2L266.1 264.2L265.9 270.2L264.6 276.2L262.2 282.2L258.6 287.2Z" fill="#1626f5" fill-rule="evenodd"/>
<path d="M255.5 289.4L253.5 289.9L251.5 289.8L249.5 288.8L247.9 287.2L246.7 285.2L245.7 282.2L245.3 279.2L245.4 275.2L247.1 267.2L250.8 259.2L253.0 256.2L255.5 253.9L257.5 253.0L259.5 252.9L261.5 253.7L262.5 254.6L263.7 256.2L265.1 259.2L266.0 264.2L265.9 270.2L264.6 276.2L262.2 282.2L259.5 286.2L257.5 288.2Z" fill="#1b34f8" fill-rule="evenodd"/>
<path d="M255.5 285.3L252.5 285.5L250.5 284.2L249.7 283.2L248.2 279.2L247.9 273.2L249.0 267.2L251.9 260.2L253.5 257.8L255.5 255.9L258.5 254.8L259.9 255.2L261.3 256.2L263.1 259.2L264.2 264.2L264.1 269.2L263.1 274.2L261.2 279.2L258.5 283.1Z" fill="#1c38f9" fill-rule="evenodd"/>
<path d="M256.5 282.2L255.5 282.7L253.5 282.8L251.2 281.2L249.6 277.2L249.4 272.2L250.1 267.2L252.5 261.2L255.5 257.4L256.5 256.8L258.5 256.4L260.5 257.4L262.2 260.2L263.1 264.2L263.1 268.2L262.1 273.2L261.1 276.2L258.7 280.2Z" fill="#1e3efa" fill-rule="evenodd"/>
<path d="M256.5 280.5L254.5 281.1L253.5 280.8L251.8 279.2L250.6 276.2L250.3 271.2L251.2 266.2L253.4 261.2L255.5 258.6L257.5 257.7L258.5 257.7L260.5 259.1L261.6 261.2L262.2 264.2L262.2 268.2L261.2 273.2L260.0 276.2L258.5 278.7Z" fill="#277cfa" fill-rule="evenodd"/>
<path d="M255.5 279.5L253.5 279.2L251.9 277.2L251.0 273.2L251.2 269.2L252.2 265.2L254.2 261.2L256.5 259.1L258.5 258.9L260.1 260.2L261.1 262.2L261.6 265.2L261.4 269.2L260.8 272.2L259.1 276.2L257.5 278.3Z" fill="#5cd7c2" fill-rule="evenodd"/>
<path d="M255.5 278.3L254.5 278.3L253.5 277.7L252.5 276.2L251.7 273.2L251.8 269.2L252.5 266.2L253.7 263.2L255.5 260.8L257.5 259.9L258.5 260.1L259.5 260.8L260.3 262.2L261.0 265.2L261.0 268.2L260.2 272.2L258.9 275.2L257.5 277.1Z" fill="#7bda6c" fill-rule="evenodd"/>
<path d="M256.5 276.8L254.5 277.0L253.5 276.2L252.5 273.8L252.3 270.2L253.0 266.2L254.4 263.2L255.5 261.9L257.5 260.9L258.5 261.2L259.9 263.2L260.4 265.2L260.4 268.2L259.2 273.2L258.1 275.2Z" fill="#9edd4c" fill-rule="evenodd"/>
<path d="M256.5 275.7L255.5 276.0L254.5 275.8L253.5 274.6L252.9 272.2L252.8 270.2L253.3 267.2L254.5 264.2L255.5 262.9L256.5 262.1L257.5 262.0L258.5 262.4L259.5 264.1L259.9 268.2L258.5 273.2Z" fill="#c1e03b" fill-rule="evenodd"/>
<path d="M256.5 274.6L255.5 274.9L254.3 274.2L253.5 272.2L253.5 269.2L254.2 266.2L255.3 264.2L256.5 263.2L257.5 263.1L258.5 263.8L259.1 265.2L259.3 268.2L258.5 271.8L257.5 273.7Z" fill="#dfd82f" fill-rule="evenodd"/>
<path d="M256.5 273.4L255.5 273.6L254.5 272.7L254.1 269.2L254.5 267.1L255.5 265.2L256.5 264.3L257.5 264.3L258.6 266.2L258.6 269.2L257.6 272.2Z" fill="#f5bd29" fill-rule="evenodd"/>
<path d="M256.5 272.0L255.5 272.1L254.8 270.2L255.3 267.2L256.5 265.7L257.5 266.0L258.0 268.2L257.5 270.6Z" fill="#f17a20" fill-rule="evenodd"/>
</g>
</g>
<rect x="218.50" y="234.20" width="80.10" height="80.00" fill="none" stroke="#7a7a7a" stroke-width="1"/><path d="M218.50 234.20V314.20H298.60" fill="none" stroke="#444" stroke-width="1.1"/><path d="M216.7 245.6h1.8M216.7 257.1h1.8M216.7 268.5h1.8M216.7 279.9h1.8M216.7 291.3h1.8M216.7 302.8h1.8M229.9 314.2v1.8M241.4 314.2v1.8M252.8 314.2v1.8M264.3 314.2v1.8M275.7 314.2v1.8M287.2 314.2v1.8" stroke="#555" stroke-width="0.9" fill="none"/>
<rect x="266.2" y="244.6" width="13.6" height="26.2" fill="none" stroke="#b0b0b0" stroke-width="0.7"/>
<text x="260.30" y="283.50" font-size="13.6" textLength="25.4" lengthAdjust="spacingAndGlyphs" style="stroke:none">0.17</text>
<clipPath id="c7"><rect x="322.60" y="51.00" width="80.20" height="80.00"/></clipPath>
<g clip-path="url(#c7)">
<path d="M390 94.5h1m1 0h1m-27 3h1m11 0h1m-30 2h1m5 0h1m-17 1h1m1 0h1m26 1h1m28 0h1m-59 1h1m-4 1h1m23 0h1m6 0h1m11 0h1m4 0h1m-49 1h1m4 0h1m15 0h1m4 0h1m3 0h1m4 0h1m3 0h1m-20 1h1m2 0h1m8 0h1m0 0h1m3 0h1m2 0h1m5 0h1m-32 1h1m0 0h1m18 0h1m2 0h1m-31 1h1m9 0h1m3 0h1m2 0h1m1 0h1m2 0h1m-32 1h1m16 0h1m13 0h1m2 0h1m6 0h1m1 0h1m-39 1h1m6 0h1m3 0h1m3 0h1m1 0h1m2 0h1m1 0h1m1 0h1m21 0h1m-52 1h1m20 0h1m-22 1h1m5 0h1m3 0h1m6 0h1m0 0h1m2 0h1m0 0h1m1 0h1m30 0h1m-47 1h1m3 0h1m1 0h1m2 0h1m5 0h1m0 0h1m9 0h1m8 0h1m0 0h1m1 0h1m-32 1h1m7 0h1m5 0h1m0 0h1m14 0h1m-29 1h1m4 0h1m1 0h1m38 0h1m-44 1h1m1 0h1m11 0h1m27 0h1m-67 1h1m32 0h1m14 0h1m1 0h1m-34 1h1m16 0h1m-24 1h1m16 0h1m12 0h1m4 0h1m2 0h1m-12 1h1m0 0h1m2 0h1m16 0h1m-33 1h1m25 0h1m10 0h1m-60 1h1m20 0h1m7 0h1m32 0h1m-44 1h1m8 1h1m4 2h1" stroke="#2838ff" stroke-opacity="0.45" stroke-width="1"/>
<path d="M386 100.5h1m1 1h1m2 0h1m0 0h1m0 0h1m5 0h1m-9 1h1m-4 1h1m3 0h1m1 0h1m-8 1h1m2 0h1m1 0h1m0 0h1m1 0h1m2 0h1m-8 1h1m0 0h1m0 0h1m0 0h1m-8 1h1m0 0h1m0 0h1m0 0h1m0 0h1m0 0h1m0 0h1m1 0h1m-11 1h1m3 0h1m0 0h1m0 0h1m0 0h1m-6 1h1m0 0h1m0 0h1m0 0h1m0 0h1m-6 1h1m2 0h1m1 0h1m3 0h1m-7 1h1m2 0h1m-4 2h1m2 0h1m1 0h1m-8 1h1m7 1h1" stroke="#2838ff" stroke-opacity="0.6" stroke-width="1"/>
<path d="M386 95.5h1m-10 7h1m5 2h1m5 4h1m-14 1h1m10 0h1m-9 1h1m-8 1h1m12 0h1m-11 1h1m8 0h1m-10 2h1m7 1h1m-8 2h1m6 1h1m-7 2h1m-15 1h1m10 0h1m-7 1h1m-1 1h1m5 0h1m-4 1h1m-8 3h1m-4 1h1m-3 1h1m7 0h1m4 1h1" stroke="#2838ff" stroke-opacity="0.45" stroke-width="1"/>
<path d="M325 118.5h1m36 0h1m14 0h1m-39 1h1m11 0h1m-20 1h1m5 1h1m5 0h1m4 0h1m10 0h1m-29 1h1m4 0h1m2 0h1m8 0h1m6 0h1m10 0h1m-39 1h1m0 0h1m8 0h1m0 0h1m1 0h1m12 0h1m-15 1h1m6 0h1m0 0h1m-15 1h1m21 0h1m22 0h1m-41 1h1m1 0h1m13 0h1m16 0h1m-31 2h1" stroke="#2838ff" stroke-opacity="0.4" stroke-width="1"/>
<g filter="url(#spk)"><path d="M346.6 127.1L342.6 127.4L337.6 127.1L326.6 125.8L322.6 124.9L321.9 121.0L321.7 113.0L321.9 105.0L322.6 101.1L327.6 100.2L336.6 99.6L344.6 99.3L350.6 99.5L355.6 100.5L358.6 101.5L362.6 103.7L365.3 106.0L367.5 109.0L368.2 112.0L367.6 115.0L365.7 118.0L361.6 121.6L356.6 124.4L351.6 126.1Z" fill-opacity="0.2" fill-rule="evenodd"/><path d="M344.6 126.1L339.6 126.1L329.6 125.4L322.6 124.2L321.9 120.0L321.7 113.0L321.9 105.0L322.6 101.6L331.6 100.5L344.6 100.0L351.6 100.3L358.6 102.2L361.6 103.8L364.3 106.0L366.5 109.0L367.2 112.0L366.5 115.0L364.4 118.0L360.6 121.0L355.6 123.6L349.6 125.4Z" fill-opacity="0.2" fill-rule="evenodd"/><path d="M349.6 124.2L344.6 124.9L339.6 124.9L328.6 124.5L322.6 123.5L322.0 120.0L321.7 113.0L321.9 106.0L322.6 102.2L328.6 101.3L349.6 100.7L354.6 101.4L357.6 102.4L362.2 105.0L364.3 107.0L365.9 110.0L366.1 113.0L364.8 116.0L362.6 118.5L359.6 120.6L355.6 122.5Z" fill-opacity="0.2" fill-rule="evenodd"/><path d="M349.6 123.1L343.6 123.8L330.6 123.8L326.6 123.6L322.6 122.8L321.9 119.0L321.8 113.0L322.0 106.0L322.6 102.9L328.6 102.0L349.6 101.2L352.6 101.5L356.6 102.6L361.2 105.0L363.3 107.0L365.0 110.0L365.1 113.0L364.4 115.0L361.8 118.0L358.6 120.2L354.6 121.9Z" fill-opacity="0.2" fill-rule="evenodd"/><path d="M349.6 122.1L343.6 122.7L329.6 123.0L325.6 122.7L322.6 122.0L322.0 119.0L321.8 113.0L322.0 107.0L322.6 103.5L328.6 102.6L349.6 101.8L354.6 102.5L357.6 103.6L360.1 105.0L362.4 107.0L364.1 110.0L364.2 113.0L363.4 115.0L361.6 117.1L358.6 119.3L353.6 121.3Z" fill-opacity="0.2" fill-rule="evenodd"/></g>
<g filter="url(#disp)">
<path d="M332.6 122.1L327.6 122.2L322.6 121.3L322.0 118.0L321.8 113.0L322.0 108.0L322.6 104.2L327.6 103.3L338.6 103.1L347.6 102.3L351.6 102.5L355.6 103.4L358.6 104.7L361.5 107.0L362.8 109.0L363.4 112.0L362.4 115.0L359.6 117.8L356.6 119.5L353.6 120.5L348.6 121.4Z" fill="#1626f5" fill-rule="evenodd"/>
<path d="M332.6 122.1L326.6 122.1L322.6 121.3L322.1 113.0L322.6 104.2L328.6 103.3L337.6 103.2L347.6 102.4L351.6 102.5L355.6 103.4L358.6 104.7L361.5 107.0L362.8 109.0L363.4 112.0L362.3 115.0L359.6 117.8L356.6 119.4L352.6 120.7L348.6 121.4Z" fill="#1d3af9" fill-rule="evenodd"/>
<path d="M330.6 121.0L326.6 121.0L322.6 120.2L322.2 113.0L322.6 105.2L327.6 104.3L337.6 104.2L346.6 103.2L351.6 103.3L355.6 104.2L358.6 105.7L361.0 108.0L362.0 110.0L362.0 113.0L361.0 115.0L358.6 117.2L354.6 119.1L348.6 120.3Z" fill="#1f45fa" fill-rule="evenodd"/>
<path d="M330.6 120.0L326.6 120.1L322.6 119.2L322.3 113.0L322.6 106.2L327.6 105.2L337.6 105.1L346.6 103.9L350.6 103.8L354.6 104.6L357.6 106.0L359.9 108.0L360.9 110.0L360.9 113.0L359.7 115.0L357.6 116.8L354.6 118.3L348.6 119.4L338.6 119.4Z" fill="#256efa" fill-rule="evenodd"/>
<path d="M330.6 119.1L326.6 119.1L322.6 118.1L322.6 107.2L327.6 106.0L337.6 106.1L346.6 104.6L350.6 104.5L353.6 105.0L356.6 106.2L358.8 108.0L359.9 110.0L359.8 113.0L358.6 114.9L356.6 116.5L353.6 117.8L348.6 118.6L338.6 118.3Z" fill="#3ca5e6" fill-rule="evenodd"/>
<path d="M330.6 118.1L326.6 118.2L322.6 117.0L322.6 108.3L326.6 107.1L337.6 107.0L346.6 105.3L350.6 105.1L353.6 105.6L355.6 106.4L357.7 108.0L359.0 110.0L359.1 112.0L358.3 114.0L356.0 116.0L352.6 117.3L347.6 117.9L337.6 117.3Z" fill="#5fd7b9" fill-rule="evenodd"/>
<path d="M350.6 117.0L346.6 117.1L337.6 116.2L329.6 117.2L325.6 117.0L322.6 115.6L322.6 109.6L324.6 108.5L326.7 108.0L336.6 108.1L347.6 105.8L352.6 106.0L354.6 106.7L356.7 108.0L358.1 110.0L358.2 112.0L357.2 114.0L355.6 115.4L353.6 116.3Z" fill="#73d97d" fill-rule="evenodd"/>
<path d="M351.6 116.2L346.6 116.4L337.6 114.9L329.6 116.0L326.6 116.0L323.6 114.7L322.6 113.1L322.6 112.0L324.3 110.0L326.6 109.1L329.6 108.9L337.6 109.3L346.6 106.5L351.6 106.4L353.6 107.0L355.5 108.0L356.6 109.1L357.4 111.0L356.9 113.0L356.1 114.0L354.6 115.1Z" fill="#8adc5e" fill-rule="evenodd"/>
<path d="M352.6 115.2L349.6 115.8L345.6 115.4L341.1 114.0L338.9 113.0L337.8 112.0L340.4 110.0L344.6 107.8L348.6 106.9L351.6 107.0L354.6 108.3L355.6 109.2L356.4 111.0L355.6 113.3ZM331.6 114.1L328.6 114.6L326.6 114.4L325.7 114.0L324.9 113.0L324.9 112.0L325.9 111.0L328.6 110.4L332.9 111.0L335.1 112.0L334.3 113.0Z" fill="#a1de49" fill-rule="evenodd"/>
<path d="M349.6 115.1L346.6 114.8L344.1 114.0L342.5 113.0L341.8 112.0L342.0 111.0L344.2 109.0L347.6 107.7L351.6 107.7L354.3 109.0L355.4 111.0L354.7 113.0L352.6 114.4Z" fill="#b9e03e" fill-rule="evenodd"/>
<path d="M350.6 114.2L347.6 114.2L345.6 113.5L344.0 112.0L344.0 111.0L345.6 109.4L347.6 108.5L350.6 108.3L352.6 108.9L353.9 110.0L354.3 111.0L354.1 112.0L352.6 113.5Z" fill="#d0e135" fill-rule="evenodd"/>
<path d="M350.6 113.2L347.4 113.0L346.1 112.0L346.0 111.0L346.8 110.0L348.6 109.3L351.6 109.6L352.9 111.0L352.7 112.0Z" fill="#e1d62f" fill-rule="evenodd"/>
</g>
</g>
<rect x="322.60" y="51.00" width="80.20" height="80.00" fill="none" stroke="#7a7a7a" stroke-width="1"/><path d="M322.60 51.00V131.00H402.80" fill="none" stroke="#444" stroke-width="1.1"/><path d="M320.8 62.4h1.8M320.8 73.9h1.8M320.8 85.3h1.8M320.8 96.7h1.8M320.8 108.1h1.8M320.8 119.6h1.8M334.1 131.0v1.8M345.5 131.0v1.8M357.0 131.0v1.8M368.4 131.0v1.8M379.9 131.0v1.8M391.3 131.0v1.8" stroke="#555" stroke-width="0.9" fill="none"/>
<path d="M380.8 53.4L400.8 52.6L402.2 59.0L400.8 79.0L382.0 79.8L380.2 68.0Z" fill="none" stroke="#8a8a8a" stroke-width="0.9"/>
<text x="347.20" y="68.20" font-size="13.6" textLength="25.4" lengthAdjust="spacingAndGlyphs" style="stroke:none">0.00</text>
<clipPath id="c8"><rect x="323.20" y="142.30" width="80.50" height="80.20"/></clipPath>
<g clip-path="url(#c8)">
<path d="M358 186.5h1m-12 1h1m7 0h1m1 0h1m5 1h1m18 0h1m-32 1h1m5 0h1m35 0h1m-43 1h1m4 0h1m12 0h1m-34 1h1m20 0h1m-19 1h1m9 0h1m15 0h1m-41 1h1m38 0h1m16 0h1m-3 1h1m11 0h1m-29 1h1m-17 1h1m1 0h1m15 0h1m-11 1h1m21 0h1m2 0h1m11 0h1m-50 1h1m2 0h1m2 0h1m1 0h1m2 0h1m3 0h1m8 0h1m9 0h1m-21 1h1m8 0h1m0 0h1m-23 1h1m19 0h1m2 0h1m9 0h1m21 0h1m-57 1h1m9 0h1m19 0h1m-52 1h1m60 0h1m6 0h1m-43 1h1m8 0h1m3 0h1m1 0h1m0 0h1m12 0h1m5 0h1m-56 1h1m33 0h1m3 0h1m-20 1h1m6 0h1m2 0h1m0 0h1m16 0h1m4 0h1m8 0h1m-49 1h1m4 0h1m23 0h1m2 0h1m-17 1h1m1 0h1m13 0h1m23 0h1m-68 1h1m10 0h1m1 0h1m12 0h1m20 0h1m-54 1h1m6 0h1m3 0h1m17 0h1m14 0h1m5 0h1m4 0h1m-39 1h1m22 0h1m16 0h1m-45 1h1m14 0h1m1 0h1m9 0h1m0 0h1m21 0h1m-14 1h1m-19 1h1m10 1h1m15 0h1m-33 1h1m18 0h1m2 1h1m-20 1h1m6 0h1m-22 1h1m37 0h1m-31 1h1m-9 1h1m19 1h1" stroke="#2838ff" stroke-opacity="0.45" stroke-width="1"/>
<path d="M384 147.5h1m12 1h1m-13 2h1m4 0h1m2 1h1m-9 1h1m1 0h1m1 0h1m2 0h1m2 0h1m-12 1h1m1 0h1m2 0h1m0 0h1m6 0h1m-13 1h1m0 0h1m3 0h1m1 0h1m0 0h1m0 0h1m2 0h1m-13 1h1m1 0h1m0 0h1m0 0h1m0 0h1m0 0h1m0 0h1m1 0h1m-14 1h1m5 0h1m0 0h1m0 0h1m0 0h1m4 0h1m-10 1h1m2 0h1m0 0h1m0 0h1m0 0h1m0 0h1m3 0h1m-13 1h1m1 0h1m0 0h1m6 0h1m0 0h1m-15 1h1m1 0h1m2 0h1m0 0h1m0 0h1m0 0h1m0 0h1m2 0h1m-13 1h1m1 0h1m3 0h1m0 0h1m2 0h1m0 0h1m0 0h1m-13 1h1m5 0h1m1 0h1m3 0h1m5 0h1m-13 1h1m0 0h1m0 0h1m0 0h1m0 0h1m-3 1h1m0 0h1m-3 1h1m5 1h1m-8 1h1" stroke="#2838ff" stroke-opacity="0.6" stroke-width="1"/>
<path d="M397 155.5h1m-8 5h1m6 1h1m-7 1h1m4 1h1m-18 3h1m2 0h1m2 2h1m3 0h1m-4 2h1m5 0h1m-7 1h1m-1 1h1m-12 2h1m5 0h1m3 0h1m8 0h1m-18 1h1m11 0h1m0 1h1m-10 1h1m2 0h1m-2 1h1m-10 1h1m0 0h1m12 0h1m-17 1h1m1 0h1m0 0h1m11 0h1m-14 1h1m4 0h1m6 0h1m-19 1h1m7 0h1m-3 1h1m7 0h1m0 0h1m-4 1h1m0 0h1m1 0h1m1 1h1m1 0h1m-15 1h1m0 0h1m8 0h1m-18 1h1m22 0h1m-18 1h1m-3 1h1m3 0h1m1 0h1m-11 1h1m7 0h1m-12 1h1m9 0h1m8 0h1m-12 1h1m1 0h1m4 0h1m-6 1h1m2 0h1m-16 1h1m7 0h1m1 0h1m2 0h1m-6 1h1m2 0h1m1 0h1m-5 1h1m2 0h1m0 0h1m2 1h1m-16 1h1m15 0h1m-7 2h1m0 0h1m-9 1h1m4 0h1m3 1h1m-16 3h1m16 0h1m-17 2h1m5 7h1" stroke="#2838ff" stroke-opacity="0.45" stroke-width="1"/>
<path d="M346 209.5h1m-13 1h1m4 1h1m6 0h1m14 0h1m11 0h1m-40 1h1m10 0h1m-11 1h1m26 0h1m1 0h1m-40 1h1m7 0h1m9 0h1m19 0h1m0 0h1m1 0h1m-35 1h1m15 0h1m1 0h1m15 0h1m-43 1h1m20 0h1m7 0h1m-7 1h1m10 0h1m22 0h1m1 0h1m-50 1h1m4 0h1m0 0h1m10 0h1m-14 1h1m12 0h1m2 1h1" stroke="#2838ff" stroke-opacity="0.4" stroke-width="1"/>
<g filter="url(#spk)"><path d="M346.2 219.4L338.2 219.5L329.2 218.5L323.2 217.4L322.5 213.3L322.3 205.3L322.4 197.3L323.2 193.1L328.2 192.4L340.2 191.7L351.2 192.0L355.2 192.8L360.2 194.8L363.2 196.7L365.8 199.3L367.5 202.3L367.8 205.3L366.8 208.3L364.4 211.3L361.2 213.9L356.2 216.7L351.2 218.4Z" fill-opacity="0.2" fill-rule="evenodd"/><path d="M344.2 218.4L331.2 217.9L323.2 216.8L322.5 212.3L322.3 205.3L322.5 197.3L323.2 193.7L329.2 192.9L340.2 192.4L351.2 192.6L356.2 193.7L359.2 194.9L362.2 196.8L364.8 199.3L366.5 202.3L366.7 205.3L365.6 208.3L363.2 211.1L359.2 214.0L355.2 215.9L349.2 217.7Z" fill-opacity="0.2" fill-rule="evenodd"/><path d="M349.2 216.5L345.2 217.1L340.2 217.3L328.2 216.8L323.2 216.0L322.5 212.3L322.3 205.3L322.5 198.3L323.2 194.3L329.2 193.6L349.2 193.0L354.2 193.7L357.2 194.7L362.2 197.6L364.6 200.3L365.7 203.3L365.7 205.3L364.4 208.3L362.2 210.8L359.2 212.9L355.2 214.8Z" fill-opacity="0.2" fill-rule="evenodd"/><path d="M349.2 215.4L340.2 216.1L328.2 216.0L323.2 215.3L322.5 211.3L322.3 205.3L322.6 198.3L323.2 194.9L329.2 194.2L350.2 193.6L356.2 194.9L361.2 197.6L363.7 200.3L364.8 203.3L364.7 205.3L363.3 208.3L361.2 210.5L357.2 213.0L353.2 214.5Z" fill-opacity="0.2" fill-rule="evenodd"/><path d="M349.2 214.4L343.2 215.0L330.2 215.3L323.2 214.6L322.6 211.3L322.4 205.3L322.5 199.3L323.2 195.5L328.2 194.9L349.2 194.1L355.2 195.1L360.2 197.6L362.8 200.3L363.7 202.3L363.8 205.3L363.0 207.3L361.2 209.4L358.2 211.6L353.2 213.6Z" fill-opacity="0.2" fill-rule="evenodd"/></g>
<g filter="url(#disp)">
<path d="M332.2 214.4L327.2 214.5L323.2 213.9L322.6 210.3L322.4 205.3L322.6 199.3L323.2 196.2L328.2 195.6L338.2 195.4L347.2 194.6L351.2 194.8L355.2 195.7L358.2 197.0L361.1 199.3L362.4 201.3L363.0 204.3L362.0 207.3L359.2 210.1L356.2 211.8L353.2 212.8L348.2 213.7Z" fill="#1626f5" fill-rule="evenodd"/>
<path d="M332.2 214.4L327.2 214.5L323.2 213.9L322.7 205.3L323.2 196.2L328.2 195.6L337.2 195.5L347.2 194.7L351.2 194.8L355.2 195.7L358.2 197.0L361.1 199.3L362.4 201.3L363.0 204.3L361.9 207.3L359.2 210.1L356.2 211.7L352.2 213.0L348.2 213.7Z" fill="#1e3bfa" fill-rule="evenodd"/>
<path d="M330.2 213.3L326.2 213.3L323.2 212.8L322.8 205.3L323.2 197.2L327.2 196.6L337.2 196.5L346.2 195.5L351.2 195.6L355.2 196.5L358.2 198.0L360.6 200.3L361.6 202.3L361.6 205.3L360.6 207.3L358.2 209.5L354.2 211.4L348.2 212.6Z" fill="#235cfa" fill-rule="evenodd"/>
<path d="M330.2 212.3L326.2 212.4L323.2 211.8L322.9 205.3L323.2 198.1L327.2 197.5L337.2 197.4L346.2 196.2L351.2 196.3L354.2 196.9L357.2 198.3L359.5 200.3L360.5 202.3L360.5 205.3L359.3 207.3L357.2 209.1L354.2 210.6L348.2 211.7L338.2 211.7Z" fill="#2e8cf4" fill-rule="evenodd"/>
<path d="M330.2 211.4L326.2 211.4L323.2 210.8L322.9 205.3L323.2 199.1L328.2 198.3L337.2 198.4L346.2 196.9L350.2 196.8L353.2 197.3L356.2 198.5L358.4 200.3L359.5 202.3L359.4 205.3L358.2 207.2L356.2 208.8L353.2 210.1L348.2 210.9L338.2 210.6Z" fill="#58d4ca" fill-rule="evenodd"/>
<path d="M330.2 210.4L326.2 210.5L323.2 209.8L323.2 200.1L327.2 199.2L337.2 199.3L346.2 197.6L350.2 197.4L353.2 197.9L355.2 198.7L357.3 200.3L358.6 202.3L358.7 204.3L357.9 206.3L355.6 208.3L352.2 209.6L347.2 210.2L337.2 209.6Z" fill="#6fd98a" fill-rule="evenodd"/>
<path d="M350.2 209.3L346.2 209.4L338.2 208.5L328.2 209.5L324.2 209.0L323.2 208.6L323.2 201.2L327.2 200.2L337.2 200.4L347.2 198.1L350.2 198.0L353.2 198.6L355.2 199.5L357.1 201.3L357.7 202.3L357.8 204.3L356.8 206.3L355.2 207.7L353.2 208.6Z" fill="#86db61" fill-rule="evenodd"/>
<path d="M351.2 208.5L346.2 208.7L337.2 207.2L329.2 208.3L326.2 208.3L323.2 207.0L323.2 202.8L325.2 201.7L327.1 201.3L337.2 201.6L346.2 198.8L351.2 198.7L353.2 199.3L355.1 200.3L356.2 201.4L357.0 203.3L356.5 205.3L355.7 206.3L354.2 207.4Z" fill="#9fdd4b" fill-rule="evenodd"/>
<path d="M352.2 207.5L349.2 208.1L345.2 207.7L340.7 206.3L338.5 205.3L337.4 204.3L340.0 202.3L344.2 200.1L348.2 199.2L351.2 199.3L354.2 200.6L355.2 201.5L356.0 203.3L355.2 205.6ZM331.2 206.4L328.2 206.9L326.2 206.7L325.3 206.3L324.5 205.3L324.5 204.3L325.5 203.3L328.2 202.7L332.5 203.3L334.7 204.3L333.9 205.3Z" fill="#b8e03e" fill-rule="evenodd"/>
<path d="M349.2 207.4L346.2 207.1L343.7 206.3L342.1 205.3L341.4 204.3L341.6 203.3L343.8 201.3L347.2 200.0L351.2 200.0L353.9 201.3L355.0 203.3L354.3 205.3L352.2 206.7Z" fill="#d2e234" fill-rule="evenodd"/>
<path d="M350.2 206.5L347.2 206.5L345.2 205.8L343.6 204.3L343.6 203.3L345.2 201.7L347.2 200.8L350.2 200.6L352.2 201.2L353.5 202.3L353.9 203.3L353.7 204.3L352.2 205.8Z" fill="#e3d32e" fill-rule="evenodd"/>
<path d="M350.2 205.5L347.0 205.3L345.7 204.3L345.6 203.3L346.4 202.3L348.2 201.6L351.2 201.9L352.5 203.3L352.3 204.3Z" fill="#f2c12a" fill-rule="evenodd"/>
</g>
</g>
<rect x="323.20" y="142.30" width="80.50" height="80.20" fill="none" stroke="#7a7a7a" stroke-width="1"/><path d="M323.20 142.30V222.50H403.70" fill="none" stroke="#444" stroke-width="1.1"/><path d="M321.4 153.8h1.8M321.4 165.2h1.8M321.4 176.7h1.8M321.4 188.1h1.8M321.4 199.6h1.8M321.4 211.0h1.8M334.7 222.5v1.8M346.2 222.5v1.8M357.7 222.5v1.8M369.2 222.5v1.8M380.7 222.5v1.8M392.2 222.5v1.8" stroke="#555" stroke-width="0.9" fill="none"/>
<path d="M381.4 144.7L401.4 143.9L402.8 150.3L401.4 170.3L382.6 171.1L380.8 159.3Z" fill="none" stroke="#8a8a8a" stroke-width="0.9"/>
<text x="347.20" y="160.50" font-size="13.6" textLength="25.4" lengthAdjust="spacingAndGlyphs" style="stroke:none">0.57</text>
<clipPath id="c9"><rect x="324.00" y="234.20" width="80.00" height="80.10"/></clipPath>
<g clip-path="url(#c9)">
<path d="M353 279.5h1m21 0h1m-23 1h1m7 1h1m0 1h1m-24 1h1m17 0h1m11 0h1m-27 1h1m23 0h1m-14 1h1m-1 1h1m2 0h1m13 0h1m7 0h1m10 0h1m-44 1h1m5 0h1m40 0h1m-48 1h1m1 0h1m0 0h1m2 0h1m0 0h1m15 0h1m-46 1h1m22 0h1m3 0h1m7 0h1m0 0h1m-12 1h1m6 0h1m1 0h1m8 0h1m10 0h1m-29 1h1m15 0h1m-36 1h1m9 0h1m8 0h1m6 0h1m1 0h1m7 0h1m6 0h1m7 0h1m-37 1h1m10 0h1m1 0h1m2 0h1m8 0h1m12 0h1m-55 1h1m14 0h1m19 0h1m4 0h1m21 0h1m-54 1h1m21 0h1m3 0h1m6 0h1m2 0h1m1 0h1m2 0h1m2 0h1m-40 1h1m1 0h1m14 0h1m4 0h1m6 0h1m5 0h1m3 0h1m-51 1h1m6 0h1m15 0h1m-3 1h1m0 0h1m4 0h1m5 0h1m1 0h1m1 0h1m1 0h1m8 0h1m2 0h1m14 0h1m-56 1h1m2 0h1m7 0h1m17 0h1m1 0h1m7 0h1m-27 1h1m15 0h1m1 0h1m-33 1h1m15 0h1m4 0h1m0 0h1m0 0h1m0 0h1m0 0h1m-18 1h1m38 0h1m-29 1h1m1 0h1m-5 1h1m-4 1h1m8 0h1m-42 1h1m38 0h1m18 0h1m-17 1h1m-32 1h1m11 3h1" stroke="#2838ff" stroke-opacity="0.45" stroke-width="1"/>
<path d="M389 238.5h1m6 0h1m-8 1h1m3 0h1m0 0h1m-3 1h1m1 0h1m1 0h1m-6 1h1m0 0h1m-3 1h1m1 0h1m0 0h1m-8 1h1m2 0h1m5 0h1m-6 1h1m2 0h1m-6 1h1m2 0h1m0 0h1m1 0h1m0 0h1m-6 1h1m0 0h1m0 0h1m0 0h1m0 0h1m2 0h1m-16 1h1m4 0h1m1 0h1m0 0h1m0 0h1m0 0h1m0 0h1m0 0h1m-13 1h1m5 0h1m1 0h1m0 0h1m0 0h1m2 0h1m-7 1h1m1 0h1m0 0h1m0 0h1m1 0h1m-12 1h1m4 0h1m1 0h1m0 0h1m-3 1h1m3 0h1m4 0h1m-6 1h1m2 0h1m-5 1h1m0 0h1m-8 1h1m1 0h1m0 0h1m3 0h1m-3 1h1m-2 1h1m3 0h1m1 0h1m-4 1h1" stroke="#2838ff" stroke-opacity="0.6" stroke-width="1"/>
<path d="M402 244.5h1m-13 6h1m-15 8h1m5 0h1m2 0h1m5 3h1m-12 1h1m5 0h1m0 0h1m-10 1h1m6 0h1m6 0h1m-15 1h1m5 0h1m-7 1h1m0 0h1m6 0h1m-3 1h1m-11 2h1m10 0h1m-16 1h1m0 0h1m11 0h1m6 0h1m-6 1h1m-8 1h1m1 0h1m0 0h1m2 0h1m2 1h1m-22 1h1m0 1h1m10 0h1m8 0h1m-21 1h1m14 0h1m2 1h1m-9 1h1m-10 1h1m3 1h1m-5 1h1m9 0h1m0 0h1m3 0h1m-15 1h1m0 1h1m0 0h1m1 1h1m-4 1h1m0 0h1m-4 1h1m7 1h1m-10 1h1m5 0h1m-14 2h1m11 0h1m7 0h1m3 1h1m-22 1h1m-1 1h1m4 1h1m-8 2h1m1 0h1m-4 2h1m-3 4h1m5 1h1" stroke="#2838ff" stroke-opacity="0.45" stroke-width="1"/>
<path d="M347 301.5h1m7 0h1m-25 1h1m24 0h1m-32 1h1m12 0h1m2 0h1m-1 1h1m1 0h1m0 0h1m1 0h1m7 0h1m1 0h1m11 0h1m-42 1h1m0 0h1m13 0h1m2 0h1m8 0h1m8 0h1m-31 1h1m9 0h1m2 0h1m2 0h1m0 0h1m0 0h1m-21 1h1m17 0h1m-20 1h1m9 0h1m6 0h1m17 0h1m-24 1h1m11 0h1m-28 2h1" stroke="#2838ff" stroke-opacity="0.4" stroke-width="1"/>
<g filter="url(#spk)"><path d="M343.0 310.2L336.0 310.0L324.0 308.4L323.3 304.2L323.1 295.2L323.3 287.2L324.0 283.4L340.0 282.3L351.0 282.6L356.0 283.9L360.0 285.6L363.0 287.7L365.4 290.2L366.9 293.2L367.0 296.2L365.9 299.2L363.0 302.6L359.0 305.5L354.0 307.9L348.0 309.6Z" fill-opacity="0.2" fill-rule="evenodd"/><path d="M348.0 308.4L344.0 309.0L339.0 309.0L324.0 307.7L323.3 303.2L323.1 295.2L323.2 288.2L324.0 284.0L343.0 282.9L351.0 283.3L354.0 283.9L358.0 285.3L361.0 287.0L363.5 289.2L365.5 292.2L366.1 295.2L365.3 298.2L363.9 300.2L361.0 302.9L358.0 304.9L354.0 306.7Z" fill-opacity="0.2" fill-rule="evenodd"/><path d="M347.0 307.4L339.0 307.9L324.0 307.0L323.3 303.2L323.1 295.2L323.3 288.2L324.0 284.6L344.0 283.5L350.0 283.7L354.0 284.4L357.0 285.5L360.0 287.1L362.5 289.2L364.6 292.2L365.1 295.2L364.7 297.2L362.7 300.2L360.0 302.6L356.0 304.8L351.0 306.5Z" fill-opacity="0.2" fill-rule="evenodd"/><path d="M347.0 306.2L339.0 306.8L328.0 306.7L324.0 306.2L323.3 302.2L323.1 295.2L323.3 289.2L324.0 285.2L345.0 284.1L350.0 284.3L356.0 285.6L361.0 288.6L363.1 291.2L364.1 294.2L363.6 297.2L362.4 299.2L360.0 301.5L356.0 303.8L351.0 305.5Z" fill-opacity="0.2" fill-rule="evenodd"/><path d="M347.0 305.3L329.0 305.9L324.0 305.5L323.3 301.2L323.2 295.2L323.4 289.2L324.0 285.8L349.0 284.7L355.0 285.9L360.0 288.6L362.2 291.2L363.2 294.2L362.6 297.2L361.3 299.2L359.0 301.2L356.0 302.9L351.0 304.6Z" fill-opacity="0.2" fill-rule="evenodd"/></g>
<g filter="url(#disp)">
<path d="M348.0 304.2L329.0 305.1L324.0 304.8L323.4 301.2L323.2 295.2L323.4 290.2L324.0 286.5L349.0 285.3L355.0 286.5L359.0 288.6L361.4 291.2L362.2 293.2L362.3 295.2L361.0 298.2L359.0 300.3L356.0 302.1L352.0 303.5Z" fill="#1626f5" fill-rule="evenodd"/>
<path d="M348.0 304.2L329.0 305.1L324.0 304.8L323.5 295.2L324.0 286.5L349.0 285.3L354.0 286.1L358.4 288.2L360.6 290.2L362.2 293.2L362.1 296.2L361.0 298.2L359.0 300.3L356.0 302.1L352.0 303.5Z" fill="#1d3af9" fill-rule="evenodd"/>
<path d="M347.0 303.2L328.0 304.0L324.0 303.8L323.6 295.2L324.0 287.5L337.0 287.1L349.0 286.0L354.0 286.9L358.3 289.2L360.1 291.2L361.0 293.2L360.8 296.2L359.6 298.2L357.4 300.2L355.0 301.5L351.0 302.7Z" fill="#1f45fa" fill-rule="evenodd"/>
<path d="M348.0 302.2L337.0 302.3L328.0 303.0L324.0 302.8L323.6 295.2L324.0 288.4L328.0 288.0L337.0 288.0L345.0 286.9L349.0 286.7L353.0 287.3L357.0 289.2L359.0 291.2L359.9 293.2L360.0 295.2L359.1 297.2L357.2 299.2L355.0 300.6L352.0 301.6Z" fill="#256efa" fill-rule="evenodd"/>
<path d="M350.0 301.2L346.0 301.5L337.0 301.2L328.0 302.1L324.0 301.8L323.7 295.2L324.0 289.3L328.0 288.9L337.0 288.9L348.0 287.3L352.0 287.8L355.0 288.8L357.0 290.2L358.6 292.2L359.0 294.2L358.6 296.2L357.1 298.2L355.0 299.7Z" fill="#3ca5e6" fill-rule="evenodd"/>
<path d="M351.0 300.4L346.0 300.8L337.0 300.2L328.0 301.1L324.0 300.8L324.0 290.2L328.0 289.8L337.0 289.9L347.0 288.0L350.0 288.0L353.0 288.7L355.0 289.6L356.9 291.2L358.0 293.2L358.0 295.2L357.0 297.1L355.9 298.2L354.0 299.4Z" fill="#5fd7b9" fill-rule="evenodd"/>
<path d="M352.0 299.4L347.0 300.1L337.0 299.1L328.0 300.1L324.0 299.7L324.0 291.3L328.0 290.7L337.0 290.9L347.0 288.6L352.0 289.0L354.0 289.8L355.9 291.2L356.6 292.2L357.2 294.2L356.6 296.2L355.8 297.2L354.0 298.6Z" fill="#73d97d" fill-rule="evenodd"/>
<path d="M349.0 299.3L345.0 299.2L337.0 297.8L328.0 299.0L325.0 298.8L324.0 298.5L324.0 292.5L328.0 291.8L336.0 292.3L346.0 289.4L349.0 289.2L352.0 289.7L354.0 290.6L355.7 292.2L356.1 293.2L356.1 295.2L355.0 296.9L353.2 298.2Z" fill="#8adc5e" fill-rule="evenodd"/>
<path d="M351.0 298.3L348.0 298.7L344.0 298.2L340.7 297.2L336.7 295.2L337.2 294.2L338.7 293.2L344.0 290.6L348.0 289.8L351.0 290.1L354.0 291.6L355.2 293.2L355.3 294.2L355.1 295.2L354.0 296.7ZM329.0 297.4L327.0 297.5L325.0 297.1L324.0 296.3L324.0 294.7L326.0 293.5L328.0 293.2L332.7 294.2L334.1 295.2L332.7 296.2Z" fill="#a1de49" fill-rule="evenodd"/>
<path d="M351.0 297.5L348.0 298.0L344.0 297.3L341.7 296.2L340.8 295.2L340.7 294.2L342.6 292.2L345.0 291.0L348.0 290.4L351.0 290.8L353.5 292.2L354.3 294.2L353.4 296.2Z" fill="#b9e03e" fill-rule="evenodd"/>
<path d="M348.0 297.2L346.0 296.9L344.0 296.1L343.0 295.2L342.8 294.2L343.3 293.2L345.0 292.0L347.7 291.2L350.0 291.3L352.1 292.2L353.0 293.2L353.2 294.2L352.9 295.2L351.0 296.7Z" fill="#d0e135" fill-rule="evenodd"/>
<path d="M349.0 296.2L347.0 296.1L345.2 295.2L344.8 294.2L345.3 293.2L348.0 292.1L349.7 292.2L351.0 292.8L351.8 294.2L351.3 295.2Z" fill="#e1d62f" fill-rule="evenodd"/>
</g>
</g>
<rect x="324.00" y="234.20" width="80.00" height="80.10" fill="none" stroke="#7a7a7a" stroke-width="1"/><path d="M324.00 234.20V314.30H404.00" fill="none" stroke="#444" stroke-width="1.1"/><path d="M322.2 245.6h1.8M322.2 257.1h1.8M322.2 268.5h1.8M322.2 280.0h1.8M322.2 291.4h1.8M322.2 302.9h1.8M335.4 314.3v1.8M346.9 314.3v1.8M358.3 314.3v1.8M369.7 314.3v1.8M381.1 314.3v1.8M392.6 314.3v1.8" stroke="#555" stroke-width="0.9" fill="none"/>
<path d="M382.2 236.6L402.2 235.8L403.6 242.2L402.2 262.2L383.4 263.0L381.6 251.2Z" fill="none" stroke="#8a8a8a" stroke-width="0.9"/>
<text x="347.20" y="252.00" font-size="13.6" textLength="25.4" lengthAdjust="spacingAndGlyphs" style="stroke:none">0.20</text>
<rect x="427.00" y="51.00" width="80.30" height="80.00" fill="none" stroke="#7a7a7a" stroke-width="1"/><path d="M427.00 51.00V131.00H507.30" fill="none" stroke="#444" stroke-width="1.1"/><path d="M425.2 62.4h1.8M425.2 73.9h1.8M425.2 85.3h1.8M425.2 96.7h1.8M425.2 108.1h1.8M425.2 119.6h1.8M438.5 131.0v1.8M449.9 131.0v1.8M461.4 131.0v1.8M472.9 131.0v1.8M484.4 131.0v1.8M495.8 131.0v1.8" stroke="#555" stroke-width="0.9" fill="none"/>
<path d="M471.6 64.0L488.9 59.5L504.8 67.9L506.0 81.0L501.5 94.2L486.5 98.9L470.4 95.0L465.4 77.4Z" fill="none" stroke="#8a8a8a" stroke-width="0.9"/>
<text x="472.80" y="96.60" font-size="13.6" textLength="25.4" lengthAdjust="spacingAndGlyphs" style="stroke:none">0.00</text>
<clipPath id="c10"><rect x="427.30" y="143.20" width="79.80" height="80.00"/></clipPath>
<g clip-path="url(#c10)">
<path d="M486 145.5h1m-3 4h1m4 2h1m0 1h1m5 0h1m-6 2h1m15 0h1m-23 1h1m5 0h1m1 0h1m3 0h1m-11 1h1m2 0h1m0 0h1m1 0h1m2 0h1m-11 1h1m-9 1h1m4 0h1m0 0h1m3 0h1m2 0h1m12 0h1m1 0h1m-48 1h1m10 0h1m9 0h1m1 0h1m1 0h1m3 0h1m9 0h1m0 0h1m6 0h1m-31 1h1m0 0h1m6 0h1m4 0h1m3 0h1m-25 1h1m0 0h1m18 0h1m1 0h1m1 0h1m1 0h1m0 0h1m8 0h1m-30 1h1m1 0h1m0 0h1m0 0h1m1 0h1m1 0h1m0 0h1m0 0h1m5 0h1m1 0h1m0 0h1m0 0h1m0 0h1m0 0h1m0 0h1m1 0h1m0 0h1m-26 1h1m4 0h1m0 0h1m5 0h1m0 0h1m2 0h1m0 0h1m2 0h1m-32 1h1m13 0h1m0 0h1m2 0h1m0 0h1m1 0h1m0 0h1m0 0h1m3 0h1m2 0h1m0 0h1m0 0h1m1 0h1m1 0h1m-31 1h1m2 0h1m0 0h1m1 0h1m4 0h1m1 0h1m0 0h1m0 0h1m1 0h1m2 0h1m1 0h1m0 0h1m0 0h1m2 0h1m1 0h1m3 0h1m-39 1h1m2 0h1m5 0h1m0 0h1m0 0h1m0 0h1m0 0h1m1 0h1m0 0h1m0 0h1m0 0h1m1 0h1m0 0h1m1 0h1m0 0h1m0 0h1m0 0h1m0 0h1m1 0h1m1 0h1m0 0h1m2 0h1m1 0h1m0 0h1m-28 1h1m0 0h1m1 0h1m0 0h1m0 0h1m0 0h1m1 0h1m0 0h1m0 0h1m0 0h1m0 0h1m0 0h1m1 0h1m2 0h1m0 0h1m0 0h1m-36 1h1m3 0h1m10 0h1m1 0h1m0 0h1m0 0h1m0 0h1m0 0h1m0 0h1m1 0h1m0 0h1m0 0h1m0 0h1m0 0h1m2 0h1m0 0h1m0 0h1m2 0h1m0 0h1m1 0h1m-43 1h1m15 0h1m0 0h1m0 0h1m0 0h1m0 0h1m0 0h1m2 0h1m0 0h1m0 0h1m0 0h1m0 0h1m0 0h1m0 0h1m0 0h1m2 0h1m2 0h1m-23 1h1m3 0h1m0 0h1m2 0h1m0 0h1m2 0h1m1 0h1m0 0h1m0 0h1m1 0h1m0 0h1m2 0h1m5 0h1m-39 1h1m11 0h1m3 0h1m0 0h1m3 0h1m0 0h1m0 0h1m0 0h1m0 0h1m0 0h1m0 0h1m0 0h1m0 0h1m0 0h1m-22 1h1m0 0h1m3 0h1m0 0h1m2 0h1m0 0h1m0 0h1m0 0h1m1 0h1m3 0h1m0 0h1m2 0h1m0 0h1m1 0h1m1 0h1m0 0h1m-26 1h1m0 0h1m0 0h1m0 0h1m0 0h1m1 0h1m0 0h1m1 0h1m0 0h1m1 0h1m0 0h1m3 0h1m1 0h1m1 0h1m1 0h1m0 0h1m0 0h1m-34 1h1m10 0h1m4 0h1m2 0h1m0 0h1m0 0h1m1 0h1m0 0h1m4 0h1m0 0h1m0 0h1m3 0h1m0 0h1m0 0h1m-41 1h1m6 0h1m5 0h1m0 0h1m3 0h1m1 0h1m3 0h1m1 0h1m0 0h1m0 0h1m6 0h1m-24 1h1m3 0h1m0 0h1m1 0h1m2 0h1m1 0h1m0 0h1m2 0h1m1 0h1m-24 1h1m2 0h1m2 0h1m1 0h1m9 0h1m7 0h1m-26 1h1m14 0h1m2 0h1m0 0h1m-14 1h1m0 0h1m1 0h1m1 0h1m2 0h1m1 0h1m1 0h1m6 0h1m-24 1h1m9 0h1m0 0h1m2 0h1m4 0h1m6 1h1m-19 1h1m5 0h1m7 1h1" stroke="#2838ff" stroke-opacity="0.3" stroke-width="1"/>
<path d="M491 160.5h1m-6 2h1m4 0h1m4 0h1m-10 1h1m2 0h1m4 0h1m-16 1h1m4 0h1m2 0h1m0 0h1m2 0h1m9 0h1m-19 1h1m3 0h1m0 0h1m0 0h1m0 0h1m0 0h1m1 0h1m3 0h1m0 0h1m-17 1h1m1 0h1m2 0h1m0 0h1m0 0h1m2 0h1m3 0h1m0 0h1m0 0h1m-17 1h1m1 0h1m1 0h1m0 0h1m0 0h1m1 0h1m0 0h1m0 0h1m1 0h1m-14 1h1m2 0h1m0 0h1m0 0h1m0 0h1m0 0h1m0 0h1m0 0h1m0 0h1m0 0h1m0 0h1m1 0h1m0 0h1m1 0h1m-17 1h1m3 0h1m0 0h1m0 0h1m0 0h1m2 0h1m0 0h1m3 0h1m-13 1h1m3 0h1m0 0h1m0 0h1m0 0h1m0 0h1m0 0h1m-10 1h1m2 0h1m1 0h1m3 0h1m0 0h1m-13 1h1m6 0h1m1 0h1m0 0h1m-7 1h1m-3 1h1m1 0h1m7 0h1m-14 1h1m1 0h1m6 0h1m0 0h1" stroke="#2838ff" stroke-opacity="0.3" stroke-width="1"/>
<path d="M469 163.5h1m-6 2h1m6 0h1m14 0h1m-13 2h1m7 0h1m-18 1h1m2 0h1m2 0h1m1 0h1m2 0h1m7 0h1m0 0h1m-28 1h1m2 1h1m10 0h1m24 0h1m-46 1h1m14 0h1m6 0h1m-20 1h1m23 0h1m8 1h1m-23 1h1m0 0h1m3 0h1m-3 3h1m-1 1h1m9 0h1" stroke="#2838ff" stroke-opacity="0.25" stroke-width="1"/>
</g>
<rect x="427.30" y="143.20" width="79.80" height="80.00" fill="none" stroke="#7a7a7a" stroke-width="1"/><path d="M427.30 143.20V223.20H507.10" fill="none" stroke="#444" stroke-width="1.1"/><path d="M425.5 154.6h1.8M425.5 166.1h1.8M425.5 177.5h1.8M425.5 188.9h1.8M425.5 200.3h1.8M425.5 211.8h1.8M438.7 223.2v1.8M450.1 223.2v1.8M461.5 223.2v1.8M472.9 223.2v1.8M484.3 223.2v1.8M495.7 223.2v1.8" stroke="#555" stroke-width="0.9" fill="none"/>
<path d="M471.9 156.2L489.2 151.7L505.1 160.1L506.3 173.2L501.8 186.4L486.8 191.1L470.7 187.2L465.7 169.6Z" fill="none" stroke="#8a8a8a" stroke-width="0.9"/>
<text x="473.10" y="188.50" font-size="13.6" textLength="25.4" lengthAdjust="spacingAndGlyphs" style="stroke:none">98.4</text>
<clipPath id="c11"><rect x="427.30" y="233.80" width="79.80" height="80.40"/></clipPath>
<g clip-path="url(#c11)">
<path d="M495 239.5h1m-25 1h1m3 4h1m19 0h1m-9 1h1m2 0h1m5 0h1m-18 1h1m4 0h1m5 0h1m5 0h1m-18 1h1m1 0h1m3 0h1m0 0h1m3 0h1m4 0h1m-8 1h1m8 0h1m2 0h1m-22 1h1m5 0h1m0 0h1m1 0h1m6 0h1m5 0h1m-29 1h1m5 0h1m4 0h1m4 0h1m1 0h1m4 0h1m2 0h1m-32 1h1m5 0h1m1 0h1m0 0h1m0 0h1m0 0h1m1 0h1m0 0h1m6 0h1m2 0h1m0 0h1m1 0h1m9 0h1m0 0h1m-39 1h1m2 0h1m0 0h1m1 0h1m0 0h1m2 0h1m0 0h1m0 0h1m1 0h1m0 0h1m1 0h1m1 0h1m1 0h1m0 0h1m0 0h1m1 0h1m4 0h1m3 0h1m-40 1h1m5 0h1m3 0h1m5 0h1m1 0h1m0 0h1m1 0h1m1 0h1m1 0h1m3 0h1m2 0h1m5 0h1m-33 1h1m1 0h1m9 0h1m1 0h1m3 0h1m0 0h1m1 0h1m1 0h1m0 0h1m1 0h1m0 0h1m-27 1h1m1 0h1m2 0h1m0 0h1m1 0h1m0 0h1m4 0h1m1 0h1m3 0h1m0 0h1m1 0h1m6 0h1m0 0h1m1 0h1m-47 1h1m2 0h1m9 0h1m1 0h1m0 0h1m1 0h1m0 0h1m1 0h1m5 0h1m0 0h1m0 0h1m0 0h1m0 0h1m2 0h1m10 0h1m2 0h1m-51 1h1m7 0h1m15 0h1m0 0h1m1 0h1m1 0h1m0 0h1m0 0h1m0 0h1m0 0h1m0 0h1m0 0h1m0 0h1m3 0h1m0 0h1m0 0h1m0 0h1m2 0h1m-31 1h1m3 0h1m3 0h1m0 0h1m1 0h1m1 0h1m0 0h1m0 0h1m3 0h1m0 0h1m0 0h1m0 0h1m1 0h1m8 0h1m-40 1h1m5 0h1m6 0h1m3 0h1m0 0h1m2 0h1m0 0h1m1 0h1m0 0h1m0 0h1m6 0h1m0 0h1m1 0h1m-39 1h1m2 0h1m3 0h1m0 0h1m2 0h1m0 0h1m0 0h1m0 0h1m0 0h1m3 0h1m3 0h1m1 0h1m2 0h1m0 0h1m1 0h1m0 0h1m4 0h1m1 0h1m-40 1h1m3 0h1m6 0h1m0 0h1m5 0h1m0 0h1m2 0h1m0 0h1m0 0h1m0 0h1m1 0h1m0 0h1m0 0h1m2 0h1m1 0h1m2 0h1m0 0h1m3 0h1m-33 1h1m0 0h1m4 0h1m0 0h1m4 0h1m0 0h1m2 0h1m0 0h1m1 0h1m5 0h1m2 0h1m-35 1h1m1 0h1m0 0h1m6 0h1m0 0h1m1 0h1m0 0h1m5 0h1m0 0h1m1 0h1m3 0h1m2 0h1m0 0h1m2 0h1m-37 1h1m7 0h1m5 0h1m3 0h1m0 0h1m0 0h1m0 0h1m1 0h1m4 0h1m2 0h1m5 0h1m-33 1h1m3 0h1m1 0h1m2 0h1m4 0h1m9 0h1m0 0h1m3 0h1m-46 1h1m2 0h1m15 0h1m4 0h1m2 0h1m3 0h1m0 0h1m12 0h1m4 0h1m-39 1h1m5 0h1m1 0h1m4 0h1m2 0h1m7 0h1m5 0h1m-23 1h1m0 0h1m9 0h1m2 0h1m0 0h1m3 0h1m-17 1h1m0 0h1m9 0h1m14 0h1m0 0h1m-27 1h1m9 0h1m0 0h1m-13 1h1m4 0h1m0 0h1m2 0h1m-11 1h1m10 1h1m1 0h1" stroke="#2838ff" stroke-opacity="0.3" stroke-width="1"/>
<path d="M477 251.5h1m13 1h1m-7 2h1m2 0h1m0 0h1m7 0h1m-15 1h1m1 0h1m5 0h1m0 0h1m2 0h1m-20 1h1m2 0h1m4 0h1m0 0h1m0 0h1m1 0h1m0 0h1m0 0h1m1 0h1m2 0h1m-18 1h1m1 0h1m4 0h1m0 0h1m0 0h1m0 0h1m0 0h1m0 0h1m0 0h1m2 0h1m-13 1h1m1 0h1m0 0h1m0 0h1m0 0h1m0 0h1m0 0h1m4 0h1m-15 1h1m2 0h1m1 0h1m0 0h1m0 0h1m0 0h1m0 0h1m0 0h1m5 0h1m-19 1h1m4 0h1m0 0h1m0 0h1m0 0h1m0 0h1m0 0h1m0 0h1m0 0h1m-16 1h1m3 0h1m4 0h1m0 0h1m0 0h1m0 0h1m0 0h1m0 0h1m1 0h1m2 0h1m-12 1h1m4 0h1m3 0h1m2 0h1m-10 1h1m0 0h1m1 1h1" stroke="#2838ff" stroke-opacity="0.3" stroke-width="1"/>
<path d="M473 251.5h1m-7 3h1m-13 1h1m11 2h1m1 0h1m16 0h1m11 0h1m-31 1h1m10 0h1m-10 1h1m23 0h1m-19 1h1m-26 1h1m21 0h1m1 0h1m4 0h1m5 0h1m-25 1h1m11 0h1m8 0h1m-39 2h1m41 0h1m-28 1h1m6 1h1m15 0h1m-7 1h1m4 0h1m-13 4h1m0 0h1" stroke="#2838ff" stroke-opacity="0.25" stroke-width="1"/>
</g>
<rect x="427.30" y="233.80" width="79.80" height="80.40" fill="none" stroke="#7a7a7a" stroke-width="1"/><path d="M427.30 233.80V314.20H507.10" fill="none" stroke="#444" stroke-width="1.1"/><path d="M425.5 245.3h1.8M425.5 256.8h1.8M425.5 268.3h1.8M425.5 279.7h1.8M425.5 291.2h1.8M425.5 302.7h1.8M438.7 314.2v1.8M450.1 314.2v1.8M461.5 314.2v1.8M472.9 314.2v1.8M484.3 314.2v1.8M495.7 314.2v1.8" stroke="#555" stroke-width="0.9" fill="none"/>
<path d="M471.9 246.8L489.2 242.3L505.1 250.7L506.3 263.8L501.8 277.0L486.8 281.7L470.7 277.8L465.7 260.2Z" fill="none" stroke="#8a8a8a" stroke-width="0.9"/>
<text x="472.70" y="277.00" font-size="13.6" textLength="25.4" lengthAdjust="spacingAndGlyphs" style="stroke:none">91.1</text>
<line x1="396.6" y1="66.5" x2="421" y2="66.5" stroke="#000" stroke-width="1.5"/>
<path d="M420.3 63.5L425 66.5L420.3 69.5Z" fill="#000" stroke="#000" stroke-width="0.8" stroke-linejoin="round"/>
<line x1="396.6" y1="159.8" x2="421" y2="159.8" stroke="#000" stroke-width="1.5"/>
<path d="M420.3 156.8L425 159.8L420.3 162.8Z" fill="#000" stroke="#000" stroke-width="0.8" stroke-linejoin="round"/>
<line x1="396.6" y1="248.0" x2="421" y2="248.0" stroke="#000" stroke-width="1.5"/>
<path d="M420.3 245.0L425 248.0L420.3 251.0Z" fill="#000" stroke="#000" stroke-width="0.8" stroke-linejoin="round"/>
<path d="M0 0H520V965H0Z M1.5 1.5V963H518V1.5Z" fill="#000" fill-rule="evenodd"/>
</svg>
</body></html>
